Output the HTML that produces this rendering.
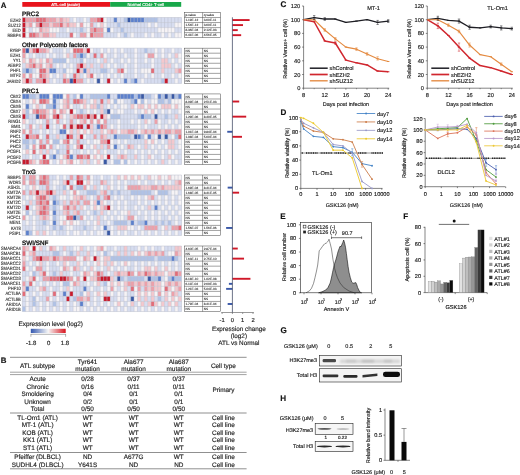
<!DOCTYPE html>
<html><head><meta charset="utf-8"><style>
html,body{margin:0;padding:0;background:#fff;width:520px;height:475px;overflow:hidden}
svg{display:block;font-family:"Liberation Sans", sans-serif;text-rendering:geometricPrecision;filter:blur(0.35px)}
</style></head><body>
<svg width="520" height="475" viewBox="0 0 520 475">
<rect width="520" height="475" fill="#fff"/>
<text x="0.80" y="7.60" font-size="7.9" text-anchor="start" fill="#111" stroke="#111" stroke-width="0.15" font-weight="bold" >A</text>
<rect x="22.30" y="2.00" width="87.90" height="4.80" fill="#e8141c" />
<rect x="110.20" y="2.00" width="71.00" height="4.80" fill="#18a84a" />
<text x="65.60" y="6.00" font-size="4.2" text-anchor="middle" fill="#fff" stroke="#fff" stroke-width="0.15" >ATL cell (acute)</text>
<text x="145.80" y="6.00" font-size="4.2" text-anchor="middle" fill="#fff" stroke="#fff" stroke-width="0.15" >Normal CD4+ T-cell</text>
<text x="22.10" y="16.20" font-size="6.3" text-anchor="start" fill="#111" stroke="#111" stroke-width="0.32" >PRC2</text>
<text x="20.80" y="21.60" font-size="4.8" text-anchor="end" fill="#3a3a3a" stroke="#3a3a3a" stroke-width="0.15" textLength="10.43" lengthAdjust="spacingAndGlyphs">EZH2</text>
<rect x="22.30" y="17.50" width="3.39" height="5.04" fill="#c81a2c"/>
<rect x="25.69" y="17.50" width="10.16" height="5.04" fill="#eda0a9"/>
<rect x="35.85" y="17.50" width="10.16" height="5.04" fill="#e36c77"/>
<rect x="46.01" y="17.50" width="10.16" height="5.04" fill="#eda0a9"/>
<rect x="56.17" y="17.50" width="3.39" height="5.04" fill="#f4c8cd"/>
<rect x="59.56" y="17.50" width="3.39" height="5.04" fill="#eda0a9"/>
<rect x="62.95" y="17.50" width="6.77" height="5.04" fill="#f4c8cd"/>
<rect x="69.72" y="17.50" width="3.39" height="5.04" fill="#d7ddf0"/>
<rect x="73.11" y="17.50" width="3.39" height="5.04" fill="#f6f3f5"/>
<rect x="76.50" y="17.50" width="6.77" height="5.04" fill="#d7ddf0"/>
<rect x="83.27" y="17.50" width="3.39" height="5.04" fill="#f6f3f5"/>
<rect x="86.66" y="17.50" width="3.39" height="5.04" fill="#d7ddf0"/>
<rect x="90.04" y="17.50" width="6.77" height="5.04" fill="#eda0a9"/>
<rect x="96.82" y="17.50" width="3.39" height="5.04" fill="#e36c77"/>
<rect x="100.21" y="17.50" width="3.39" height="5.04" fill="#c81a2c"/>
<rect x="103.59" y="17.50" width="3.39" height="5.04" fill="#f6f3f5"/>
<rect x="106.98" y="17.50" width="6.77" height="5.04" fill="#d7ddf0"/>
<rect x="113.76" y="17.50" width="3.39" height="5.04" fill="#5c80cc"/>
<rect x="117.14" y="17.50" width="6.77" height="5.04" fill="#d7ddf0"/>
<rect x="123.92" y="17.50" width="3.39" height="5.04" fill="#b0c2e6"/>
<rect x="127.30" y="17.50" width="3.39" height="5.04" fill="#3858a4"/>
<rect x="130.69" y="17.50" width="13.55" height="5.04" fill="#5c80cc"/>
<rect x="144.24" y="17.50" width="13.55" height="5.04" fill="#b0c2e6"/>
<rect x="157.79" y="17.50" width="23.71" height="5.04" fill="#d7ddf0"/>
<text x="20.80" y="26.64" font-size="4.8" text-anchor="end" fill="#3a3a3a" stroke="#3a3a3a" stroke-width="0.15" textLength="12.70" lengthAdjust="spacingAndGlyphs">SUZ12</text>
<rect x="22.30" y="22.54" width="3.39" height="5.04" fill="#c81a2c"/>
<rect x="25.69" y="22.54" width="3.39" height="5.04" fill="#f4c8cd"/>
<rect x="29.07" y="22.54" width="3.39" height="5.04" fill="#eda0a9"/>
<rect x="32.46" y="22.54" width="3.39" height="5.04" fill="#f6f3f5"/>
<rect x="35.85" y="22.54" width="3.39" height="5.04" fill="#eda0a9"/>
<rect x="39.24" y="22.54" width="3.39" height="5.04" fill="#c81a2c"/>
<rect x="42.62" y="22.54" width="6.77" height="5.04" fill="#eda0a9"/>
<rect x="49.40" y="22.54" width="3.39" height="5.04" fill="#f4c8cd"/>
<rect x="52.79" y="22.54" width="6.77" height="5.04" fill="#eda0a9"/>
<rect x="59.56" y="22.54" width="3.39" height="5.04" fill="#e36c77"/>
<rect x="62.95" y="22.54" width="3.39" height="5.04" fill="#f4c8cd"/>
<rect x="66.33" y="22.54" width="3.39" height="5.04" fill="#eda0a9"/>
<rect x="69.72" y="22.54" width="6.77" height="5.04" fill="#f4c8cd"/>
<rect x="76.50" y="22.54" width="3.39" height="5.04" fill="#f6f3f5"/>
<rect x="79.88" y="22.54" width="3.39" height="5.04" fill="#eda0a9"/>
<rect x="83.27" y="22.54" width="6.77" height="5.04" fill="#f6f3f5"/>
<rect x="90.04" y="22.54" width="3.39" height="5.04" fill="#eda0a9"/>
<rect x="93.43" y="22.54" width="3.39" height="5.04" fill="#d7ddf0"/>
<rect x="96.82" y="22.54" width="3.39" height="5.04" fill="#f6f3f5"/>
<rect x="100.21" y="22.54" width="3.39" height="5.04" fill="#f4c8cd"/>
<rect x="103.59" y="22.54" width="3.39" height="5.04" fill="#f6f3f5"/>
<rect x="106.98" y="22.54" width="10.16" height="5.04" fill="#d7ddf0"/>
<rect x="117.14" y="22.54" width="3.39" height="5.04" fill="#b0c2e6"/>
<rect x="120.53" y="22.54" width="27.10" height="5.04" fill="#d7ddf0"/>
<rect x="147.63" y="22.54" width="3.39" height="5.04" fill="#f6f3f5"/>
<rect x="151.01" y="22.54" width="3.39" height="5.04" fill="#d7ddf0"/>
<rect x="154.40" y="22.54" width="3.39" height="5.04" fill="#f6f3f5"/>
<rect x="157.79" y="22.54" width="16.94" height="5.04" fill="#d7ddf0"/>
<rect x="174.73" y="22.54" width="6.77" height="5.04" fill="#f6f3f5"/>
<text x="20.80" y="31.68" font-size="4.8" text-anchor="end" fill="#3a3a3a" stroke="#3a3a3a" stroke-width="0.15" textLength="8.39" lengthAdjust="spacingAndGlyphs">EED</text>
<rect x="22.30" y="27.58" width="3.39" height="5.04" fill="#c81a2c"/>
<rect x="25.69" y="27.58" width="3.39" height="5.04" fill="#f6f3f5"/>
<rect x="29.07" y="27.58" width="3.39" height="5.04" fill="#d7ddf0"/>
<rect x="32.46" y="27.58" width="6.77" height="5.04" fill="#f6f3f5"/>
<rect x="39.24" y="27.58" width="3.39" height="5.04" fill="#eda0a9"/>
<rect x="42.62" y="27.58" width="6.77" height="5.04" fill="#f4c8cd"/>
<rect x="49.40" y="27.58" width="10.16" height="5.04" fill="#f6f3f5"/>
<rect x="59.56" y="27.58" width="6.77" height="5.04" fill="#d7ddf0"/>
<rect x="66.33" y="27.58" width="3.39" height="5.04" fill="#f6f3f5"/>
<rect x="69.72" y="27.58" width="10.16" height="5.04" fill="#d7ddf0"/>
<rect x="79.88" y="27.58" width="3.39" height="5.04" fill="#b0c2e6"/>
<rect x="83.27" y="27.58" width="3.39" height="5.04" fill="#d7ddf0"/>
<rect x="86.66" y="27.58" width="3.39" height="5.04" fill="#f6f3f5"/>
<rect x="90.04" y="27.58" width="3.39" height="5.04" fill="#eda0a9"/>
<rect x="93.43" y="27.58" width="3.39" height="5.04" fill="#e36c77"/>
<rect x="96.82" y="27.58" width="6.77" height="5.04" fill="#eda0a9"/>
<rect x="103.59" y="27.58" width="3.39" height="5.04" fill="#f6f3f5"/>
<rect x="106.98" y="27.58" width="3.39" height="5.04" fill="#5c80cc"/>
<rect x="110.37" y="27.58" width="3.39" height="5.04" fill="#f6f3f5"/>
<rect x="113.76" y="27.58" width="6.77" height="5.04" fill="#d7ddf0"/>
<rect x="120.53" y="27.58" width="3.39" height="5.04" fill="#b0c2e6"/>
<rect x="123.92" y="27.58" width="33.87" height="5.04" fill="#d7ddf0"/>
<rect x="157.79" y="27.58" width="16.94" height="5.04" fill="#f6f3f5"/>
<rect x="174.73" y="27.58" width="6.77" height="5.04" fill="#d7ddf0"/>
<text x="20.80" y="36.72" font-size="4.8" text-anchor="end" fill="#3a3a3a" stroke="#3a3a3a" stroke-width="0.15" textLength="13.38" lengthAdjust="spacingAndGlyphs">RBBP4</text>
<rect x="22.30" y="32.62" width="3.39" height="5.04" fill="#c81a2c"/>
<rect x="25.69" y="32.62" width="3.39" height="5.04" fill="#f6f3f5"/>
<rect x="29.07" y="32.62" width="6.77" height="5.04" fill="#e36c77"/>
<rect x="35.85" y="32.62" width="3.39" height="5.04" fill="#eda0a9"/>
<rect x="39.24" y="32.62" width="3.39" height="5.04" fill="#f4c8cd"/>
<rect x="42.62" y="32.62" width="6.77" height="5.04" fill="#eda0a9"/>
<rect x="49.40" y="32.62" width="6.77" height="5.04" fill="#f4c8cd"/>
<rect x="56.17" y="32.62" width="13.55" height="5.04" fill="#d7ddf0"/>
<rect x="69.72" y="32.62" width="3.39" height="5.04" fill="#e36c77"/>
<rect x="73.11" y="32.62" width="3.39" height="5.04" fill="#f6f3f5"/>
<rect x="76.50" y="32.62" width="3.39" height="5.04" fill="#d7ddf0"/>
<rect x="79.88" y="32.62" width="6.77" height="5.04" fill="#eda0a9"/>
<rect x="86.66" y="32.62" width="3.39" height="5.04" fill="#f6f3f5"/>
<rect x="90.04" y="32.62" width="3.39" height="5.04" fill="#e36c77"/>
<rect x="93.43" y="32.62" width="10.16" height="5.04" fill="#eda0a9"/>
<rect x="103.59" y="32.62" width="13.55" height="5.04" fill="#d7ddf0"/>
<rect x="117.14" y="32.62" width="3.39" height="5.04" fill="#f6f3f5"/>
<rect x="120.53" y="32.62" width="3.39" height="5.04" fill="#d7ddf0"/>
<rect x="123.92" y="32.62" width="3.39" height="5.04" fill="#b0c2e6"/>
<rect x="127.30" y="32.62" width="3.39" height="5.04" fill="#d7ddf0"/>
<rect x="130.69" y="32.62" width="3.39" height="5.04" fill="#f6f3f5"/>
<rect x="134.08" y="32.62" width="10.16" height="5.04" fill="#d7ddf0"/>
<rect x="144.24" y="32.62" width="3.39" height="5.04" fill="#f6f3f5"/>
<rect x="147.63" y="32.62" width="3.39" height="5.04" fill="#d7ddf0"/>
<rect x="151.01" y="32.62" width="3.39" height="5.04" fill="#f6f3f5"/>
<rect x="154.40" y="32.62" width="6.77" height="5.04" fill="#d7ddf0"/>
<rect x="161.18" y="32.62" width="3.39" height="5.04" fill="#f6f3f5"/>
<rect x="164.56" y="32.62" width="3.39" height="5.04" fill="#d7ddf0"/>
<rect x="167.95" y="32.62" width="3.39" height="5.04" fill="#f6f3f5"/>
<rect x="171.34" y="32.62" width="3.39" height="5.04" fill="#d7ddf0"/>
<rect x="174.73" y="32.62" width="6.77" height="5.04" fill="#f6f3f5"/>
<path d="M22.30 17.50v20.16M25.69 17.50v20.16M29.07 17.50v20.16M32.46 17.50v20.16M35.85 17.50v20.16M39.24 17.50v20.16M42.62 17.50v20.16M46.01 17.50v20.16M49.40 17.50v20.16M52.79 17.50v20.16M56.17 17.50v20.16M59.56 17.50v20.16M62.95 17.50v20.16M66.33 17.50v20.16M69.72 17.50v20.16M73.11 17.50v20.16M76.50 17.50v20.16M79.88 17.50v20.16M83.27 17.50v20.16M86.66 17.50v20.16M90.04 17.50v20.16M93.43 17.50v20.16M96.82 17.50v20.16M100.21 17.50v20.16M103.59 17.50v20.16M106.98 17.50v20.16M110.37 17.50v20.16M113.76 17.50v20.16M117.14 17.50v20.16M120.53 17.50v20.16M123.92 17.50v20.16M127.30 17.50v20.16M130.69 17.50v20.16M134.08 17.50v20.16M137.47 17.50v20.16M140.85 17.50v20.16M144.24 17.50v20.16M147.63 17.50v20.16M151.01 17.50v20.16M154.40 17.50v20.16M157.79 17.50v20.16M161.18 17.50v20.16M164.56 17.50v20.16M167.95 17.50v20.16M171.34 17.50v20.16M174.73 17.50v20.16M178.11 17.50v20.16M181.50 17.50v20.16M22.30 17.50h159.20M22.30 22.54h159.20M22.30 27.58h159.20M22.30 32.62h159.20M22.30 37.66h159.20" stroke="#babecc" stroke-width="0.5" fill="none"/>
<rect x="184.30" y="12.46" width="36.10" height="25.20" fill="#fff" stroke="#444" stroke-width="0.5"/>
<line x1="202.60" y1="12.46" x2="202.60" y2="37.66" stroke="#444" stroke-width="0.5" />
<text x="185.40" y="16.06" font-size="3.2" text-anchor="start" fill="#333" stroke="#333" stroke-width="0.1" >p-value</text>
<text x="203.70" y="16.06" font-size="3.2" text-anchor="start" fill="#333" stroke="#333" stroke-width="0.1" >q-value</text>
<line x1="184.30" y1="17.50" x2="220.40" y2="17.50" stroke="#444" stroke-width="0.5" />
<text x="185.40" y="21.20" font-size="3.2" text-anchor="start" fill="#333" stroke="#333" stroke-width="0.1" >1.19E-12</text>
<text x="203.70" y="21.20" font-size="3.2" text-anchor="start" fill="#333" stroke="#333" stroke-width="0.1" >3.60E-11</text>
<rect x="232.40" y="19.10" width="17.20" height="1.90" fill="#d01828" />
<line x1="184.30" y1="22.54" x2="220.40" y2="22.54" stroke="#444" stroke-width="0.5" />
<text x="185.40" y="26.24" font-size="3.2" text-anchor="start" fill="#333" stroke="#333" stroke-width="0.1" >1.54E-12</text>
<text x="203.70" y="26.24" font-size="3.2" text-anchor="start" fill="#333" stroke="#333" stroke-width="0.1" >3.60E-11</text>
<rect x="232.40" y="24.14" width="10.61" height="1.90" fill="#d01828" />
<line x1="184.30" y1="27.58" x2="220.40" y2="27.58" stroke="#444" stroke-width="0.5" />
<text x="185.40" y="31.28" font-size="3.2" text-anchor="start" fill="#333" stroke="#333" stroke-width="0.1" >8.36E-04</text>
<text x="203.70" y="31.28" font-size="3.2" text-anchor="start" fill="#333" stroke="#333" stroke-width="0.1" >2.12E-03</text>
<rect x="232.40" y="29.18" width="5.36" height="1.90" fill="#d01828" />
<line x1="184.30" y1="32.62" x2="220.40" y2="32.62" stroke="#444" stroke-width="0.5" />
<text x="185.40" y="36.32" font-size="3.2" text-anchor="start" fill="#333" stroke="#333" stroke-width="0.1" >6.41E-06</text>
<text x="203.70" y="36.32" font-size="3.2" text-anchor="start" fill="#333" stroke="#333" stroke-width="0.1" >4.56E-05</text>
<rect x="232.40" y="34.22" width="8.76" height="1.90" fill="#d01828" />
<text x="22.10" y="46.86" font-size="6.3" text-anchor="start" fill="#111" stroke="#111" stroke-width="0.32" >Other Polycomb factors</text>
<text x="20.80" y="52.26" font-size="4.8" text-anchor="end" fill="#3a3a3a" stroke="#3a3a3a" stroke-width="0.15" textLength="11.04" lengthAdjust="spacingAndGlyphs">RYBP</text>
<rect x="22.30" y="48.16" width="3.39" height="5.04" fill="#e36c77"/>
<rect x="25.69" y="48.16" width="3.39" height="5.04" fill="#3858a4"/>
<rect x="29.07" y="48.16" width="3.39" height="5.04" fill="#f4c8cd"/>
<rect x="32.46" y="48.16" width="3.39" height="5.04" fill="#e36c77"/>
<rect x="35.85" y="48.16" width="3.39" height="5.04" fill="#c81a2c"/>
<rect x="39.24" y="48.16" width="6.77" height="5.04" fill="#eda0a9"/>
<rect x="46.01" y="48.16" width="3.39" height="5.04" fill="#f4c8cd"/>
<rect x="49.40" y="48.16" width="3.39" height="5.04" fill="#f6f3f5"/>
<rect x="52.79" y="48.16" width="10.16" height="5.04" fill="#d7ddf0"/>
<rect x="62.95" y="48.16" width="3.39" height="5.04" fill="#f6f3f5"/>
<rect x="66.33" y="48.16" width="3.39" height="5.04" fill="#d7ddf0"/>
<rect x="69.72" y="48.16" width="3.39" height="5.04" fill="#f6f3f5"/>
<rect x="73.11" y="48.16" width="10.16" height="5.04" fill="#e36c77"/>
<rect x="83.27" y="48.16" width="3.39" height="5.04" fill="#f4c8cd"/>
<rect x="86.66" y="48.16" width="3.39" height="5.04" fill="#c81a2c"/>
<rect x="90.04" y="48.16" width="3.39" height="5.04" fill="#f6f3f5"/>
<rect x="93.43" y="48.16" width="6.77" height="5.04" fill="#d7ddf0"/>
<rect x="100.21" y="48.16" width="3.39" height="5.04" fill="#f6f3f5"/>
<rect x="103.59" y="48.16" width="3.39" height="5.04" fill="#d7ddf0"/>
<rect x="106.98" y="48.16" width="3.39" height="5.04" fill="#f6f3f5"/>
<rect x="110.37" y="48.16" width="3.39" height="5.04" fill="#d7ddf0"/>
<rect x="113.76" y="48.16" width="3.39" height="5.04" fill="#f6f3f5"/>
<rect x="117.14" y="48.16" width="3.39" height="5.04" fill="#d7ddf0"/>
<rect x="120.53" y="48.16" width="3.39" height="5.04" fill="#f6f3f5"/>
<rect x="123.92" y="48.16" width="10.16" height="5.04" fill="#d7ddf0"/>
<rect x="134.08" y="48.16" width="3.39" height="5.04" fill="#f6f3f5"/>
<rect x="137.47" y="48.16" width="6.77" height="5.04" fill="#d7ddf0"/>
<rect x="144.24" y="48.16" width="3.39" height="5.04" fill="#b0c2e6"/>
<rect x="147.63" y="48.16" width="6.77" height="5.04" fill="#d7ddf0"/>
<rect x="154.40" y="48.16" width="3.39" height="5.04" fill="#f6f3f5"/>
<rect x="157.79" y="48.16" width="3.39" height="5.04" fill="#d7ddf0"/>
<rect x="161.18" y="48.16" width="3.39" height="5.04" fill="#f6f3f5"/>
<rect x="164.56" y="48.16" width="6.77" height="5.04" fill="#d7ddf0"/>
<rect x="171.34" y="48.16" width="3.39" height="5.04" fill="#f6f3f5"/>
<rect x="174.73" y="48.16" width="6.77" height="5.04" fill="#d7ddf0"/>
<text x="20.80" y="57.30" font-size="4.8" text-anchor="end" fill="#3a3a3a" stroke="#3a3a3a" stroke-width="0.15" textLength="10.43" lengthAdjust="spacingAndGlyphs">EZH1</text>
<rect x="22.30" y="53.20" width="3.39" height="5.04" fill="#eda0a9"/>
<rect x="25.69" y="53.20" width="3.39" height="5.04" fill="#f6f3f5"/>
<rect x="29.07" y="53.20" width="3.39" height="5.04" fill="#d7ddf0"/>
<rect x="32.46" y="53.20" width="3.39" height="5.04" fill="#f6f3f5"/>
<rect x="35.85" y="53.20" width="10.16" height="5.04" fill="#d7ddf0"/>
<rect x="46.01" y="53.20" width="3.39" height="5.04" fill="#f6f3f5"/>
<rect x="49.40" y="53.20" width="3.39" height="5.04" fill="#d7ddf0"/>
<rect x="52.79" y="53.20" width="3.39" height="5.04" fill="#f6f3f5"/>
<rect x="56.17" y="53.20" width="6.77" height="5.04" fill="#d7ddf0"/>
<rect x="62.95" y="53.20" width="3.39" height="5.04" fill="#f6f3f5"/>
<rect x="66.33" y="53.20" width="3.39" height="5.04" fill="#f4c8cd"/>
<rect x="69.72" y="53.20" width="3.39" height="5.04" fill="#d7ddf0"/>
<rect x="73.11" y="53.20" width="3.39" height="5.04" fill="#eda0a9"/>
<rect x="76.50" y="53.20" width="3.39" height="5.04" fill="#b0c2e6"/>
<rect x="79.88" y="53.20" width="3.39" height="5.04" fill="#5c80cc"/>
<rect x="83.27" y="53.20" width="3.39" height="5.04" fill="#b0c2e6"/>
<rect x="86.66" y="53.20" width="3.39" height="5.04" fill="#f6f3f5"/>
<rect x="90.04" y="53.20" width="3.39" height="5.04" fill="#d7ddf0"/>
<rect x="93.43" y="53.20" width="3.39" height="5.04" fill="#e36c77"/>
<rect x="96.82" y="53.20" width="3.39" height="5.04" fill="#d7ddf0"/>
<rect x="100.21" y="53.20" width="3.39" height="5.04" fill="#eda0a9"/>
<rect x="103.59" y="53.20" width="3.39" height="5.04" fill="#f6f3f5"/>
<rect x="106.98" y="53.20" width="6.77" height="5.04" fill="#d7ddf0"/>
<rect x="113.76" y="53.20" width="3.39" height="5.04" fill="#f6f3f5"/>
<rect x="117.14" y="53.20" width="6.77" height="5.04" fill="#d7ddf0"/>
<rect x="123.92" y="53.20" width="3.39" height="5.04" fill="#f6f3f5"/>
<rect x="127.30" y="53.20" width="6.77" height="5.04" fill="#d7ddf0"/>
<rect x="134.08" y="53.20" width="3.39" height="5.04" fill="#f6f3f5"/>
<rect x="137.47" y="53.20" width="6.77" height="5.04" fill="#d7ddf0"/>
<rect x="144.24" y="53.20" width="3.39" height="5.04" fill="#f6f3f5"/>
<rect x="147.63" y="53.20" width="6.77" height="5.04" fill="#eda0a9"/>
<rect x="154.40" y="53.20" width="3.39" height="5.04" fill="#f6f3f5"/>
<rect x="157.79" y="53.20" width="3.39" height="5.04" fill="#d7ddf0"/>
<rect x="161.18" y="53.20" width="3.39" height="5.04" fill="#f6f3f5"/>
<rect x="164.56" y="53.20" width="3.39" height="5.04" fill="#d7ddf0"/>
<rect x="167.95" y="53.20" width="3.39" height="5.04" fill="#f6f3f5"/>
<rect x="171.34" y="53.20" width="3.39" height="5.04" fill="#d7ddf0"/>
<rect x="174.73" y="53.20" width="3.39" height="5.04" fill="#f4c8cd"/>
<rect x="178.11" y="53.20" width="3.39" height="5.04" fill="#f6f3f5"/>
<text x="20.80" y="62.34" font-size="4.8" text-anchor="end" fill="#3a3a3a" stroke="#3a3a3a" stroke-width="0.15" textLength="7.71" lengthAdjust="spacingAndGlyphs">YY1</text>
<rect x="22.30" y="58.24" width="3.39" height="5.04" fill="#f4c8cd"/>
<rect x="25.69" y="58.24" width="3.39" height="5.04" fill="#f6f3f5"/>
<rect x="29.07" y="58.24" width="3.39" height="5.04" fill="#eda0a9"/>
<rect x="32.46" y="58.24" width="3.39" height="5.04" fill="#f4c8cd"/>
<rect x="35.85" y="58.24" width="3.39" height="5.04" fill="#f6f3f5"/>
<rect x="39.24" y="58.24" width="3.39" height="5.04" fill="#f4c8cd"/>
<rect x="42.62" y="58.24" width="3.39" height="5.04" fill="#f6f3f5"/>
<rect x="46.01" y="58.24" width="3.39" height="5.04" fill="#eda0a9"/>
<rect x="49.40" y="58.24" width="3.39" height="5.04" fill="#f4c8cd"/>
<rect x="52.79" y="58.24" width="13.55" height="5.04" fill="#b0c2e6"/>
<rect x="66.33" y="58.24" width="3.39" height="5.04" fill="#f6f3f5"/>
<rect x="69.72" y="58.24" width="10.16" height="5.04" fill="#d7ddf0"/>
<rect x="79.88" y="58.24" width="3.39" height="5.04" fill="#b0c2e6"/>
<rect x="83.27" y="58.24" width="3.39" height="5.04" fill="#f6f3f5"/>
<rect x="86.66" y="58.24" width="10.16" height="5.04" fill="#d7ddf0"/>
<rect x="96.82" y="58.24" width="3.39" height="5.04" fill="#f6f3f5"/>
<rect x="100.21" y="58.24" width="3.39" height="5.04" fill="#d7ddf0"/>
<rect x="103.59" y="58.24" width="3.39" height="5.04" fill="#f4c8cd"/>
<rect x="106.98" y="58.24" width="3.39" height="5.04" fill="#d7ddf0"/>
<rect x="110.37" y="58.24" width="3.39" height="5.04" fill="#f6f3f5"/>
<rect x="113.76" y="58.24" width="6.77" height="5.04" fill="#d7ddf0"/>
<rect x="120.53" y="58.24" width="3.39" height="5.04" fill="#f6f3f5"/>
<rect x="123.92" y="58.24" width="3.39" height="5.04" fill="#d7ddf0"/>
<rect x="127.30" y="58.24" width="3.39" height="5.04" fill="#f6f3f5"/>
<rect x="130.69" y="58.24" width="3.39" height="5.04" fill="#d7ddf0"/>
<rect x="134.08" y="58.24" width="3.39" height="5.04" fill="#f6f3f5"/>
<rect x="137.47" y="58.24" width="6.77" height="5.04" fill="#d7ddf0"/>
<rect x="144.24" y="58.24" width="3.39" height="5.04" fill="#f6f3f5"/>
<rect x="147.63" y="58.24" width="3.39" height="5.04" fill="#d7ddf0"/>
<rect x="151.01" y="58.24" width="3.39" height="5.04" fill="#f6f3f5"/>
<rect x="154.40" y="58.24" width="6.77" height="5.04" fill="#d7ddf0"/>
<rect x="161.18" y="58.24" width="6.77" height="5.04" fill="#f4c8cd"/>
<rect x="167.95" y="58.24" width="3.39" height="5.04" fill="#d7ddf0"/>
<rect x="171.34" y="58.24" width="3.39" height="5.04" fill="#f6f3f5"/>
<rect x="174.73" y="58.24" width="3.39" height="5.04" fill="#d7ddf0"/>
<rect x="178.11" y="58.24" width="3.39" height="5.04" fill="#f6f3f5"/>
<text x="20.80" y="67.38" font-size="4.8" text-anchor="end" fill="#3a3a3a" stroke="#3a3a3a" stroke-width="0.15" textLength="13.15" lengthAdjust="spacingAndGlyphs">AEBP2</text>
<rect x="22.30" y="63.28" width="3.39" height="5.04" fill="#d7ddf0"/>
<rect x="25.69" y="63.28" width="3.39" height="5.04" fill="#f4c8cd"/>
<rect x="29.07" y="63.28" width="3.39" height="5.04" fill="#eda0a9"/>
<rect x="32.46" y="63.28" width="3.39" height="5.04" fill="#e36c77"/>
<rect x="35.85" y="63.28" width="3.39" height="5.04" fill="#f4c8cd"/>
<rect x="39.24" y="63.28" width="3.39" height="5.04" fill="#eda0a9"/>
<rect x="42.62" y="63.28" width="3.39" height="5.04" fill="#f6f3f5"/>
<rect x="46.01" y="63.28" width="3.39" height="5.04" fill="#f4c8cd"/>
<rect x="49.40" y="63.28" width="3.39" height="5.04" fill="#eda0a9"/>
<rect x="52.79" y="63.28" width="3.39" height="5.04" fill="#d7ddf0"/>
<rect x="56.17" y="63.28" width="3.39" height="5.04" fill="#f6f3f5"/>
<rect x="59.56" y="63.28" width="3.39" height="5.04" fill="#d7ddf0"/>
<rect x="62.95" y="63.28" width="3.39" height="5.04" fill="#f6f3f5"/>
<rect x="66.33" y="63.28" width="3.39" height="5.04" fill="#d7ddf0"/>
<rect x="69.72" y="63.28" width="3.39" height="5.04" fill="#f6f3f5"/>
<rect x="73.11" y="63.28" width="3.39" height="5.04" fill="#d7ddf0"/>
<rect x="76.50" y="63.28" width="3.39" height="5.04" fill="#eda0a9"/>
<rect x="79.88" y="63.28" width="3.39" height="5.04" fill="#c81a2c"/>
<rect x="83.27" y="63.28" width="3.39" height="5.04" fill="#f4c8cd"/>
<rect x="86.66" y="63.28" width="3.39" height="5.04" fill="#d7ddf0"/>
<rect x="90.04" y="63.28" width="3.39" height="5.04" fill="#f4c8cd"/>
<rect x="93.43" y="63.28" width="6.77" height="5.04" fill="#d7ddf0"/>
<rect x="100.21" y="63.28" width="3.39" height="5.04" fill="#f4c8cd"/>
<rect x="103.59" y="63.28" width="3.39" height="5.04" fill="#d7ddf0"/>
<rect x="106.98" y="63.28" width="3.39" height="5.04" fill="#f6f3f5"/>
<rect x="110.37" y="63.28" width="3.39" height="5.04" fill="#d7ddf0"/>
<rect x="113.76" y="63.28" width="3.39" height="5.04" fill="#f6f3f5"/>
<rect x="117.14" y="63.28" width="6.77" height="5.04" fill="#d7ddf0"/>
<rect x="123.92" y="63.28" width="3.39" height="5.04" fill="#f6f3f5"/>
<rect x="127.30" y="63.28" width="6.77" height="5.04" fill="#d7ddf0"/>
<rect x="134.08" y="63.28" width="3.39" height="5.04" fill="#f6f3f5"/>
<rect x="137.47" y="63.28" width="13.55" height="5.04" fill="#d7ddf0"/>
<rect x="151.01" y="63.28" width="3.39" height="5.04" fill="#f6f3f5"/>
<rect x="154.40" y="63.28" width="6.77" height="5.04" fill="#d7ddf0"/>
<rect x="161.18" y="63.28" width="10.16" height="5.04" fill="#f4c8cd"/>
<rect x="171.34" y="63.28" width="3.39" height="5.04" fill="#d7ddf0"/>
<rect x="174.73" y="63.28" width="3.39" height="5.04" fill="#f6f3f5"/>
<rect x="178.11" y="63.28" width="3.39" height="5.04" fill="#d7ddf0"/>
<text x="20.80" y="72.42" font-size="4.8" text-anchor="end" fill="#3a3a3a" stroke="#3a3a3a" stroke-width="0.15" textLength="10.43" lengthAdjust="spacingAndGlyphs">PHF1</text>
<rect x="22.30" y="68.32" width="3.39" height="5.04" fill="#b0c2e6"/>
<rect x="25.69" y="68.32" width="3.39" height="5.04" fill="#5c80cc"/>
<rect x="29.07" y="68.32" width="3.39" height="5.04" fill="#b0c2e6"/>
<rect x="32.46" y="68.32" width="3.39" height="5.04" fill="#d7ddf0"/>
<rect x="35.85" y="68.32" width="3.39" height="5.04" fill="#f6f3f5"/>
<rect x="39.24" y="68.32" width="6.77" height="5.04" fill="#e36c77"/>
<rect x="46.01" y="68.32" width="3.39" height="5.04" fill="#f4c8cd"/>
<rect x="49.40" y="68.32" width="6.77" height="5.04" fill="#5c80cc"/>
<rect x="56.17" y="68.32" width="6.77" height="5.04" fill="#d7ddf0"/>
<rect x="62.95" y="68.32" width="3.39" height="5.04" fill="#b0c2e6"/>
<rect x="66.33" y="68.32" width="6.77" height="5.04" fill="#f6f3f5"/>
<rect x="73.11" y="68.32" width="3.39" height="5.04" fill="#d7ddf0"/>
<rect x="76.50" y="68.32" width="3.39" height="5.04" fill="#c81a2c"/>
<rect x="79.88" y="68.32" width="3.39" height="5.04" fill="#f4c8cd"/>
<rect x="83.27" y="68.32" width="3.39" height="5.04" fill="#5c80cc"/>
<rect x="86.66" y="68.32" width="3.39" height="5.04" fill="#f4c8cd"/>
<rect x="90.04" y="68.32" width="10.16" height="5.04" fill="#d7ddf0"/>
<rect x="100.21" y="68.32" width="6.77" height="5.04" fill="#b0c2e6"/>
<rect x="106.98" y="68.32" width="3.39" height="5.04" fill="#d7ddf0"/>
<rect x="110.37" y="68.32" width="3.39" height="5.04" fill="#f6f3f5"/>
<rect x="113.76" y="68.32" width="3.39" height="5.04" fill="#d7ddf0"/>
<rect x="117.14" y="68.32" width="3.39" height="5.04" fill="#eda0a9"/>
<rect x="120.53" y="68.32" width="3.39" height="5.04" fill="#e36c77"/>
<rect x="123.92" y="68.32" width="3.39" height="5.04" fill="#f6f3f5"/>
<rect x="127.30" y="68.32" width="6.77" height="5.04" fill="#d7ddf0"/>
<rect x="134.08" y="68.32" width="3.39" height="5.04" fill="#f6f3f5"/>
<rect x="137.47" y="68.32" width="3.39" height="5.04" fill="#d7ddf0"/>
<rect x="140.85" y="68.32" width="10.16" height="5.04" fill="#f6f3f5"/>
<rect x="151.01" y="68.32" width="3.39" height="5.04" fill="#e36c77"/>
<rect x="154.40" y="68.32" width="6.77" height="5.04" fill="#d7ddf0"/>
<rect x="161.18" y="68.32" width="3.39" height="5.04" fill="#f4c8cd"/>
<rect x="164.56" y="68.32" width="10.16" height="5.04" fill="#d7ddf0"/>
<rect x="174.73" y="68.32" width="3.39" height="5.04" fill="#f4c8cd"/>
<rect x="178.11" y="68.32" width="3.39" height="5.04" fill="#eda0a9"/>
<text x="20.80" y="77.46" font-size="4.8" text-anchor="end" fill="#3a3a3a" stroke="#3a3a3a" stroke-width="0.15" textLength="10.65" lengthAdjust="spacingAndGlyphs">MTF2</text>
<rect x="22.30" y="73.36" width="3.39" height="5.04" fill="#eda0a9"/>
<rect x="25.69" y="73.36" width="3.39" height="5.04" fill="#f6f3f5"/>
<rect x="29.07" y="73.36" width="3.39" height="5.04" fill="#eda0a9"/>
<rect x="32.46" y="73.36" width="6.77" height="5.04" fill="#f6f3f5"/>
<rect x="39.24" y="73.36" width="3.39" height="5.04" fill="#e36c77"/>
<rect x="42.62" y="73.36" width="3.39" height="5.04" fill="#eda0a9"/>
<rect x="46.01" y="73.36" width="3.39" height="5.04" fill="#f4c8cd"/>
<rect x="49.40" y="73.36" width="3.39" height="5.04" fill="#f6f3f5"/>
<rect x="52.79" y="73.36" width="3.39" height="5.04" fill="#d7ddf0"/>
<rect x="56.17" y="73.36" width="3.39" height="5.04" fill="#f6f3f5"/>
<rect x="59.56" y="73.36" width="3.39" height="5.04" fill="#d7ddf0"/>
<rect x="62.95" y="73.36" width="3.39" height="5.04" fill="#f4c8cd"/>
<rect x="66.33" y="73.36" width="3.39" height="5.04" fill="#f6f3f5"/>
<rect x="69.72" y="73.36" width="3.39" height="5.04" fill="#d7ddf0"/>
<rect x="73.11" y="73.36" width="3.39" height="5.04" fill="#e36c77"/>
<rect x="76.50" y="73.36" width="3.39" height="5.04" fill="#f4c8cd"/>
<rect x="79.88" y="73.36" width="3.39" height="5.04" fill="#d7ddf0"/>
<rect x="83.27" y="73.36" width="3.39" height="5.04" fill="#f6f3f5"/>
<rect x="86.66" y="73.36" width="3.39" height="5.04" fill="#f4c8cd"/>
<rect x="90.04" y="73.36" width="3.39" height="5.04" fill="#e36c77"/>
<rect x="93.43" y="73.36" width="3.39" height="5.04" fill="#f6f3f5"/>
<rect x="96.82" y="73.36" width="3.39" height="5.04" fill="#d7ddf0"/>
<rect x="100.21" y="73.36" width="3.39" height="5.04" fill="#f6f3f5"/>
<rect x="103.59" y="73.36" width="3.39" height="5.04" fill="#d7ddf0"/>
<rect x="106.98" y="73.36" width="3.39" height="5.04" fill="#f6f3f5"/>
<rect x="110.37" y="73.36" width="3.39" height="5.04" fill="#d7ddf0"/>
<rect x="113.76" y="73.36" width="3.39" height="5.04" fill="#f6f3f5"/>
<rect x="117.14" y="73.36" width="3.39" height="5.04" fill="#d7ddf0"/>
<rect x="120.53" y="73.36" width="3.39" height="5.04" fill="#f6f3f5"/>
<rect x="123.92" y="73.36" width="10.16" height="5.04" fill="#d7ddf0"/>
<rect x="134.08" y="73.36" width="3.39" height="5.04" fill="#f6f3f5"/>
<rect x="137.47" y="73.36" width="6.77" height="5.04" fill="#d7ddf0"/>
<rect x="144.24" y="73.36" width="3.39" height="5.04" fill="#f6f3f5"/>
<rect x="147.63" y="73.36" width="3.39" height="5.04" fill="#d7ddf0"/>
<rect x="151.01" y="73.36" width="3.39" height="5.04" fill="#f6f3f5"/>
<rect x="154.40" y="73.36" width="6.77" height="5.04" fill="#d7ddf0"/>
<rect x="161.18" y="73.36" width="3.39" height="5.04" fill="#f6f3f5"/>
<rect x="164.56" y="73.36" width="6.77" height="5.04" fill="#d7ddf0"/>
<rect x="171.34" y="73.36" width="3.39" height="5.04" fill="#f6f3f5"/>
<rect x="174.73" y="73.36" width="3.39" height="5.04" fill="#d7ddf0"/>
<rect x="178.11" y="73.36" width="3.39" height="5.04" fill="#f6f3f5"/>
<text x="20.80" y="82.50" font-size="4.8" text-anchor="end" fill="#3a3a3a" stroke="#3a3a3a" stroke-width="0.15" textLength="14.06" lengthAdjust="spacingAndGlyphs">JARID2</text>
<rect x="22.30" y="78.40" width="3.39" height="5.04" fill="#f4c8cd"/>
<rect x="25.69" y="78.40" width="3.39" height="5.04" fill="#c81a2c"/>
<rect x="29.07" y="78.40" width="3.39" height="5.04" fill="#eda0a9"/>
<rect x="32.46" y="78.40" width="3.39" height="5.04" fill="#d7ddf0"/>
<rect x="35.85" y="78.40" width="6.77" height="5.04" fill="#eda0a9"/>
<rect x="42.62" y="78.40" width="3.39" height="5.04" fill="#c81a2c"/>
<rect x="46.01" y="78.40" width="3.39" height="5.04" fill="#f4c8cd"/>
<rect x="49.40" y="78.40" width="3.39" height="5.04" fill="#d7ddf0"/>
<rect x="52.79" y="78.40" width="3.39" height="5.04" fill="#f6f3f5"/>
<rect x="56.17" y="78.40" width="6.77" height="5.04" fill="#d7ddf0"/>
<rect x="62.95" y="78.40" width="3.39" height="5.04" fill="#e36c77"/>
<rect x="66.33" y="78.40" width="3.39" height="5.04" fill="#eda0a9"/>
<rect x="69.72" y="78.40" width="3.39" height="5.04" fill="#3858a4"/>
<rect x="73.11" y="78.40" width="3.39" height="5.04" fill="#c81a2c"/>
<rect x="76.50" y="78.40" width="6.77" height="5.04" fill="#eda0a9"/>
<rect x="83.27" y="78.40" width="3.39" height="5.04" fill="#d7ddf0"/>
<rect x="86.66" y="78.40" width="3.39" height="5.04" fill="#f6f3f5"/>
<rect x="90.04" y="78.40" width="3.39" height="5.04" fill="#d7ddf0"/>
<rect x="93.43" y="78.40" width="3.39" height="5.04" fill="#f6f3f5"/>
<rect x="96.82" y="78.40" width="3.39" height="5.04" fill="#3858a4"/>
<rect x="100.21" y="78.40" width="3.39" height="5.04" fill="#f6f3f5"/>
<rect x="103.59" y="78.40" width="3.39" height="5.04" fill="#d7ddf0"/>
<rect x="106.98" y="78.40" width="3.39" height="5.04" fill="#c81a2c"/>
<rect x="110.37" y="78.40" width="3.39" height="5.04" fill="#f6f3f5"/>
<rect x="113.76" y="78.40" width="3.39" height="5.04" fill="#d7ddf0"/>
<rect x="117.14" y="78.40" width="3.39" height="5.04" fill="#f6f3f5"/>
<rect x="120.53" y="78.40" width="3.39" height="5.04" fill="#d7ddf0"/>
<rect x="123.92" y="78.40" width="3.39" height="5.04" fill="#5c80cc"/>
<rect x="127.30" y="78.40" width="3.39" height="5.04" fill="#d7ddf0"/>
<rect x="130.69" y="78.40" width="3.39" height="5.04" fill="#b0c2e6"/>
<rect x="134.08" y="78.40" width="3.39" height="5.04" fill="#5c80cc"/>
<rect x="137.47" y="78.40" width="3.39" height="5.04" fill="#d7ddf0"/>
<rect x="140.85" y="78.40" width="3.39" height="5.04" fill="#f6f3f5"/>
<rect x="144.24" y="78.40" width="16.94" height="5.04" fill="#d7ddf0"/>
<rect x="161.18" y="78.40" width="3.39" height="5.04" fill="#b0c2e6"/>
<rect x="164.56" y="78.40" width="3.39" height="5.04" fill="#c81a2c"/>
<rect x="167.95" y="78.40" width="6.77" height="5.04" fill="#d7ddf0"/>
<rect x="174.73" y="78.40" width="3.39" height="5.04" fill="#f6f3f5"/>
<rect x="178.11" y="78.40" width="3.39" height="5.04" fill="#d7ddf0"/>
<path d="M22.30 48.16v35.28M25.69 48.16v35.28M29.07 48.16v35.28M32.46 48.16v35.28M35.85 48.16v35.28M39.24 48.16v35.28M42.62 48.16v35.28M46.01 48.16v35.28M49.40 48.16v35.28M52.79 48.16v35.28M56.17 48.16v35.28M59.56 48.16v35.28M62.95 48.16v35.28M66.33 48.16v35.28M69.72 48.16v35.28M73.11 48.16v35.28M76.50 48.16v35.28M79.88 48.16v35.28M83.27 48.16v35.28M86.66 48.16v35.28M90.04 48.16v35.28M93.43 48.16v35.28M96.82 48.16v35.28M100.21 48.16v35.28M103.59 48.16v35.28M106.98 48.16v35.28M110.37 48.16v35.28M113.76 48.16v35.28M117.14 48.16v35.28M120.53 48.16v35.28M123.92 48.16v35.28M127.30 48.16v35.28M130.69 48.16v35.28M134.08 48.16v35.28M137.47 48.16v35.28M140.85 48.16v35.28M144.24 48.16v35.28M147.63 48.16v35.28M151.01 48.16v35.28M154.40 48.16v35.28M157.79 48.16v35.28M161.18 48.16v35.28M164.56 48.16v35.28M167.95 48.16v35.28M171.34 48.16v35.28M174.73 48.16v35.28M178.11 48.16v35.28M181.50 48.16v35.28M22.30 48.16h159.20M22.30 53.20h159.20M22.30 58.24h159.20M22.30 63.28h159.20M22.30 68.32h159.20M22.30 73.36h159.20M22.30 78.40h159.20M22.30 83.44h159.20" stroke="#babecc" stroke-width="0.5" fill="none"/>
<rect x="184.30" y="48.16" width="36.10" height="35.28" fill="#fff" stroke="#444" stroke-width="0.5"/>
<line x1="202.60" y1="48.16" x2="202.60" y2="83.44" stroke="#444" stroke-width="0.5" />
<text x="185.40" y="51.86" font-size="3.2" text-anchor="start" fill="#333" stroke="#333" stroke-width="0.1" >NS</text>
<text x="203.70" y="51.86" font-size="3.2" text-anchor="start" fill="#333" stroke="#333" stroke-width="0.1" >NS</text>
<line x1="184.30" y1="53.20" x2="220.40" y2="53.20" stroke="#444" stroke-width="0.5" />
<text x="185.40" y="56.90" font-size="3.2" text-anchor="start" fill="#333" stroke="#333" stroke-width="0.1" >NS</text>
<text x="203.70" y="56.90" font-size="3.2" text-anchor="start" fill="#333" stroke="#333" stroke-width="0.1" >NS</text>
<line x1="184.30" y1="58.24" x2="220.40" y2="58.24" stroke="#444" stroke-width="0.5" />
<text x="185.40" y="61.94" font-size="3.2" text-anchor="start" fill="#333" stroke="#333" stroke-width="0.1" >NS</text>
<text x="203.70" y="61.94" font-size="3.2" text-anchor="start" fill="#333" stroke="#333" stroke-width="0.1" >NS</text>
<line x1="184.30" y1="63.28" x2="220.40" y2="63.28" stroke="#444" stroke-width="0.5" />
<text x="185.40" y="66.98" font-size="3.2" text-anchor="start" fill="#333" stroke="#333" stroke-width="0.1" >NS</text>
<text x="203.70" y="66.98" font-size="3.2" text-anchor="start" fill="#333" stroke="#333" stroke-width="0.1" >NS</text>
<line x1="184.30" y1="68.32" x2="220.40" y2="68.32" stroke="#444" stroke-width="0.5" />
<text x="185.40" y="72.02" font-size="3.2" text-anchor="start" fill="#333" stroke="#333" stroke-width="0.1" >NS</text>
<text x="203.70" y="72.02" font-size="3.2" text-anchor="start" fill="#333" stroke="#333" stroke-width="0.1" >NS</text>
<line x1="184.30" y1="73.36" x2="220.40" y2="73.36" stroke="#444" stroke-width="0.5" />
<text x="185.40" y="77.06" font-size="3.2" text-anchor="start" fill="#333" stroke="#333" stroke-width="0.1" >NS</text>
<text x="203.70" y="77.06" font-size="3.2" text-anchor="start" fill="#333" stroke="#333" stroke-width="0.1" >NS</text>
<line x1="184.30" y1="78.40" x2="220.40" y2="78.40" stroke="#444" stroke-width="0.5" />
<text x="185.40" y="82.10" font-size="3.2" text-anchor="start" fill="#333" stroke="#333" stroke-width="0.1" >NS</text>
<text x="203.70" y="82.10" font-size="3.2" text-anchor="start" fill="#333" stroke="#333" stroke-width="0.1" >NS</text>
<text x="22.10" y="92.64" font-size="6.3" text-anchor="start" fill="#111" stroke="#111" stroke-width="0.32" >PRC1</text>
<text x="20.80" y="98.04" font-size="4.8" text-anchor="end" fill="#3a3a3a" stroke="#3a3a3a" stroke-width="0.15" textLength="10.66" lengthAdjust="spacingAndGlyphs">CBX2</text>
<rect x="22.30" y="93.94" width="6.77" height="5.04" fill="#5c80cc"/>
<rect x="29.07" y="93.94" width="6.77" height="5.04" fill="#b0c2e6"/>
<rect x="35.85" y="93.94" width="3.39" height="5.04" fill="#d7ddf0"/>
<rect x="39.24" y="93.94" width="10.16" height="5.04" fill="#5c80cc"/>
<rect x="49.40" y="93.94" width="3.39" height="5.04" fill="#f6f3f5"/>
<rect x="52.79" y="93.94" width="10.16" height="5.04" fill="#5c80cc"/>
<rect x="62.95" y="93.94" width="3.39" height="5.04" fill="#f6f3f5"/>
<rect x="66.33" y="93.94" width="3.39" height="5.04" fill="#eda0a9"/>
<rect x="69.72" y="93.94" width="3.39" height="5.04" fill="#d7ddf0"/>
<rect x="73.11" y="93.94" width="3.39" height="5.04" fill="#b0c2e6"/>
<rect x="76.50" y="93.94" width="3.39" height="5.04" fill="#f6f3f5"/>
<rect x="79.88" y="93.94" width="3.39" height="5.04" fill="#5c80cc"/>
<rect x="83.27" y="93.94" width="6.77" height="5.04" fill="#d7ddf0"/>
<rect x="90.04" y="93.94" width="16.94" height="5.04" fill="#b0c2e6"/>
<rect x="106.98" y="93.94" width="3.39" height="5.04" fill="#5c80cc"/>
<rect x="110.37" y="93.94" width="6.77" height="5.04" fill="#d7ddf0"/>
<rect x="117.14" y="93.94" width="16.94" height="5.04" fill="#5c80cc"/>
<rect x="134.08" y="93.94" width="3.39" height="5.04" fill="#b0c2e6"/>
<rect x="137.47" y="93.94" width="3.39" height="5.04" fill="#5c80cc"/>
<rect x="140.85" y="93.94" width="3.39" height="5.04" fill="#3858a4"/>
<rect x="144.24" y="93.94" width="6.77" height="5.04" fill="#b0c2e6"/>
<rect x="151.01" y="93.94" width="3.39" height="5.04" fill="#d7ddf0"/>
<rect x="154.40" y="93.94" width="3.39" height="5.04" fill="#f6f3f5"/>
<rect x="157.79" y="93.94" width="3.39" height="5.04" fill="#5c80cc"/>
<rect x="161.18" y="93.94" width="3.39" height="5.04" fill="#b0c2e6"/>
<rect x="164.56" y="93.94" width="3.39" height="5.04" fill="#3858a4"/>
<rect x="167.95" y="93.94" width="3.39" height="5.04" fill="#b0c2e6"/>
<rect x="171.34" y="93.94" width="3.39" height="5.04" fill="#3858a4"/>
<rect x="174.73" y="93.94" width="3.39" height="5.04" fill="#b0c2e6"/>
<rect x="178.11" y="93.94" width="3.39" height="5.04" fill="#5c80cc"/>
<text x="20.80" y="103.08" font-size="4.8" text-anchor="end" fill="#3a3a3a" stroke="#3a3a3a" stroke-width="0.15" textLength="10.66" lengthAdjust="spacingAndGlyphs">CBX4</text>
<rect x="22.30" y="98.98" width="3.39" height="5.04" fill="#f6f3f5"/>
<rect x="25.69" y="98.98" width="3.39" height="5.04" fill="#d7ddf0"/>
<rect x="29.07" y="98.98" width="3.39" height="5.04" fill="#f6f3f5"/>
<rect x="32.46" y="98.98" width="3.39" height="5.04" fill="#f4c8cd"/>
<rect x="35.85" y="98.98" width="3.39" height="5.04" fill="#f6f3f5"/>
<rect x="39.24" y="98.98" width="6.77" height="5.04" fill="#e36c77"/>
<rect x="46.01" y="98.98" width="3.39" height="5.04" fill="#eda0a9"/>
<rect x="49.40" y="98.98" width="3.39" height="5.04" fill="#f6f3f5"/>
<rect x="52.79" y="98.98" width="3.39" height="5.04" fill="#5c80cc"/>
<rect x="56.17" y="98.98" width="3.39" height="5.04" fill="#d7ddf0"/>
<rect x="59.56" y="98.98" width="3.39" height="5.04" fill="#f6f3f5"/>
<rect x="62.95" y="98.98" width="3.39" height="5.04" fill="#f4c8cd"/>
<rect x="66.33" y="98.98" width="3.39" height="5.04" fill="#eda0a9"/>
<rect x="69.72" y="98.98" width="3.39" height="5.04" fill="#d7ddf0"/>
<rect x="73.11" y="98.98" width="6.77" height="5.04" fill="#e36c77"/>
<rect x="79.88" y="98.98" width="3.39" height="5.04" fill="#eda0a9"/>
<rect x="83.27" y="98.98" width="3.39" height="5.04" fill="#f4c8cd"/>
<rect x="86.66" y="98.98" width="3.39" height="5.04" fill="#d7ddf0"/>
<rect x="90.04" y="98.98" width="3.39" height="5.04" fill="#f6f3f5"/>
<rect x="93.43" y="98.98" width="3.39" height="5.04" fill="#f4c8cd"/>
<rect x="96.82" y="98.98" width="3.39" height="5.04" fill="#d7ddf0"/>
<rect x="100.21" y="98.98" width="3.39" height="5.04" fill="#e36c77"/>
<rect x="103.59" y="98.98" width="3.39" height="5.04" fill="#d7ddf0"/>
<rect x="106.98" y="98.98" width="3.39" height="5.04" fill="#f4c8cd"/>
<rect x="110.37" y="98.98" width="3.39" height="5.04" fill="#f6f3f5"/>
<rect x="113.76" y="98.98" width="3.39" height="5.04" fill="#b0c2e6"/>
<rect x="117.14" y="98.98" width="6.77" height="5.04" fill="#f6f3f5"/>
<rect x="123.92" y="98.98" width="6.77" height="5.04" fill="#d7ddf0"/>
<rect x="130.69" y="98.98" width="3.39" height="5.04" fill="#b0c2e6"/>
<rect x="134.08" y="98.98" width="3.39" height="5.04" fill="#5c80cc"/>
<rect x="137.47" y="98.98" width="3.39" height="5.04" fill="#f6f3f5"/>
<rect x="140.85" y="98.98" width="3.39" height="5.04" fill="#b0c2e6"/>
<rect x="144.24" y="98.98" width="3.39" height="5.04" fill="#f6f3f5"/>
<rect x="147.63" y="98.98" width="3.39" height="5.04" fill="#d7ddf0"/>
<rect x="151.01" y="98.98" width="6.77" height="5.04" fill="#f6f3f5"/>
<rect x="157.79" y="98.98" width="6.77" height="5.04" fill="#b0c2e6"/>
<rect x="164.56" y="98.98" width="3.39" height="5.04" fill="#d7ddf0"/>
<rect x="167.95" y="98.98" width="3.39" height="5.04" fill="#b0c2e6"/>
<rect x="171.34" y="98.98" width="10.16" height="5.04" fill="#f6f3f5"/>
<text x="20.80" y="108.12" font-size="4.8" text-anchor="end" fill="#3a3a3a" stroke="#3a3a3a" stroke-width="0.15" textLength="10.66" lengthAdjust="spacingAndGlyphs">CBX6</text>
<rect x="22.30" y="104.02" width="3.39" height="5.04" fill="#f6f3f5"/>
<rect x="25.69" y="104.02" width="3.39" height="5.04" fill="#5c80cc"/>
<rect x="29.07" y="104.02" width="3.39" height="5.04" fill="#d7ddf0"/>
<rect x="32.46" y="104.02" width="3.39" height="5.04" fill="#f6f3f5"/>
<rect x="35.85" y="104.02" width="3.39" height="5.04" fill="#f4c8cd"/>
<rect x="39.24" y="104.02" width="3.39" height="5.04" fill="#d7ddf0"/>
<rect x="42.62" y="104.02" width="3.39" height="5.04" fill="#f6f3f5"/>
<rect x="46.01" y="104.02" width="6.77" height="5.04" fill="#b0c2e6"/>
<rect x="52.79" y="104.02" width="3.39" height="5.04" fill="#5c80cc"/>
<rect x="56.17" y="104.02" width="3.39" height="5.04" fill="#d7ddf0"/>
<rect x="59.56" y="104.02" width="3.39" height="5.04" fill="#f6f3f5"/>
<rect x="62.95" y="104.02" width="3.39" height="5.04" fill="#f4c8cd"/>
<rect x="66.33" y="104.02" width="3.39" height="5.04" fill="#eda0a9"/>
<rect x="69.72" y="104.02" width="3.39" height="5.04" fill="#f6f3f5"/>
<rect x="73.11" y="104.02" width="6.77" height="5.04" fill="#d7ddf0"/>
<rect x="79.88" y="104.02" width="3.39" height="5.04" fill="#f6f3f5"/>
<rect x="83.27" y="104.02" width="3.39" height="5.04" fill="#f4c8cd"/>
<rect x="86.66" y="104.02" width="3.39" height="5.04" fill="#f6f3f5"/>
<rect x="90.04" y="104.02" width="6.77" height="5.04" fill="#f4c8cd"/>
<rect x="96.82" y="104.02" width="3.39" height="5.04" fill="#b0c2e6"/>
<rect x="100.21" y="104.02" width="3.39" height="5.04" fill="#f4c8cd"/>
<rect x="103.59" y="104.02" width="3.39" height="5.04" fill="#d7ddf0"/>
<rect x="106.98" y="104.02" width="3.39" height="5.04" fill="#f6f3f5"/>
<rect x="110.37" y="104.02" width="3.39" height="5.04" fill="#d7ddf0"/>
<rect x="113.76" y="104.02" width="3.39" height="5.04" fill="#f6f3f5"/>
<rect x="117.14" y="104.02" width="3.39" height="5.04" fill="#d7ddf0"/>
<rect x="120.53" y="104.02" width="6.77" height="5.04" fill="#f6f3f5"/>
<rect x="127.30" y="104.02" width="3.39" height="5.04" fill="#d7ddf0"/>
<rect x="130.69" y="104.02" width="3.39" height="5.04" fill="#f4c8cd"/>
<rect x="134.08" y="104.02" width="3.39" height="5.04" fill="#f6f3f5"/>
<rect x="137.47" y="104.02" width="6.77" height="5.04" fill="#f4c8cd"/>
<rect x="144.24" y="104.02" width="3.39" height="5.04" fill="#f6f3f5"/>
<rect x="147.63" y="104.02" width="3.39" height="5.04" fill="#f4c8cd"/>
<rect x="151.01" y="104.02" width="3.39" height="5.04" fill="#f6f3f5"/>
<rect x="154.40" y="104.02" width="3.39" height="5.04" fill="#f4c8cd"/>
<rect x="157.79" y="104.02" width="3.39" height="5.04" fill="#f6f3f5"/>
<rect x="161.18" y="104.02" width="10.16" height="5.04" fill="#f4c8cd"/>
<rect x="171.34" y="104.02" width="3.39" height="5.04" fill="#f6f3f5"/>
<rect x="174.73" y="104.02" width="3.39" height="5.04" fill="#f4c8cd"/>
<rect x="178.11" y="104.02" width="3.39" height="5.04" fill="#f6f3f5"/>
<text x="20.80" y="113.16" font-size="4.8" text-anchor="end" fill="#3a3a3a" stroke="#3a3a3a" stroke-width="0.15" textLength="10.66" lengthAdjust="spacingAndGlyphs">CBX7</text>
<rect x="22.30" y="109.06" width="3.39" height="5.04" fill="#f4c8cd"/>
<rect x="25.69" y="109.06" width="3.39" height="5.04" fill="#b0c2e6"/>
<rect x="29.07" y="109.06" width="3.39" height="5.04" fill="#f6f3f5"/>
<rect x="32.46" y="109.06" width="3.39" height="5.04" fill="#eda0a9"/>
<rect x="35.85" y="109.06" width="3.39" height="5.04" fill="#e36c77"/>
<rect x="39.24" y="109.06" width="6.77" height="5.04" fill="#eda0a9"/>
<rect x="46.01" y="109.06" width="3.39" height="5.04" fill="#f4c8cd"/>
<rect x="49.40" y="109.06" width="3.39" height="5.04" fill="#f6f3f5"/>
<rect x="52.79" y="109.06" width="3.39" height="5.04" fill="#eda0a9"/>
<rect x="56.17" y="109.06" width="3.39" height="5.04" fill="#f6f3f5"/>
<rect x="59.56" y="109.06" width="3.39" height="5.04" fill="#eda0a9"/>
<rect x="62.95" y="109.06" width="3.39" height="5.04" fill="#f4c8cd"/>
<rect x="66.33" y="109.06" width="3.39" height="5.04" fill="#f6f3f5"/>
<rect x="69.72" y="109.06" width="3.39" height="5.04" fill="#c81a2c"/>
<rect x="73.11" y="109.06" width="3.39" height="5.04" fill="#f6f3f5"/>
<rect x="76.50" y="109.06" width="3.39" height="5.04" fill="#d7ddf0"/>
<rect x="79.88" y="109.06" width="3.39" height="5.04" fill="#b0c2e6"/>
<rect x="83.27" y="109.06" width="3.39" height="5.04" fill="#d7ddf0"/>
<rect x="86.66" y="109.06" width="3.39" height="5.04" fill="#f6f3f5"/>
<rect x="90.04" y="109.06" width="3.39" height="5.04" fill="#d7ddf0"/>
<rect x="93.43" y="109.06" width="3.39" height="5.04" fill="#f6f3f5"/>
<rect x="96.82" y="109.06" width="3.39" height="5.04" fill="#d7ddf0"/>
<rect x="100.21" y="109.06" width="3.39" height="5.04" fill="#f4c8cd"/>
<rect x="103.59" y="109.06" width="3.39" height="5.04" fill="#b0c2e6"/>
<rect x="106.98" y="109.06" width="3.39" height="5.04" fill="#3858a4"/>
<rect x="110.37" y="109.06" width="3.39" height="5.04" fill="#f6f3f5"/>
<rect x="113.76" y="109.06" width="3.39" height="5.04" fill="#d7ddf0"/>
<rect x="117.14" y="109.06" width="6.77" height="5.04" fill="#f6f3f5"/>
<rect x="123.92" y="109.06" width="10.16" height="5.04" fill="#d7ddf0"/>
<rect x="134.08" y="109.06" width="3.39" height="5.04" fill="#f6f3f5"/>
<rect x="137.47" y="109.06" width="3.39" height="5.04" fill="#d7ddf0"/>
<rect x="140.85" y="109.06" width="3.39" height="5.04" fill="#f6f3f5"/>
<rect x="144.24" y="109.06" width="3.39" height="5.04" fill="#f4c8cd"/>
<rect x="147.63" y="109.06" width="3.39" height="5.04" fill="#f6f3f5"/>
<rect x="151.01" y="109.06" width="3.39" height="5.04" fill="#f4c8cd"/>
<rect x="154.40" y="109.06" width="3.39" height="5.04" fill="#f6f3f5"/>
<rect x="157.79" y="109.06" width="3.39" height="5.04" fill="#d7ddf0"/>
<rect x="161.18" y="109.06" width="3.39" height="5.04" fill="#f6f3f5"/>
<rect x="164.56" y="109.06" width="3.39" height="5.04" fill="#d7ddf0"/>
<rect x="167.95" y="109.06" width="3.39" height="5.04" fill="#f6f3f5"/>
<rect x="171.34" y="109.06" width="6.77" height="5.04" fill="#d7ddf0"/>
<rect x="178.11" y="109.06" width="3.39" height="5.04" fill="#f6f3f5"/>
<text x="20.80" y="118.20" font-size="4.8" text-anchor="end" fill="#3a3a3a" stroke="#3a3a3a" stroke-width="0.15" textLength="10.66" lengthAdjust="spacingAndGlyphs">CBX8</text>
<rect x="22.30" y="114.10" width="3.39" height="5.04" fill="#c81a2c"/>
<rect x="25.69" y="114.10" width="3.39" height="5.04" fill="#b0c2e6"/>
<rect x="29.07" y="114.10" width="6.77" height="5.04" fill="#d7ddf0"/>
<rect x="35.85" y="114.10" width="3.39" height="5.04" fill="#3858a4"/>
<rect x="39.24" y="114.10" width="6.77" height="5.04" fill="#e36c77"/>
<rect x="46.01" y="114.10" width="3.39" height="5.04" fill="#f4c8cd"/>
<rect x="49.40" y="114.10" width="3.39" height="5.04" fill="#f6f3f5"/>
<rect x="52.79" y="114.10" width="3.39" height="5.04" fill="#e36c77"/>
<rect x="56.17" y="114.10" width="3.39" height="5.04" fill="#c81a2c"/>
<rect x="59.56" y="114.10" width="3.39" height="5.04" fill="#f4c8cd"/>
<rect x="62.95" y="114.10" width="3.39" height="5.04" fill="#f6f3f5"/>
<rect x="66.33" y="114.10" width="3.39" height="5.04" fill="#d7ddf0"/>
<rect x="69.72" y="114.10" width="3.39" height="5.04" fill="#f4c8cd"/>
<rect x="73.11" y="114.10" width="3.39" height="5.04" fill="#eda0a9"/>
<rect x="76.50" y="114.10" width="6.77" height="5.04" fill="#e36c77"/>
<rect x="83.27" y="114.10" width="3.39" height="5.04" fill="#eda0a9"/>
<rect x="86.66" y="114.10" width="3.39" height="5.04" fill="#c81a2c"/>
<rect x="90.04" y="114.10" width="3.39" height="5.04" fill="#eda0a9"/>
<rect x="93.43" y="114.10" width="3.39" height="5.04" fill="#c81a2c"/>
<rect x="96.82" y="114.10" width="3.39" height="5.04" fill="#f6f3f5"/>
<rect x="100.21" y="114.10" width="3.39" height="5.04" fill="#c81a2c"/>
<rect x="103.59" y="114.10" width="3.39" height="5.04" fill="#f4c8cd"/>
<rect x="106.98" y="114.10" width="3.39" height="5.04" fill="#f6f3f5"/>
<rect x="110.37" y="114.10" width="10.16" height="5.04" fill="#b0c2e6"/>
<rect x="120.53" y="114.10" width="16.94" height="5.04" fill="#d7ddf0"/>
<rect x="137.47" y="114.10" width="3.39" height="5.04" fill="#b0c2e6"/>
<rect x="140.85" y="114.10" width="3.39" height="5.04" fill="#5c80cc"/>
<rect x="144.24" y="114.10" width="6.77" height="5.04" fill="#b0c2e6"/>
<rect x="151.01" y="114.10" width="3.39" height="5.04" fill="#d7ddf0"/>
<rect x="154.40" y="114.10" width="3.39" height="5.04" fill="#3858a4"/>
<rect x="157.79" y="114.10" width="6.77" height="5.04" fill="#d7ddf0"/>
<rect x="164.56" y="114.10" width="3.39" height="5.04" fill="#b0c2e6"/>
<rect x="167.95" y="114.10" width="6.77" height="5.04" fill="#d7ddf0"/>
<rect x="174.73" y="114.10" width="3.39" height="5.04" fill="#f4c8cd"/>
<rect x="178.11" y="114.10" width="3.39" height="5.04" fill="#d7ddf0"/>
<text x="20.80" y="123.24" font-size="4.8" text-anchor="end" fill="#3a3a3a" stroke="#3a3a3a" stroke-width="0.15" textLength="12.47" lengthAdjust="spacingAndGlyphs">RING1</text>
<rect x="22.30" y="119.14" width="3.39" height="5.04" fill="#f4c8cd"/>
<rect x="25.69" y="119.14" width="3.39" height="5.04" fill="#f6f3f5"/>
<rect x="29.07" y="119.14" width="6.77" height="5.04" fill="#d7ddf0"/>
<rect x="35.85" y="119.14" width="6.77" height="5.04" fill="#f6f3f5"/>
<rect x="42.62" y="119.14" width="3.39" height="5.04" fill="#d7ddf0"/>
<rect x="46.01" y="119.14" width="3.39" height="5.04" fill="#eda0a9"/>
<rect x="49.40" y="119.14" width="3.39" height="5.04" fill="#d7ddf0"/>
<rect x="52.79" y="119.14" width="3.39" height="5.04" fill="#f6f3f5"/>
<rect x="56.17" y="119.14" width="3.39" height="5.04" fill="#eda0a9"/>
<rect x="59.56" y="119.14" width="3.39" height="5.04" fill="#d7ddf0"/>
<rect x="62.95" y="119.14" width="3.39" height="5.04" fill="#f6f3f5"/>
<rect x="66.33" y="119.14" width="3.39" height="5.04" fill="#d7ddf0"/>
<rect x="69.72" y="119.14" width="3.39" height="5.04" fill="#eda0a9"/>
<rect x="73.11" y="119.14" width="3.39" height="5.04" fill="#d7ddf0"/>
<rect x="76.50" y="119.14" width="3.39" height="5.04" fill="#f6f3f5"/>
<rect x="79.88" y="119.14" width="3.39" height="5.04" fill="#f4c8cd"/>
<rect x="83.27" y="119.14" width="3.39" height="5.04" fill="#eda0a9"/>
<rect x="86.66" y="119.14" width="3.39" height="5.04" fill="#f6f3f5"/>
<rect x="90.04" y="119.14" width="3.39" height="5.04" fill="#eda0a9"/>
<rect x="93.43" y="119.14" width="3.39" height="5.04" fill="#f6f3f5"/>
<rect x="96.82" y="119.14" width="3.39" height="5.04" fill="#eda0a9"/>
<rect x="100.21" y="119.14" width="3.39" height="5.04" fill="#f6f3f5"/>
<rect x="103.59" y="119.14" width="3.39" height="5.04" fill="#eda0a9"/>
<rect x="106.98" y="119.14" width="10.16" height="5.04" fill="#d7ddf0"/>
<rect x="117.14" y="119.14" width="3.39" height="5.04" fill="#f6f3f5"/>
<rect x="120.53" y="119.14" width="10.16" height="5.04" fill="#d7ddf0"/>
<rect x="130.69" y="119.14" width="3.39" height="5.04" fill="#f6f3f5"/>
<rect x="134.08" y="119.14" width="3.39" height="5.04" fill="#d7ddf0"/>
<rect x="137.47" y="119.14" width="3.39" height="5.04" fill="#f6f3f5"/>
<rect x="140.85" y="119.14" width="3.39" height="5.04" fill="#d7ddf0"/>
<rect x="144.24" y="119.14" width="3.39" height="5.04" fill="#f4c8cd"/>
<rect x="147.63" y="119.14" width="3.39" height="5.04" fill="#f6f3f5"/>
<rect x="151.01" y="119.14" width="3.39" height="5.04" fill="#d7ddf0"/>
<rect x="154.40" y="119.14" width="3.39" height="5.04" fill="#eda0a9"/>
<rect x="157.79" y="119.14" width="3.39" height="5.04" fill="#f6f3f5"/>
<rect x="161.18" y="119.14" width="6.77" height="5.04" fill="#d7ddf0"/>
<rect x="167.95" y="119.14" width="3.39" height="5.04" fill="#f6f3f5"/>
<rect x="171.34" y="119.14" width="3.39" height="5.04" fill="#d7ddf0"/>
<rect x="174.73" y="119.14" width="3.39" height="5.04" fill="#f6f3f5"/>
<rect x="178.11" y="119.14" width="3.39" height="5.04" fill="#d7ddf0"/>
<text x="20.80" y="128.28" font-size="4.8" text-anchor="end" fill="#3a3a3a" stroke="#3a3a3a" stroke-width="0.15" textLength="9.52" lengthAdjust="spacingAndGlyphs">BMI1</text>
<rect x="22.30" y="124.18" width="3.39" height="5.04" fill="#f6f3f5"/>
<rect x="25.69" y="124.18" width="3.39" height="5.04" fill="#d7ddf0"/>
<rect x="29.07" y="124.18" width="3.39" height="5.04" fill="#eda0a9"/>
<rect x="32.46" y="124.18" width="3.39" height="5.04" fill="#f6f3f5"/>
<rect x="35.85" y="124.18" width="3.39" height="5.04" fill="#d7ddf0"/>
<rect x="39.24" y="124.18" width="3.39" height="5.04" fill="#f4c8cd"/>
<rect x="42.62" y="124.18" width="3.39" height="5.04" fill="#d7ddf0"/>
<rect x="46.01" y="124.18" width="3.39" height="5.04" fill="#c81a2c"/>
<rect x="49.40" y="124.18" width="3.39" height="5.04" fill="#d7ddf0"/>
<rect x="52.79" y="124.18" width="3.39" height="5.04" fill="#f6f3f5"/>
<rect x="56.17" y="124.18" width="3.39" height="5.04" fill="#d7ddf0"/>
<rect x="59.56" y="124.18" width="3.39" height="5.04" fill="#f6f3f5"/>
<rect x="62.95" y="124.18" width="3.39" height="5.04" fill="#e36c77"/>
<rect x="66.33" y="124.18" width="3.39" height="5.04" fill="#d7ddf0"/>
<rect x="69.72" y="124.18" width="3.39" height="5.04" fill="#c81a2c"/>
<rect x="73.11" y="124.18" width="3.39" height="5.04" fill="#f4c8cd"/>
<rect x="76.50" y="124.18" width="6.77" height="5.04" fill="#c81a2c"/>
<rect x="83.27" y="124.18" width="3.39" height="5.04" fill="#d7ddf0"/>
<rect x="86.66" y="124.18" width="3.39" height="5.04" fill="#c81a2c"/>
<rect x="90.04" y="124.18" width="3.39" height="5.04" fill="#f4c8cd"/>
<rect x="93.43" y="124.18" width="3.39" height="5.04" fill="#d7ddf0"/>
<rect x="96.82" y="124.18" width="3.39" height="5.04" fill="#5c80cc"/>
<rect x="100.21" y="124.18" width="3.39" height="5.04" fill="#e36c77"/>
<rect x="103.59" y="124.18" width="3.39" height="5.04" fill="#eda0a9"/>
<rect x="106.98" y="124.18" width="3.39" height="5.04" fill="#d7ddf0"/>
<rect x="110.37" y="124.18" width="3.39" height="5.04" fill="#f6f3f5"/>
<rect x="113.76" y="124.18" width="3.39" height="5.04" fill="#d7ddf0"/>
<rect x="117.14" y="124.18" width="3.39" height="5.04" fill="#f6f3f5"/>
<rect x="120.53" y="124.18" width="16.94" height="5.04" fill="#d7ddf0"/>
<rect x="137.47" y="124.18" width="3.39" height="5.04" fill="#f6f3f5"/>
<rect x="140.85" y="124.18" width="3.39" height="5.04" fill="#d7ddf0"/>
<rect x="144.24" y="124.18" width="3.39" height="5.04" fill="#f6f3f5"/>
<rect x="147.63" y="124.18" width="10.16" height="5.04" fill="#d7ddf0"/>
<rect x="157.79" y="124.18" width="3.39" height="5.04" fill="#f6f3f5"/>
<rect x="161.18" y="124.18" width="3.39" height="5.04" fill="#d7ddf0"/>
<rect x="164.56" y="124.18" width="3.39" height="5.04" fill="#f6f3f5"/>
<rect x="167.95" y="124.18" width="3.39" height="5.04" fill="#d7ddf0"/>
<rect x="171.34" y="124.18" width="3.39" height="5.04" fill="#f6f3f5"/>
<rect x="174.73" y="124.18" width="3.39" height="5.04" fill="#d7ddf0"/>
<rect x="178.11" y="124.18" width="3.39" height="5.04" fill="#f6f3f5"/>
<text x="20.80" y="133.32" font-size="4.8" text-anchor="end" fill="#3a3a3a" stroke="#3a3a3a" stroke-width="0.15" textLength="10.65" lengthAdjust="spacingAndGlyphs">RNF2</text>
<rect x="22.30" y="129.22" width="3.39" height="5.04" fill="#eda0a9"/>
<rect x="25.69" y="129.22" width="3.39" height="5.04" fill="#f6f3f5"/>
<rect x="29.07" y="129.22" width="3.39" height="5.04" fill="#eda0a9"/>
<rect x="32.46" y="129.22" width="6.77" height="5.04" fill="#d7ddf0"/>
<rect x="39.24" y="129.22" width="3.39" height="5.04" fill="#f6f3f5"/>
<rect x="42.62" y="129.22" width="3.39" height="5.04" fill="#d7ddf0"/>
<rect x="46.01" y="129.22" width="3.39" height="5.04" fill="#f6f3f5"/>
<rect x="49.40" y="129.22" width="3.39" height="5.04" fill="#d7ddf0"/>
<rect x="52.79" y="129.22" width="3.39" height="5.04" fill="#f6f3f5"/>
<rect x="56.17" y="129.22" width="3.39" height="5.04" fill="#d7ddf0"/>
<rect x="59.56" y="129.22" width="6.77" height="5.04" fill="#5c80cc"/>
<rect x="66.33" y="129.22" width="3.39" height="5.04" fill="#f6f3f5"/>
<rect x="69.72" y="129.22" width="3.39" height="5.04" fill="#f4c8cd"/>
<rect x="73.11" y="129.22" width="3.39" height="5.04" fill="#d7ddf0"/>
<rect x="76.50" y="129.22" width="3.39" height="5.04" fill="#f4c8cd"/>
<rect x="79.88" y="129.22" width="3.39" height="5.04" fill="#f6f3f5"/>
<rect x="83.27" y="129.22" width="3.39" height="5.04" fill="#f4c8cd"/>
<rect x="86.66" y="129.22" width="3.39" height="5.04" fill="#f6f3f5"/>
<rect x="90.04" y="129.22" width="3.39" height="5.04" fill="#f4c8cd"/>
<rect x="93.43" y="129.22" width="6.77" height="5.04" fill="#d7ddf0"/>
<rect x="100.21" y="129.22" width="3.39" height="5.04" fill="#f4c8cd"/>
<rect x="103.59" y="129.22" width="3.39" height="5.04" fill="#f6f3f5"/>
<rect x="106.98" y="129.22" width="3.39" height="5.04" fill="#f4c8cd"/>
<rect x="110.37" y="129.22" width="3.39" height="5.04" fill="#eda0a9"/>
<rect x="113.76" y="129.22" width="3.39" height="5.04" fill="#f4c8cd"/>
<rect x="117.14" y="129.22" width="3.39" height="5.04" fill="#f6f3f5"/>
<rect x="120.53" y="129.22" width="6.77" height="5.04" fill="#f4c8cd"/>
<rect x="127.30" y="129.22" width="6.77" height="5.04" fill="#eda0a9"/>
<rect x="134.08" y="129.22" width="3.39" height="5.04" fill="#f4c8cd"/>
<rect x="137.47" y="129.22" width="3.39" height="5.04" fill="#f6f3f5"/>
<rect x="140.85" y="129.22" width="3.39" height="5.04" fill="#f4c8cd"/>
<rect x="144.24" y="129.22" width="3.39" height="5.04" fill="#eda0a9"/>
<rect x="147.63" y="129.22" width="3.39" height="5.04" fill="#f4c8cd"/>
<rect x="151.01" y="129.22" width="3.39" height="5.04" fill="#eda0a9"/>
<rect x="154.40" y="129.22" width="3.39" height="5.04" fill="#f4c8cd"/>
<rect x="157.79" y="129.22" width="3.39" height="5.04" fill="#eda0a9"/>
<rect x="161.18" y="129.22" width="3.39" height="5.04" fill="#f4c8cd"/>
<rect x="164.56" y="129.22" width="6.77" height="5.04" fill="#eda0a9"/>
<rect x="171.34" y="129.22" width="3.39" height="5.04" fill="#f4c8cd"/>
<rect x="174.73" y="129.22" width="6.77" height="5.04" fill="#eda0a9"/>
<text x="20.80" y="138.36" font-size="4.8" text-anchor="end" fill="#3a3a3a" stroke="#3a3a3a" stroke-width="0.15" textLength="10.88" lengthAdjust="spacingAndGlyphs">PHC1</text>
<rect x="22.30" y="134.26" width="3.39" height="5.04" fill="#d7ddf0"/>
<rect x="25.69" y="134.26" width="3.39" height="5.04" fill="#c81a2c"/>
<rect x="29.07" y="134.26" width="6.77" height="5.04" fill="#eda0a9"/>
<rect x="35.85" y="134.26" width="3.39" height="5.04" fill="#e36c77"/>
<rect x="39.24" y="134.26" width="3.39" height="5.04" fill="#f6f3f5"/>
<rect x="42.62" y="134.26" width="3.39" height="5.04" fill="#d7ddf0"/>
<rect x="46.01" y="134.26" width="3.39" height="5.04" fill="#e36c77"/>
<rect x="49.40" y="134.26" width="6.77" height="5.04" fill="#d7ddf0"/>
<rect x="56.17" y="134.26" width="3.39" height="5.04" fill="#f4c8cd"/>
<rect x="59.56" y="134.26" width="6.77" height="5.04" fill="#d7ddf0"/>
<rect x="66.33" y="134.26" width="3.39" height="5.04" fill="#c81a2c"/>
<rect x="69.72" y="134.26" width="3.39" height="5.04" fill="#e36c77"/>
<rect x="73.11" y="134.26" width="3.39" height="5.04" fill="#d7ddf0"/>
<rect x="76.50" y="134.26" width="3.39" height="5.04" fill="#f4c8cd"/>
<rect x="79.88" y="134.26" width="3.39" height="5.04" fill="#c81a2c"/>
<rect x="83.27" y="134.26" width="3.39" height="5.04" fill="#f6f3f5"/>
<rect x="86.66" y="134.26" width="6.77" height="5.04" fill="#d7ddf0"/>
<rect x="93.43" y="134.26" width="3.39" height="5.04" fill="#eda0a9"/>
<rect x="96.82" y="134.26" width="3.39" height="5.04" fill="#d7ddf0"/>
<rect x="100.21" y="134.26" width="3.39" height="5.04" fill="#eda0a9"/>
<rect x="103.59" y="134.26" width="3.39" height="5.04" fill="#f4c8cd"/>
<rect x="106.98" y="134.26" width="6.77" height="5.04" fill="#d7ddf0"/>
<rect x="113.76" y="134.26" width="3.39" height="5.04" fill="#5c80cc"/>
<rect x="117.14" y="134.26" width="13.55" height="5.04" fill="#b0c2e6"/>
<rect x="130.69" y="134.26" width="3.39" height="5.04" fill="#d7ddf0"/>
<rect x="134.08" y="134.26" width="3.39" height="5.04" fill="#3858a4"/>
<rect x="137.47" y="134.26" width="3.39" height="5.04" fill="#5c80cc"/>
<rect x="140.85" y="134.26" width="3.39" height="5.04" fill="#b0c2e6"/>
<rect x="144.24" y="134.26" width="3.39" height="5.04" fill="#f6f3f5"/>
<rect x="147.63" y="134.26" width="3.39" height="5.04" fill="#5c80cc"/>
<rect x="151.01" y="134.26" width="3.39" height="5.04" fill="#d7ddf0"/>
<rect x="154.40" y="134.26" width="3.39" height="5.04" fill="#f6f3f5"/>
<rect x="157.79" y="134.26" width="3.39" height="5.04" fill="#3858a4"/>
<rect x="161.18" y="134.26" width="3.39" height="5.04" fill="#d7ddf0"/>
<rect x="164.56" y="134.26" width="3.39" height="5.04" fill="#3858a4"/>
<rect x="167.95" y="134.26" width="3.39" height="5.04" fill="#d7ddf0"/>
<rect x="171.34" y="134.26" width="3.39" height="5.04" fill="#f6f3f5"/>
<rect x="174.73" y="134.26" width="3.39" height="5.04" fill="#b0c2e6"/>
<rect x="178.11" y="134.26" width="3.39" height="5.04" fill="#e36c77"/>
<text x="20.80" y="143.40" font-size="4.8" text-anchor="end" fill="#3a3a3a" stroke="#3a3a3a" stroke-width="0.15" textLength="10.88" lengthAdjust="spacingAndGlyphs">PHC2</text>
<rect x="22.30" y="139.30" width="6.77" height="5.04" fill="#b0c2e6"/>
<rect x="29.07" y="139.30" width="3.39" height="5.04" fill="#d7ddf0"/>
<rect x="32.46" y="139.30" width="3.39" height="5.04" fill="#b0c2e6"/>
<rect x="35.85" y="139.30" width="3.39" height="5.04" fill="#f6f3f5"/>
<rect x="39.24" y="139.30" width="3.39" height="5.04" fill="#eda0a9"/>
<rect x="42.62" y="139.30" width="3.39" height="5.04" fill="#d7ddf0"/>
<rect x="46.01" y="139.30" width="3.39" height="5.04" fill="#eda0a9"/>
<rect x="49.40" y="139.30" width="3.39" height="5.04" fill="#f6f3f5"/>
<rect x="52.79" y="139.30" width="6.77" height="5.04" fill="#b0c2e6"/>
<rect x="59.56" y="139.30" width="3.39" height="5.04" fill="#f6f3f5"/>
<rect x="62.95" y="139.30" width="3.39" height="5.04" fill="#eda0a9"/>
<rect x="66.33" y="139.30" width="3.39" height="5.04" fill="#e36c77"/>
<rect x="69.72" y="139.30" width="3.39" height="5.04" fill="#f6f3f5"/>
<rect x="73.11" y="139.30" width="3.39" height="5.04" fill="#d7ddf0"/>
<rect x="76.50" y="139.30" width="3.39" height="5.04" fill="#eda0a9"/>
<rect x="79.88" y="139.30" width="6.77" height="5.04" fill="#d7ddf0"/>
<rect x="86.66" y="139.30" width="3.39" height="5.04" fill="#f6f3f5"/>
<rect x="90.04" y="139.30" width="3.39" height="5.04" fill="#d7ddf0"/>
<rect x="93.43" y="139.30" width="6.77" height="5.04" fill="#f6f3f5"/>
<rect x="100.21" y="139.30" width="6.77" height="5.04" fill="#eda0a9"/>
<rect x="106.98" y="139.30" width="3.39" height="5.04" fill="#c81a2c"/>
<rect x="110.37" y="139.30" width="3.39" height="5.04" fill="#f6f3f5"/>
<rect x="113.76" y="139.30" width="3.39" height="5.04" fill="#d7ddf0"/>
<rect x="117.14" y="139.30" width="3.39" height="5.04" fill="#f6f3f5"/>
<rect x="120.53" y="139.30" width="3.39" height="5.04" fill="#d7ddf0"/>
<rect x="123.92" y="139.30" width="3.39" height="5.04" fill="#f6f3f5"/>
<rect x="127.30" y="139.30" width="16.94" height="5.04" fill="#d7ddf0"/>
<rect x="144.24" y="139.30" width="3.39" height="5.04" fill="#f4c8cd"/>
<rect x="147.63" y="139.30" width="3.39" height="5.04" fill="#f6f3f5"/>
<rect x="151.01" y="139.30" width="3.39" height="5.04" fill="#f4c8cd"/>
<rect x="154.40" y="139.30" width="3.39" height="5.04" fill="#f6f3f5"/>
<rect x="157.79" y="139.30" width="3.39" height="5.04" fill="#d7ddf0"/>
<rect x="161.18" y="139.30" width="3.39" height="5.04" fill="#f6f3f5"/>
<rect x="164.56" y="139.30" width="3.39" height="5.04" fill="#d7ddf0"/>
<rect x="167.95" y="139.30" width="6.77" height="5.04" fill="#f4c8cd"/>
<rect x="174.73" y="139.30" width="3.39" height="5.04" fill="#d7ddf0"/>
<rect x="178.11" y="139.30" width="3.39" height="5.04" fill="#f6f3f5"/>
<text x="20.80" y="148.44" font-size="4.8" text-anchor="end" fill="#3a3a3a" stroke="#3a3a3a" stroke-width="0.15" textLength="10.88" lengthAdjust="spacingAndGlyphs">PHC3</text>
<rect x="22.30" y="144.34" width="3.39" height="5.04" fill="#d7ddf0"/>
<rect x="25.69" y="144.34" width="3.39" height="5.04" fill="#b0c2e6"/>
<rect x="29.07" y="144.34" width="3.39" height="5.04" fill="#f6f3f5"/>
<rect x="32.46" y="144.34" width="3.39" height="5.04" fill="#eda0a9"/>
<rect x="35.85" y="144.34" width="3.39" height="5.04" fill="#f6f3f5"/>
<rect x="39.24" y="144.34" width="6.77" height="5.04" fill="#e36c77"/>
<rect x="46.01" y="144.34" width="3.39" height="5.04" fill="#f6f3f5"/>
<rect x="49.40" y="144.34" width="3.39" height="5.04" fill="#eda0a9"/>
<rect x="52.79" y="144.34" width="3.39" height="5.04" fill="#d7ddf0"/>
<rect x="56.17" y="144.34" width="3.39" height="5.04" fill="#f6f3f5"/>
<rect x="59.56" y="144.34" width="6.77" height="5.04" fill="#d7ddf0"/>
<rect x="66.33" y="144.34" width="3.39" height="5.04" fill="#eda0a9"/>
<rect x="69.72" y="144.34" width="3.39" height="5.04" fill="#d7ddf0"/>
<rect x="73.11" y="144.34" width="3.39" height="5.04" fill="#f6f3f5"/>
<rect x="76.50" y="144.34" width="3.39" height="5.04" fill="#eda0a9"/>
<rect x="79.88" y="144.34" width="3.39" height="5.04" fill="#c81a2c"/>
<rect x="83.27" y="144.34" width="3.39" height="5.04" fill="#f6f3f5"/>
<rect x="86.66" y="144.34" width="3.39" height="5.04" fill="#d7ddf0"/>
<rect x="90.04" y="144.34" width="3.39" height="5.04" fill="#f6f3f5"/>
<rect x="93.43" y="144.34" width="3.39" height="5.04" fill="#f4c8cd"/>
<rect x="96.82" y="144.34" width="3.39" height="5.04" fill="#d7ddf0"/>
<rect x="100.21" y="144.34" width="3.39" height="5.04" fill="#f4c8cd"/>
<rect x="103.59" y="144.34" width="3.39" height="5.04" fill="#d7ddf0"/>
<rect x="106.98" y="144.34" width="3.39" height="5.04" fill="#eda0a9"/>
<rect x="110.37" y="144.34" width="3.39" height="5.04" fill="#f6f3f5"/>
<rect x="113.76" y="144.34" width="3.39" height="5.04" fill="#5c80cc"/>
<rect x="117.14" y="144.34" width="3.39" height="5.04" fill="#d7ddf0"/>
<rect x="120.53" y="144.34" width="3.39" height="5.04" fill="#f6f3f5"/>
<rect x="123.92" y="144.34" width="3.39" height="5.04" fill="#d7ddf0"/>
<rect x="127.30" y="144.34" width="3.39" height="5.04" fill="#eda0a9"/>
<rect x="130.69" y="144.34" width="3.39" height="5.04" fill="#f4c8cd"/>
<rect x="134.08" y="144.34" width="3.39" height="5.04" fill="#d7ddf0"/>
<rect x="137.47" y="144.34" width="3.39" height="5.04" fill="#f6f3f5"/>
<rect x="140.85" y="144.34" width="3.39" height="5.04" fill="#d7ddf0"/>
<rect x="144.24" y="144.34" width="3.39" height="5.04" fill="#f4c8cd"/>
<rect x="147.63" y="144.34" width="3.39" height="5.04" fill="#d7ddf0"/>
<rect x="151.01" y="144.34" width="3.39" height="5.04" fill="#f6f3f5"/>
<rect x="154.40" y="144.34" width="3.39" height="5.04" fill="#d7ddf0"/>
<rect x="157.79" y="144.34" width="3.39" height="5.04" fill="#f6f3f5"/>
<rect x="161.18" y="144.34" width="3.39" height="5.04" fill="#d7ddf0"/>
<rect x="164.56" y="144.34" width="3.39" height="5.04" fill="#f6f3f5"/>
<rect x="167.95" y="144.34" width="6.77" height="5.04" fill="#f4c8cd"/>
<rect x="174.73" y="144.34" width="3.39" height="5.04" fill="#d7ddf0"/>
<rect x="178.11" y="144.34" width="3.39" height="5.04" fill="#f6f3f5"/>
<text x="20.80" y="153.48" font-size="4.8" text-anchor="end" fill="#3a3a3a" stroke="#3a3a3a" stroke-width="0.15" textLength="13.60" lengthAdjust="spacingAndGlyphs">PCGF1</text>
<rect x="22.30" y="149.38" width="3.39" height="5.04" fill="#f6f3f5"/>
<rect x="25.69" y="149.38" width="3.39" height="5.04" fill="#f4c8cd"/>
<rect x="29.07" y="149.38" width="3.39" height="5.04" fill="#f6f3f5"/>
<rect x="32.46" y="149.38" width="3.39" height="5.04" fill="#e36c77"/>
<rect x="35.85" y="149.38" width="3.39" height="5.04" fill="#f6f3f5"/>
<rect x="39.24" y="149.38" width="3.39" height="5.04" fill="#f4c8cd"/>
<rect x="42.62" y="149.38" width="3.39" height="5.04" fill="#d7ddf0"/>
<rect x="46.01" y="149.38" width="3.39" height="5.04" fill="#f4c8cd"/>
<rect x="49.40" y="149.38" width="3.39" height="5.04" fill="#d7ddf0"/>
<rect x="52.79" y="149.38" width="3.39" height="5.04" fill="#f6f3f5"/>
<rect x="56.17" y="149.38" width="3.39" height="5.04" fill="#b0c2e6"/>
<rect x="59.56" y="149.38" width="6.77" height="5.04" fill="#d7ddf0"/>
<rect x="66.33" y="149.38" width="3.39" height="5.04" fill="#e36c77"/>
<rect x="69.72" y="149.38" width="3.39" height="5.04" fill="#f6f3f5"/>
<rect x="73.11" y="149.38" width="6.77" height="5.04" fill="#d7ddf0"/>
<rect x="79.88" y="149.38" width="3.39" height="5.04" fill="#f6f3f5"/>
<rect x="83.27" y="149.38" width="3.39" height="5.04" fill="#d7ddf0"/>
<rect x="86.66" y="149.38" width="3.39" height="5.04" fill="#f6f3f5"/>
<rect x="90.04" y="149.38" width="3.39" height="5.04" fill="#d7ddf0"/>
<rect x="93.43" y="149.38" width="3.39" height="5.04" fill="#f6f3f5"/>
<rect x="96.82" y="149.38" width="3.39" height="5.04" fill="#f4c8cd"/>
<rect x="100.21" y="149.38" width="3.39" height="5.04" fill="#d7ddf0"/>
<rect x="103.59" y="149.38" width="3.39" height="5.04" fill="#f6f3f5"/>
<rect x="106.98" y="149.38" width="10.16" height="5.04" fill="#d7ddf0"/>
<rect x="117.14" y="149.38" width="3.39" height="5.04" fill="#f6f3f5"/>
<rect x="120.53" y="149.38" width="3.39" height="5.04" fill="#d7ddf0"/>
<rect x="123.92" y="149.38" width="3.39" height="5.04" fill="#f6f3f5"/>
<rect x="127.30" y="149.38" width="6.77" height="5.04" fill="#d7ddf0"/>
<rect x="134.08" y="149.38" width="3.39" height="5.04" fill="#f6f3f5"/>
<rect x="137.47" y="149.38" width="3.39" height="5.04" fill="#d7ddf0"/>
<rect x="140.85" y="149.38" width="3.39" height="5.04" fill="#f6f3f5"/>
<rect x="144.24" y="149.38" width="3.39" height="5.04" fill="#d7ddf0"/>
<rect x="147.63" y="149.38" width="3.39" height="5.04" fill="#f6f3f5"/>
<rect x="151.01" y="149.38" width="3.39" height="5.04" fill="#d7ddf0"/>
<rect x="154.40" y="149.38" width="3.39" height="5.04" fill="#f6f3f5"/>
<rect x="157.79" y="149.38" width="3.39" height="5.04" fill="#d7ddf0"/>
<rect x="161.18" y="149.38" width="3.39" height="5.04" fill="#f6f3f5"/>
<rect x="164.56" y="149.38" width="3.39" height="5.04" fill="#d7ddf0"/>
<rect x="167.95" y="149.38" width="3.39" height="5.04" fill="#f6f3f5"/>
<rect x="171.34" y="149.38" width="3.39" height="5.04" fill="#d7ddf0"/>
<rect x="174.73" y="149.38" width="3.39" height="5.04" fill="#f6f3f5"/>
<rect x="178.11" y="149.38" width="3.39" height="5.04" fill="#d7ddf0"/>
<text x="20.80" y="158.52" font-size="4.8" text-anchor="end" fill="#3a3a3a" stroke="#3a3a3a" stroke-width="0.15" textLength="13.60" lengthAdjust="spacingAndGlyphs">PCGF2</text>
<rect x="22.30" y="154.42" width="6.77" height="5.04" fill="#d7ddf0"/>
<rect x="29.07" y="154.42" width="3.39" height="5.04" fill="#f6f3f5"/>
<rect x="32.46" y="154.42" width="6.77" height="5.04" fill="#d7ddf0"/>
<rect x="39.24" y="154.42" width="3.39" height="5.04" fill="#f6f3f5"/>
<rect x="42.62" y="154.42" width="3.39" height="5.04" fill="#c81a2c"/>
<rect x="46.01" y="154.42" width="3.39" height="5.04" fill="#f6f3f5"/>
<rect x="49.40" y="154.42" width="3.39" height="5.04" fill="#b0c2e6"/>
<rect x="52.79" y="154.42" width="3.39" height="5.04" fill="#5c80cc"/>
<rect x="56.17" y="154.42" width="3.39" height="5.04" fill="#d7ddf0"/>
<rect x="59.56" y="154.42" width="3.39" height="5.04" fill="#f6f3f5"/>
<rect x="62.95" y="154.42" width="3.39" height="5.04" fill="#f4c8cd"/>
<rect x="66.33" y="154.42" width="3.39" height="5.04" fill="#e36c77"/>
<rect x="69.72" y="154.42" width="3.39" height="5.04" fill="#5c80cc"/>
<rect x="73.11" y="154.42" width="3.39" height="5.04" fill="#d7ddf0"/>
<rect x="76.50" y="154.42" width="6.77" height="5.04" fill="#e36c77"/>
<rect x="83.27" y="154.42" width="3.39" height="5.04" fill="#eda0a9"/>
<rect x="86.66" y="154.42" width="3.39" height="5.04" fill="#e36c77"/>
<rect x="90.04" y="154.42" width="3.39" height="5.04" fill="#f6f3f5"/>
<rect x="93.43" y="154.42" width="3.39" height="5.04" fill="#f4c8cd"/>
<rect x="96.82" y="154.42" width="3.39" height="5.04" fill="#f6f3f5"/>
<rect x="100.21" y="154.42" width="3.39" height="5.04" fill="#f4c8cd"/>
<rect x="103.59" y="154.42" width="3.39" height="5.04" fill="#f6f3f5"/>
<rect x="106.98" y="154.42" width="3.39" height="5.04" fill="#c81a2c"/>
<rect x="110.37" y="154.42" width="3.39" height="5.04" fill="#f6f3f5"/>
<rect x="113.76" y="154.42" width="3.39" height="5.04" fill="#d7ddf0"/>
<rect x="117.14" y="154.42" width="3.39" height="5.04" fill="#f4c8cd"/>
<rect x="120.53" y="154.42" width="3.39" height="5.04" fill="#eda0a9"/>
<rect x="123.92" y="154.42" width="3.39" height="5.04" fill="#f4c8cd"/>
<rect x="127.30" y="154.42" width="6.77" height="5.04" fill="#d7ddf0"/>
<rect x="134.08" y="154.42" width="3.39" height="5.04" fill="#f4c8cd"/>
<rect x="137.47" y="154.42" width="3.39" height="5.04" fill="#d7ddf0"/>
<rect x="140.85" y="154.42" width="3.39" height="5.04" fill="#f6f3f5"/>
<rect x="144.24" y="154.42" width="3.39" height="5.04" fill="#d7ddf0"/>
<rect x="147.63" y="154.42" width="3.39" height="5.04" fill="#f4c8cd"/>
<rect x="151.01" y="154.42" width="3.39" height="5.04" fill="#f6f3f5"/>
<rect x="154.40" y="154.42" width="6.77" height="5.04" fill="#d7ddf0"/>
<rect x="161.18" y="154.42" width="3.39" height="5.04" fill="#f6f3f5"/>
<rect x="164.56" y="154.42" width="3.39" height="5.04" fill="#d7ddf0"/>
<rect x="167.95" y="154.42" width="3.39" height="5.04" fill="#f4c8cd"/>
<rect x="171.34" y="154.42" width="3.39" height="5.04" fill="#f6f3f5"/>
<rect x="174.73" y="154.42" width="6.77" height="5.04" fill="#d7ddf0"/>
<text x="20.80" y="163.56" font-size="4.8" text-anchor="end" fill="#3a3a3a" stroke="#3a3a3a" stroke-width="0.15" textLength="13.60" lengthAdjust="spacingAndGlyphs">PCGF6</text>
<rect x="22.30" y="159.46" width="6.77" height="5.04" fill="#c81a2c"/>
<rect x="29.07" y="159.46" width="3.39" height="5.04" fill="#eda0a9"/>
<rect x="32.46" y="159.46" width="3.39" height="5.04" fill="#f4c8cd"/>
<rect x="35.85" y="159.46" width="3.39" height="5.04" fill="#f6f3f5"/>
<rect x="39.24" y="159.46" width="3.39" height="5.04" fill="#eda0a9"/>
<rect x="42.62" y="159.46" width="6.77" height="5.04" fill="#e36c77"/>
<rect x="49.40" y="159.46" width="3.39" height="5.04" fill="#f6f3f5"/>
<rect x="52.79" y="159.46" width="3.39" height="5.04" fill="#d7ddf0"/>
<rect x="56.17" y="159.46" width="3.39" height="5.04" fill="#f6f3f5"/>
<rect x="59.56" y="159.46" width="3.39" height="5.04" fill="#f4c8cd"/>
<rect x="62.95" y="159.46" width="3.39" height="5.04" fill="#f6f3f5"/>
<rect x="66.33" y="159.46" width="3.39" height="5.04" fill="#f4c8cd"/>
<rect x="69.72" y="159.46" width="3.39" height="5.04" fill="#eda0a9"/>
<rect x="73.11" y="159.46" width="6.77" height="5.04" fill="#f6f3f5"/>
<rect x="79.88" y="159.46" width="3.39" height="5.04" fill="#f4c8cd"/>
<rect x="83.27" y="159.46" width="3.39" height="5.04" fill="#d7ddf0"/>
<rect x="86.66" y="159.46" width="3.39" height="5.04" fill="#f4c8cd"/>
<rect x="90.04" y="159.46" width="3.39" height="5.04" fill="#d7ddf0"/>
<rect x="93.43" y="159.46" width="3.39" height="5.04" fill="#f6f3f5"/>
<rect x="96.82" y="159.46" width="3.39" height="5.04" fill="#f4c8cd"/>
<rect x="100.21" y="159.46" width="3.39" height="5.04" fill="#f6f3f5"/>
<rect x="103.59" y="159.46" width="3.39" height="5.04" fill="#3858a4"/>
<rect x="106.98" y="159.46" width="3.39" height="5.04" fill="#d7ddf0"/>
<rect x="110.37" y="159.46" width="3.39" height="5.04" fill="#f6f3f5"/>
<rect x="113.76" y="159.46" width="6.77" height="5.04" fill="#b0c2e6"/>
<rect x="120.53" y="159.46" width="3.39" height="5.04" fill="#f6f3f5"/>
<rect x="123.92" y="159.46" width="3.39" height="5.04" fill="#b0c2e6"/>
<rect x="127.30" y="159.46" width="3.39" height="5.04" fill="#f6f3f5"/>
<rect x="130.69" y="159.46" width="3.39" height="5.04" fill="#d7ddf0"/>
<rect x="134.08" y="159.46" width="3.39" height="5.04" fill="#f6f3f5"/>
<rect x="137.47" y="159.46" width="3.39" height="5.04" fill="#d7ddf0"/>
<rect x="140.85" y="159.46" width="3.39" height="5.04" fill="#f6f3f5"/>
<rect x="144.24" y="159.46" width="3.39" height="5.04" fill="#d7ddf0"/>
<rect x="147.63" y="159.46" width="3.39" height="5.04" fill="#f6f3f5"/>
<rect x="151.01" y="159.46" width="3.39" height="5.04" fill="#d7ddf0"/>
<rect x="154.40" y="159.46" width="3.39" height="5.04" fill="#f6f3f5"/>
<rect x="157.79" y="159.46" width="3.39" height="5.04" fill="#d7ddf0"/>
<rect x="161.18" y="159.46" width="3.39" height="5.04" fill="#f4c8cd"/>
<rect x="164.56" y="159.46" width="3.39" height="5.04" fill="#d7ddf0"/>
<rect x="167.95" y="159.46" width="3.39" height="5.04" fill="#f6f3f5"/>
<rect x="171.34" y="159.46" width="3.39" height="5.04" fill="#d7ddf0"/>
<rect x="174.73" y="159.46" width="3.39" height="5.04" fill="#f6f3f5"/>
<rect x="178.11" y="159.46" width="3.39" height="5.04" fill="#d7ddf0"/>
<path d="M22.30 93.94v70.56M25.69 93.94v70.56M29.07 93.94v70.56M32.46 93.94v70.56M35.85 93.94v70.56M39.24 93.94v70.56M42.62 93.94v70.56M46.01 93.94v70.56M49.40 93.94v70.56M52.79 93.94v70.56M56.17 93.94v70.56M59.56 93.94v70.56M62.95 93.94v70.56M66.33 93.94v70.56M69.72 93.94v70.56M73.11 93.94v70.56M76.50 93.94v70.56M79.88 93.94v70.56M83.27 93.94v70.56M86.66 93.94v70.56M90.04 93.94v70.56M93.43 93.94v70.56M96.82 93.94v70.56M100.21 93.94v70.56M103.59 93.94v70.56M106.98 93.94v70.56M110.37 93.94v70.56M113.76 93.94v70.56M117.14 93.94v70.56M120.53 93.94v70.56M123.92 93.94v70.56M127.30 93.94v70.56M130.69 93.94v70.56M134.08 93.94v70.56M137.47 93.94v70.56M140.85 93.94v70.56M144.24 93.94v70.56M147.63 93.94v70.56M151.01 93.94v70.56M154.40 93.94v70.56M157.79 93.94v70.56M161.18 93.94v70.56M164.56 93.94v70.56M167.95 93.94v70.56M171.34 93.94v70.56M174.73 93.94v70.56M178.11 93.94v70.56M181.50 93.94v70.56M22.30 93.94h159.20M22.30 98.98h159.20M22.30 104.02h159.20M22.30 109.06h159.20M22.30 114.10h159.20M22.30 119.14h159.20M22.30 124.18h159.20M22.30 129.22h159.20M22.30 134.26h159.20M22.30 139.30h159.20M22.30 144.34h159.20M22.30 149.38h159.20M22.30 154.42h159.20M22.30 159.46h159.20M22.30 164.50h159.20" stroke="#babecc" stroke-width="0.5" fill="none"/>
<rect x="184.30" y="93.94" width="36.10" height="70.56" fill="#fff" stroke="#444" stroke-width="0.5"/>
<line x1="202.60" y1="93.94" x2="202.60" y2="164.50" stroke="#444" stroke-width="0.5" />
<text x="185.40" y="97.64" font-size="3.2" text-anchor="start" fill="#333" stroke="#333" stroke-width="0.1" >NS</text>
<text x="203.70" y="97.64" font-size="3.2" text-anchor="start" fill="#333" stroke="#333" stroke-width="0.1" >NS</text>
<line x1="184.30" y1="98.98" x2="220.40" y2="98.98" stroke="#444" stroke-width="0.5" />
<text x="185.40" y="102.68" font-size="3.2" text-anchor="start" fill="#333" stroke="#333" stroke-width="0.1" >8.09E-04</text>
<text x="203.70" y="102.68" font-size="3.2" text-anchor="start" fill="#333" stroke="#333" stroke-width="0.1" >2.51E-03</text>
<rect x="232.40" y="100.58" width="6.80" height="1.90" fill="#d01828" />
<line x1="184.30" y1="104.02" x2="220.40" y2="104.02" stroke="#444" stroke-width="0.5" />
<text x="185.40" y="107.72" font-size="3.2" text-anchor="start" fill="#333" stroke="#333" stroke-width="0.1" >NS</text>
<text x="203.70" y="107.72" font-size="3.2" text-anchor="start" fill="#333" stroke="#333" stroke-width="0.1" >NS</text>
<line x1="184.30" y1="109.06" x2="220.40" y2="109.06" stroke="#444" stroke-width="0.5" />
<text x="185.40" y="112.76" font-size="3.2" text-anchor="start" fill="#333" stroke="#333" stroke-width="0.1" >NS</text>
<text x="203.70" y="112.76" font-size="3.2" text-anchor="start" fill="#333" stroke="#333" stroke-width="0.1" >NS</text>
<line x1="184.30" y1="114.10" x2="220.40" y2="114.10" stroke="#444" stroke-width="0.5" />
<text x="185.40" y="117.80" font-size="3.2" text-anchor="start" fill="#333" stroke="#333" stroke-width="0.1" >1.29E-06</text>
<text x="203.70" y="117.80" font-size="3.2" text-anchor="start" fill="#333" stroke="#333" stroke-width="0.1" >8.40E-05</text>
<rect x="232.40" y="115.70" width="13.80" height="1.90" fill="#d01828" />
<line x1="184.30" y1="119.14" x2="220.40" y2="119.14" stroke="#444" stroke-width="0.5" />
<text x="185.40" y="122.84" font-size="3.2" text-anchor="start" fill="#333" stroke="#333" stroke-width="0.1" >NS</text>
<text x="203.70" y="122.84" font-size="3.2" text-anchor="start" fill="#333" stroke="#333" stroke-width="0.1" >NS</text>
<line x1="184.30" y1="124.18" x2="220.40" y2="124.18" stroke="#444" stroke-width="0.5" />
<text x="185.40" y="127.88" font-size="3.2" text-anchor="start" fill="#333" stroke="#333" stroke-width="0.1" >NS</text>
<text x="203.70" y="127.88" font-size="3.2" text-anchor="start" fill="#333" stroke="#333" stroke-width="0.1" >NS</text>
<line x1="184.30" y1="129.22" x2="220.40" y2="129.22" stroke="#444" stroke-width="0.5" />
<text x="185.40" y="132.92" font-size="3.2" text-anchor="start" fill="#333" stroke="#333" stroke-width="0.1" >1.01E-04</text>
<text x="203.70" y="132.92" font-size="3.2" text-anchor="start" fill="#333" stroke="#333" stroke-width="0.1" >9.84E-04</text>
<rect x="227.25" y="130.82" width="5.15" height="1.90" fill="#3a58a8" />
<line x1="184.30" y1="134.26" x2="220.40" y2="134.26" stroke="#444" stroke-width="0.5" />
<text x="185.40" y="137.96" font-size="3.2" text-anchor="start" fill="#333" stroke="#333" stroke-width="0.1" >1.08E-04</text>
<text x="203.70" y="137.96" font-size="3.2" text-anchor="start" fill="#333" stroke="#333" stroke-width="0.1" >5.60E-04</text>
<rect x="232.40" y="135.86" width="9.58" height="1.90" fill="#d01828" />
<line x1="184.30" y1="139.30" x2="220.40" y2="139.30" stroke="#444" stroke-width="0.5" />
<text x="185.40" y="143.00" font-size="3.2" text-anchor="start" fill="#333" stroke="#333" stroke-width="0.1" >NS</text>
<text x="203.70" y="143.00" font-size="3.2" text-anchor="start" fill="#333" stroke="#333" stroke-width="0.1" >NS</text>
<line x1="184.30" y1="144.34" x2="220.40" y2="144.34" stroke="#444" stroke-width="0.5" />
<text x="185.40" y="148.04" font-size="3.2" text-anchor="start" fill="#333" stroke="#333" stroke-width="0.1" >NS</text>
<text x="203.70" y="148.04" font-size="3.2" text-anchor="start" fill="#333" stroke="#333" stroke-width="0.1" >NS</text>
<line x1="184.30" y1="149.38" x2="220.40" y2="149.38" stroke="#444" stroke-width="0.5" />
<text x="185.40" y="153.08" font-size="3.2" text-anchor="start" fill="#333" stroke="#333" stroke-width="0.1" >NS</text>
<text x="203.70" y="153.08" font-size="3.2" text-anchor="start" fill="#333" stroke="#333" stroke-width="0.1" >NS</text>
<line x1="184.30" y1="154.42" x2="220.40" y2="154.42" stroke="#444" stroke-width="0.5" />
<text x="185.40" y="158.12" font-size="3.2" text-anchor="start" fill="#333" stroke="#333" stroke-width="0.1" >NS</text>
<text x="203.70" y="158.12" font-size="3.2" text-anchor="start" fill="#333" stroke="#333" stroke-width="0.1" >NS</text>
<line x1="184.30" y1="159.46" x2="220.40" y2="159.46" stroke="#444" stroke-width="0.5" />
<text x="185.40" y="163.16" font-size="3.2" text-anchor="start" fill="#333" stroke="#333" stroke-width="0.1" >NS</text>
<text x="203.70" y="163.16" font-size="3.2" text-anchor="start" fill="#333" stroke="#333" stroke-width="0.1" >NS</text>
<text x="22.10" y="173.70" font-size="6.3" text-anchor="start" fill="#111" stroke="#111" stroke-width="0.32" >TrxG</text>
<text x="20.80" y="179.10" font-size="4.8" text-anchor="end" fill="#3a3a3a" stroke="#3a3a3a" stroke-width="0.15" textLength="13.38" lengthAdjust="spacingAndGlyphs">RBBP5</text>
<rect x="22.30" y="175.00" width="3.39" height="5.04" fill="#eda0a9"/>
<rect x="25.69" y="175.00" width="3.39" height="5.04" fill="#d7ddf0"/>
<rect x="29.07" y="175.00" width="6.77" height="5.04" fill="#eda0a9"/>
<rect x="35.85" y="175.00" width="3.39" height="5.04" fill="#f6f3f5"/>
<rect x="39.24" y="175.00" width="3.39" height="5.04" fill="#eda0a9"/>
<rect x="42.62" y="175.00" width="3.39" height="5.04" fill="#e36c77"/>
<rect x="46.01" y="175.00" width="3.39" height="5.04" fill="#eda0a9"/>
<rect x="49.40" y="175.00" width="6.77" height="5.04" fill="#d7ddf0"/>
<rect x="56.17" y="175.00" width="3.39" height="5.04" fill="#f6f3f5"/>
<rect x="59.56" y="175.00" width="3.39" height="5.04" fill="#d7ddf0"/>
<rect x="62.95" y="175.00" width="3.39" height="5.04" fill="#f6f3f5"/>
<rect x="66.33" y="175.00" width="3.39" height="5.04" fill="#d7ddf0"/>
<rect x="69.72" y="175.00" width="3.39" height="5.04" fill="#eda0a9"/>
<rect x="73.11" y="175.00" width="3.39" height="5.04" fill="#d7ddf0"/>
<rect x="76.50" y="175.00" width="3.39" height="5.04" fill="#e36c77"/>
<rect x="79.88" y="175.00" width="3.39" height="5.04" fill="#eda0a9"/>
<rect x="83.27" y="175.00" width="3.39" height="5.04" fill="#d7ddf0"/>
<rect x="86.66" y="175.00" width="3.39" height="5.04" fill="#eda0a9"/>
<rect x="90.04" y="175.00" width="3.39" height="5.04" fill="#f6f3f5"/>
<rect x="93.43" y="175.00" width="6.77" height="5.04" fill="#d7ddf0"/>
<rect x="100.21" y="175.00" width="3.39" height="5.04" fill="#f6f3f5"/>
<rect x="103.59" y="175.00" width="6.77" height="5.04" fill="#d7ddf0"/>
<rect x="110.37" y="175.00" width="3.39" height="5.04" fill="#f6f3f5"/>
<rect x="113.76" y="175.00" width="3.39" height="5.04" fill="#d7ddf0"/>
<rect x="117.14" y="175.00" width="3.39" height="5.04" fill="#f4c8cd"/>
<rect x="120.53" y="175.00" width="3.39" height="5.04" fill="#f6f3f5"/>
<rect x="123.92" y="175.00" width="3.39" height="5.04" fill="#f4c8cd"/>
<rect x="127.30" y="175.00" width="3.39" height="5.04" fill="#f6f3f5"/>
<rect x="130.69" y="175.00" width="3.39" height="5.04" fill="#f4c8cd"/>
<rect x="134.08" y="175.00" width="3.39" height="5.04" fill="#f6f3f5"/>
<rect x="137.47" y="175.00" width="3.39" height="5.04" fill="#f4c8cd"/>
<rect x="140.85" y="175.00" width="3.39" height="5.04" fill="#f6f3f5"/>
<rect x="144.24" y="175.00" width="3.39" height="5.04" fill="#d7ddf0"/>
<rect x="147.63" y="175.00" width="3.39" height="5.04" fill="#f4c8cd"/>
<rect x="151.01" y="175.00" width="6.77" height="5.04" fill="#f6f3f5"/>
<rect x="157.79" y="175.00" width="3.39" height="5.04" fill="#f4c8cd"/>
<rect x="161.18" y="175.00" width="6.77" height="5.04" fill="#f6f3f5"/>
<rect x="167.95" y="175.00" width="3.39" height="5.04" fill="#f4c8cd"/>
<rect x="171.34" y="175.00" width="10.16" height="5.04" fill="#f6f3f5"/>
<text x="20.80" y="184.14" font-size="4.8" text-anchor="end" fill="#3a3a3a" stroke="#3a3a3a" stroke-width="0.15" textLength="12.01" lengthAdjust="spacingAndGlyphs">WDR5</text>
<rect x="22.30" y="180.04" width="3.39" height="5.04" fill="#eda0a9"/>
<rect x="25.69" y="180.04" width="3.39" height="5.04" fill="#f6f3f5"/>
<rect x="29.07" y="180.04" width="6.77" height="5.04" fill="#eda0a9"/>
<rect x="35.85" y="180.04" width="3.39" height="5.04" fill="#d7ddf0"/>
<rect x="39.24" y="180.04" width="6.77" height="5.04" fill="#e36c77"/>
<rect x="46.01" y="180.04" width="3.39" height="5.04" fill="#eda0a9"/>
<rect x="49.40" y="180.04" width="3.39" height="5.04" fill="#d7ddf0"/>
<rect x="52.79" y="180.04" width="6.77" height="5.04" fill="#f6f3f5"/>
<rect x="59.56" y="180.04" width="3.39" height="5.04" fill="#d7ddf0"/>
<rect x="62.95" y="180.04" width="3.39" height="5.04" fill="#f4c8cd"/>
<rect x="66.33" y="180.04" width="3.39" height="5.04" fill="#c81a2c"/>
<rect x="69.72" y="180.04" width="3.39" height="5.04" fill="#d7ddf0"/>
<rect x="73.11" y="180.04" width="3.39" height="5.04" fill="#f6f3f5"/>
<rect x="76.50" y="180.04" width="6.77" height="5.04" fill="#c81a2c"/>
<rect x="83.27" y="180.04" width="3.39" height="5.04" fill="#f6f3f5"/>
<rect x="86.66" y="180.04" width="3.39" height="5.04" fill="#f4c8cd"/>
<rect x="90.04" y="180.04" width="3.39" height="5.04" fill="#f6f3f5"/>
<rect x="93.43" y="180.04" width="6.77" height="5.04" fill="#d7ddf0"/>
<rect x="100.21" y="180.04" width="3.39" height="5.04" fill="#eda0a9"/>
<rect x="103.59" y="180.04" width="3.39" height="5.04" fill="#f4c8cd"/>
<rect x="106.98" y="180.04" width="3.39" height="5.04" fill="#d7ddf0"/>
<rect x="110.37" y="180.04" width="3.39" height="5.04" fill="#f6f3f5"/>
<rect x="113.76" y="180.04" width="3.39" height="5.04" fill="#d7ddf0"/>
<rect x="117.14" y="180.04" width="3.39" height="5.04" fill="#f6f3f5"/>
<rect x="120.53" y="180.04" width="3.39" height="5.04" fill="#d7ddf0"/>
<rect x="123.92" y="180.04" width="3.39" height="5.04" fill="#f6f3f5"/>
<rect x="127.30" y="180.04" width="10.16" height="5.04" fill="#d7ddf0"/>
<rect x="137.47" y="180.04" width="3.39" height="5.04" fill="#f6f3f5"/>
<rect x="140.85" y="180.04" width="3.39" height="5.04" fill="#d7ddf0"/>
<rect x="144.24" y="180.04" width="3.39" height="5.04" fill="#f6f3f5"/>
<rect x="147.63" y="180.04" width="6.77" height="5.04" fill="#d7ddf0"/>
<rect x="154.40" y="180.04" width="3.39" height="5.04" fill="#f6f3f5"/>
<rect x="157.79" y="180.04" width="3.39" height="5.04" fill="#d7ddf0"/>
<rect x="161.18" y="180.04" width="3.39" height="5.04" fill="#f6f3f5"/>
<rect x="164.56" y="180.04" width="3.39" height="5.04" fill="#d7ddf0"/>
<rect x="167.95" y="180.04" width="3.39" height="5.04" fill="#f6f3f5"/>
<rect x="171.34" y="180.04" width="3.39" height="5.04" fill="#d7ddf0"/>
<rect x="174.73" y="180.04" width="3.39" height="5.04" fill="#f4c8cd"/>
<rect x="178.11" y="180.04" width="3.39" height="5.04" fill="#eda0a9"/>
<text x="20.80" y="189.18" font-size="4.8" text-anchor="end" fill="#3a3a3a" stroke="#3a3a3a" stroke-width="0.15" textLength="12.93" lengthAdjust="spacingAndGlyphs">ASH2L</text>
<rect x="22.30" y="185.08" width="3.39" height="5.04" fill="#f6f3f5"/>
<rect x="25.69" y="185.08" width="3.39" height="5.04" fill="#d7ddf0"/>
<rect x="29.07" y="185.08" width="3.39" height="5.04" fill="#f6f3f5"/>
<rect x="32.46" y="185.08" width="3.39" height="5.04" fill="#f4c8cd"/>
<rect x="35.85" y="185.08" width="3.39" height="5.04" fill="#f6f3f5"/>
<rect x="39.24" y="185.08" width="6.77" height="5.04" fill="#d7ddf0"/>
<rect x="46.01" y="185.08" width="3.39" height="5.04" fill="#eda0a9"/>
<rect x="49.40" y="185.08" width="3.39" height="5.04" fill="#d7ddf0"/>
<rect x="52.79" y="185.08" width="3.39" height="5.04" fill="#f6f3f5"/>
<rect x="56.17" y="185.08" width="6.77" height="5.04" fill="#d7ddf0"/>
<rect x="62.95" y="185.08" width="3.39" height="5.04" fill="#b0c2e6"/>
<rect x="66.33" y="185.08" width="3.39" height="5.04" fill="#f6f3f5"/>
<rect x="69.72" y="185.08" width="3.39" height="5.04" fill="#e36c77"/>
<rect x="73.11" y="185.08" width="3.39" height="5.04" fill="#d7ddf0"/>
<rect x="76.50" y="185.08" width="6.77" height="5.04" fill="#b0c2e6"/>
<rect x="83.27" y="185.08" width="3.39" height="5.04" fill="#eda0a9"/>
<rect x="86.66" y="185.08" width="3.39" height="5.04" fill="#f6f3f5"/>
<rect x="90.04" y="185.08" width="3.39" height="5.04" fill="#d7ddf0"/>
<rect x="93.43" y="185.08" width="3.39" height="5.04" fill="#f4c8cd"/>
<rect x="96.82" y="185.08" width="3.39" height="5.04" fill="#d7ddf0"/>
<rect x="100.21" y="185.08" width="3.39" height="5.04" fill="#f6f3f5"/>
<rect x="103.59" y="185.08" width="3.39" height="5.04" fill="#d7ddf0"/>
<rect x="106.98" y="185.08" width="3.39" height="5.04" fill="#f4c8cd"/>
<rect x="110.37" y="185.08" width="3.39" height="5.04" fill="#f6f3f5"/>
<rect x="113.76" y="185.08" width="3.39" height="5.04" fill="#d7ddf0"/>
<rect x="117.14" y="185.08" width="3.39" height="5.04" fill="#f6f3f5"/>
<rect x="120.53" y="185.08" width="3.39" height="5.04" fill="#d7ddf0"/>
<rect x="123.92" y="185.08" width="3.39" height="5.04" fill="#f6f3f5"/>
<rect x="127.30" y="185.08" width="13.55" height="5.04" fill="#eda0a9"/>
<rect x="140.85" y="185.08" width="10.16" height="5.04" fill="#f4c8cd"/>
<rect x="151.01" y="185.08" width="6.77" height="5.04" fill="#eda0a9"/>
<rect x="157.79" y="185.08" width="3.39" height="5.04" fill="#f4c8cd"/>
<rect x="161.18" y="185.08" width="3.39" height="5.04" fill="#eda0a9"/>
<rect x="164.56" y="185.08" width="16.94" height="5.04" fill="#f4c8cd"/>
<text x="20.80" y="194.22" font-size="4.8" text-anchor="end" fill="#3a3a3a" stroke="#3a3a3a" stroke-width="0.15" textLength="13.60" lengthAdjust="spacingAndGlyphs">KMT2A</text>
<rect x="22.30" y="190.12" width="3.39" height="5.04" fill="#eda0a9"/>
<rect x="25.69" y="190.12" width="3.39" height="5.04" fill="#d7ddf0"/>
<rect x="29.07" y="190.12" width="3.39" height="5.04" fill="#eda0a9"/>
<rect x="32.46" y="190.12" width="3.39" height="5.04" fill="#f4c8cd"/>
<rect x="35.85" y="190.12" width="3.39" height="5.04" fill="#c81a2c"/>
<rect x="39.24" y="190.12" width="6.77" height="5.04" fill="#f4c8cd"/>
<rect x="46.01" y="190.12" width="3.39" height="5.04" fill="#e36c77"/>
<rect x="49.40" y="190.12" width="3.39" height="5.04" fill="#c81a2c"/>
<rect x="52.79" y="190.12" width="3.39" height="5.04" fill="#f4c8cd"/>
<rect x="56.17" y="190.12" width="6.77" height="5.04" fill="#d7ddf0"/>
<rect x="62.95" y="190.12" width="3.39" height="5.04" fill="#f4c8cd"/>
<rect x="66.33" y="190.12" width="3.39" height="5.04" fill="#d7ddf0"/>
<rect x="69.72" y="190.12" width="3.39" height="5.04" fill="#f6f3f5"/>
<rect x="73.11" y="190.12" width="3.39" height="5.04" fill="#eda0a9"/>
<rect x="76.50" y="190.12" width="3.39" height="5.04" fill="#f6f3f5"/>
<rect x="79.88" y="190.12" width="6.77" height="5.04" fill="#d7ddf0"/>
<rect x="86.66" y="190.12" width="10.16" height="5.04" fill="#b0c2e6"/>
<rect x="96.82" y="190.12" width="3.39" height="5.04" fill="#d7ddf0"/>
<rect x="100.21" y="190.12" width="3.39" height="5.04" fill="#f4c8cd"/>
<rect x="103.59" y="190.12" width="3.39" height="5.04" fill="#eda0a9"/>
<rect x="106.98" y="190.12" width="3.39" height="5.04" fill="#d7ddf0"/>
<rect x="110.37" y="190.12" width="3.39" height="5.04" fill="#b0c2e6"/>
<rect x="113.76" y="190.12" width="3.39" height="5.04" fill="#d7ddf0"/>
<rect x="117.14" y="190.12" width="3.39" height="5.04" fill="#b0c2e6"/>
<rect x="120.53" y="190.12" width="10.16" height="5.04" fill="#d7ddf0"/>
<rect x="130.69" y="190.12" width="20.32" height="5.04" fill="#b0c2e6"/>
<rect x="151.01" y="190.12" width="3.39" height="5.04" fill="#d7ddf0"/>
<rect x="154.40" y="190.12" width="3.39" height="5.04" fill="#f6f3f5"/>
<rect x="157.79" y="190.12" width="10.16" height="5.04" fill="#b0c2e6"/>
<rect x="167.95" y="190.12" width="3.39" height="5.04" fill="#d7ddf0"/>
<rect x="171.34" y="190.12" width="6.77" height="5.04" fill="#f6f3f5"/>
<rect x="178.11" y="190.12" width="3.39" height="5.04" fill="#d7ddf0"/>
<text x="20.80" y="199.26" font-size="4.8" text-anchor="end" fill="#3a3a3a" stroke="#3a3a3a" stroke-width="0.15" textLength="13.60" lengthAdjust="spacingAndGlyphs">KMT2B</text>
<rect x="22.30" y="195.16" width="3.39" height="5.04" fill="#d7ddf0"/>
<rect x="25.69" y="195.16" width="3.39" height="5.04" fill="#f6f3f5"/>
<rect x="29.07" y="195.16" width="3.39" height="5.04" fill="#d7ddf0"/>
<rect x="32.46" y="195.16" width="3.39" height="5.04" fill="#f6f3f5"/>
<rect x="35.85" y="195.16" width="3.39" height="5.04" fill="#eda0a9"/>
<rect x="39.24" y="195.16" width="6.77" height="5.04" fill="#e36c77"/>
<rect x="46.01" y="195.16" width="3.39" height="5.04" fill="#f4c8cd"/>
<rect x="49.40" y="195.16" width="3.39" height="5.04" fill="#d7ddf0"/>
<rect x="52.79" y="195.16" width="3.39" height="5.04" fill="#b0c2e6"/>
<rect x="56.17" y="195.16" width="3.39" height="5.04" fill="#d7ddf0"/>
<rect x="59.56" y="195.16" width="6.77" height="5.04" fill="#f6f3f5"/>
<rect x="66.33" y="195.16" width="3.39" height="5.04" fill="#d7ddf0"/>
<rect x="69.72" y="195.16" width="3.39" height="5.04" fill="#f6f3f5"/>
<rect x="73.11" y="195.16" width="6.77" height="5.04" fill="#f4c8cd"/>
<rect x="79.88" y="195.16" width="3.39" height="5.04" fill="#eda0a9"/>
<rect x="83.27" y="195.16" width="3.39" height="5.04" fill="#f4c8cd"/>
<rect x="86.66" y="195.16" width="3.39" height="5.04" fill="#d7ddf0"/>
<rect x="90.04" y="195.16" width="3.39" height="5.04" fill="#f6f3f5"/>
<rect x="93.43" y="195.16" width="3.39" height="5.04" fill="#d7ddf0"/>
<rect x="96.82" y="195.16" width="3.39" height="5.04" fill="#eda0a9"/>
<rect x="100.21" y="195.16" width="3.39" height="5.04" fill="#d7ddf0"/>
<rect x="103.59" y="195.16" width="3.39" height="5.04" fill="#eda0a9"/>
<rect x="106.98" y="195.16" width="3.39" height="5.04" fill="#e36c77"/>
<rect x="110.37" y="195.16" width="3.39" height="5.04" fill="#d7ddf0"/>
<rect x="113.76" y="195.16" width="3.39" height="5.04" fill="#f6f3f5"/>
<rect x="117.14" y="195.16" width="3.39" height="5.04" fill="#d7ddf0"/>
<rect x="120.53" y="195.16" width="3.39" height="5.04" fill="#f6f3f5"/>
<rect x="123.92" y="195.16" width="6.77" height="5.04" fill="#d7ddf0"/>
<rect x="130.69" y="195.16" width="3.39" height="5.04" fill="#f6f3f5"/>
<rect x="134.08" y="195.16" width="3.39" height="5.04" fill="#d7ddf0"/>
<rect x="137.47" y="195.16" width="3.39" height="5.04" fill="#f6f3f5"/>
<rect x="140.85" y="195.16" width="3.39" height="5.04" fill="#d7ddf0"/>
<rect x="144.24" y="195.16" width="3.39" height="5.04" fill="#f6f3f5"/>
<rect x="147.63" y="195.16" width="3.39" height="5.04" fill="#f4c8cd"/>
<rect x="151.01" y="195.16" width="3.39" height="5.04" fill="#eda0a9"/>
<rect x="154.40" y="195.16" width="3.39" height="5.04" fill="#d7ddf0"/>
<rect x="157.79" y="195.16" width="3.39" height="5.04" fill="#f6f3f5"/>
<rect x="161.18" y="195.16" width="3.39" height="5.04" fill="#d7ddf0"/>
<rect x="164.56" y="195.16" width="3.39" height="5.04" fill="#f6f3f5"/>
<rect x="167.95" y="195.16" width="3.39" height="5.04" fill="#d7ddf0"/>
<rect x="171.34" y="195.16" width="3.39" height="5.04" fill="#f6f3f5"/>
<rect x="174.73" y="195.16" width="3.39" height="5.04" fill="#d7ddf0"/>
<rect x="178.11" y="195.16" width="3.39" height="5.04" fill="#f6f3f5"/>
<text x="20.80" y="204.30" font-size="4.8" text-anchor="end" fill="#3a3a3a" stroke="#3a3a3a" stroke-width="0.15" textLength="13.83" lengthAdjust="spacingAndGlyphs">KMT2C</text>
<rect x="22.30" y="200.20" width="3.39" height="5.04" fill="#f6f3f5"/>
<rect x="25.69" y="200.20" width="3.39" height="5.04" fill="#d7ddf0"/>
<rect x="29.07" y="200.20" width="3.39" height="5.04" fill="#f4c8cd"/>
<rect x="32.46" y="200.20" width="3.39" height="5.04" fill="#d7ddf0"/>
<rect x="35.85" y="200.20" width="3.39" height="5.04" fill="#eda0a9"/>
<rect x="39.24" y="200.20" width="3.39" height="5.04" fill="#e36c77"/>
<rect x="42.62" y="200.20" width="3.39" height="5.04" fill="#eda0a9"/>
<rect x="46.01" y="200.20" width="3.39" height="5.04" fill="#e36c77"/>
<rect x="49.40" y="200.20" width="3.39" height="5.04" fill="#f6f3f5"/>
<rect x="52.79" y="200.20" width="3.39" height="5.04" fill="#5c80cc"/>
<rect x="56.17" y="200.20" width="3.39" height="5.04" fill="#b0c2e6"/>
<rect x="59.56" y="200.20" width="3.39" height="5.04" fill="#d7ddf0"/>
<rect x="62.95" y="200.20" width="3.39" height="5.04" fill="#f4c8cd"/>
<rect x="66.33" y="200.20" width="3.39" height="5.04" fill="#d7ddf0"/>
<rect x="69.72" y="200.20" width="3.39" height="5.04" fill="#eda0a9"/>
<rect x="73.11" y="200.20" width="3.39" height="5.04" fill="#f4c8cd"/>
<rect x="76.50" y="200.20" width="3.39" height="5.04" fill="#eda0a9"/>
<rect x="79.88" y="200.20" width="3.39" height="5.04" fill="#d7ddf0"/>
<rect x="83.27" y="200.20" width="6.77" height="5.04" fill="#eda0a9"/>
<rect x="90.04" y="200.20" width="3.39" height="5.04" fill="#f6f3f5"/>
<rect x="93.43" y="200.20" width="3.39" height="5.04" fill="#f4c8cd"/>
<rect x="96.82" y="200.20" width="3.39" height="5.04" fill="#5c80cc"/>
<rect x="100.21" y="200.20" width="3.39" height="5.04" fill="#f4c8cd"/>
<rect x="103.59" y="200.20" width="3.39" height="5.04" fill="#f6f3f5"/>
<rect x="106.98" y="200.20" width="3.39" height="5.04" fill="#d7ddf0"/>
<rect x="110.37" y="200.20" width="3.39" height="5.04" fill="#f6f3f5"/>
<rect x="113.76" y="200.20" width="3.39" height="5.04" fill="#d7ddf0"/>
<rect x="117.14" y="200.20" width="3.39" height="5.04" fill="#f6f3f5"/>
<rect x="120.53" y="200.20" width="3.39" height="5.04" fill="#d7ddf0"/>
<rect x="123.92" y="200.20" width="3.39" height="5.04" fill="#f6f3f5"/>
<rect x="127.30" y="200.20" width="10.16" height="5.04" fill="#d7ddf0"/>
<rect x="137.47" y="200.20" width="3.39" height="5.04" fill="#f6f3f5"/>
<rect x="140.85" y="200.20" width="3.39" height="5.04" fill="#d7ddf0"/>
<rect x="144.24" y="200.20" width="3.39" height="5.04" fill="#f6f3f5"/>
<rect x="147.63" y="200.20" width="3.39" height="5.04" fill="#d7ddf0"/>
<rect x="151.01" y="200.20" width="3.39" height="5.04" fill="#f6f3f5"/>
<rect x="154.40" y="200.20" width="3.39" height="5.04" fill="#d7ddf0"/>
<rect x="157.79" y="200.20" width="3.39" height="5.04" fill="#f6f3f5"/>
<rect x="161.18" y="200.20" width="3.39" height="5.04" fill="#d7ddf0"/>
<rect x="164.56" y="200.20" width="3.39" height="5.04" fill="#f6f3f5"/>
<rect x="167.95" y="200.20" width="3.39" height="5.04" fill="#d7ddf0"/>
<rect x="171.34" y="200.20" width="3.39" height="5.04" fill="#f6f3f5"/>
<rect x="174.73" y="200.20" width="3.39" height="5.04" fill="#d7ddf0"/>
<rect x="178.11" y="200.20" width="3.39" height="5.04" fill="#f6f3f5"/>
<text x="20.80" y="209.34" font-size="4.8" text-anchor="end" fill="#3a3a3a" stroke="#3a3a3a" stroke-width="0.15" textLength="13.83" lengthAdjust="spacingAndGlyphs">KMT2D</text>
<rect x="22.30" y="205.24" width="3.39" height="5.04" fill="#d7ddf0"/>
<rect x="25.69" y="205.24" width="3.39" height="5.04" fill="#c81a2c"/>
<rect x="29.07" y="205.24" width="3.39" height="5.04" fill="#d7ddf0"/>
<rect x="32.46" y="205.24" width="3.39" height="5.04" fill="#f6f3f5"/>
<rect x="35.85" y="205.24" width="3.39" height="5.04" fill="#f4c8cd"/>
<rect x="39.24" y="205.24" width="3.39" height="5.04" fill="#eda0a9"/>
<rect x="42.62" y="205.24" width="3.39" height="5.04" fill="#e36c77"/>
<rect x="46.01" y="205.24" width="3.39" height="5.04" fill="#eda0a9"/>
<rect x="49.40" y="205.24" width="3.39" height="5.04" fill="#d7ddf0"/>
<rect x="52.79" y="205.24" width="3.39" height="5.04" fill="#b0c2e6"/>
<rect x="56.17" y="205.24" width="3.39" height="5.04" fill="#d7ddf0"/>
<rect x="59.56" y="205.24" width="3.39" height="5.04" fill="#f6f3f5"/>
<rect x="62.95" y="205.24" width="3.39" height="5.04" fill="#eda0a9"/>
<rect x="66.33" y="205.24" width="3.39" height="5.04" fill="#e36c77"/>
<rect x="69.72" y="205.24" width="3.39" height="5.04" fill="#f4c8cd"/>
<rect x="73.11" y="205.24" width="3.39" height="5.04" fill="#eda0a9"/>
<rect x="76.50" y="205.24" width="3.39" height="5.04" fill="#d7ddf0"/>
<rect x="79.88" y="205.24" width="3.39" height="5.04" fill="#f4c8cd"/>
<rect x="83.27" y="205.24" width="3.39" height="5.04" fill="#f6f3f5"/>
<rect x="86.66" y="205.24" width="3.39" height="5.04" fill="#d7ddf0"/>
<rect x="90.04" y="205.24" width="3.39" height="5.04" fill="#f6f3f5"/>
<rect x="93.43" y="205.24" width="3.39" height="5.04" fill="#f4c8cd"/>
<rect x="96.82" y="205.24" width="3.39" height="5.04" fill="#f6f3f5"/>
<rect x="100.21" y="205.24" width="3.39" height="5.04" fill="#f4c8cd"/>
<rect x="103.59" y="205.24" width="3.39" height="5.04" fill="#eda0a9"/>
<rect x="106.98" y="205.24" width="3.39" height="5.04" fill="#c81a2c"/>
<rect x="110.37" y="205.24" width="3.39" height="5.04" fill="#f6f3f5"/>
<rect x="113.76" y="205.24" width="3.39" height="5.04" fill="#d7ddf0"/>
<rect x="117.14" y="205.24" width="3.39" height="5.04" fill="#f6f3f5"/>
<rect x="120.53" y="205.24" width="3.39" height="5.04" fill="#d7ddf0"/>
<rect x="123.92" y="205.24" width="3.39" height="5.04" fill="#f6f3f5"/>
<rect x="127.30" y="205.24" width="6.77" height="5.04" fill="#d7ddf0"/>
<rect x="134.08" y="205.24" width="3.39" height="5.04" fill="#f6f3f5"/>
<rect x="137.47" y="205.24" width="3.39" height="5.04" fill="#d7ddf0"/>
<rect x="140.85" y="205.24" width="3.39" height="5.04" fill="#f6f3f5"/>
<rect x="144.24" y="205.24" width="3.39" height="5.04" fill="#d7ddf0"/>
<rect x="147.63" y="205.24" width="3.39" height="5.04" fill="#f4c8cd"/>
<rect x="151.01" y="205.24" width="3.39" height="5.04" fill="#d7ddf0"/>
<rect x="154.40" y="205.24" width="3.39" height="5.04" fill="#5c80cc"/>
<rect x="157.79" y="205.24" width="3.39" height="5.04" fill="#d7ddf0"/>
<rect x="161.18" y="205.24" width="3.39" height="5.04" fill="#f6f3f5"/>
<rect x="164.56" y="205.24" width="3.39" height="5.04" fill="#d7ddf0"/>
<rect x="167.95" y="205.24" width="3.39" height="5.04" fill="#f6f3f5"/>
<rect x="171.34" y="205.24" width="3.39" height="5.04" fill="#d7ddf0"/>
<rect x="174.73" y="205.24" width="3.39" height="5.04" fill="#f6f3f5"/>
<rect x="178.11" y="205.24" width="3.39" height="5.04" fill="#d7ddf0"/>
<text x="20.80" y="214.38" font-size="4.8" text-anchor="end" fill="#3a3a3a" stroke="#3a3a3a" stroke-width="0.15" textLength="13.60" lengthAdjust="spacingAndGlyphs">KMT2E</text>
<rect x="22.30" y="210.28" width="3.39" height="5.04" fill="#f6f3f5"/>
<rect x="25.69" y="210.28" width="3.39" height="5.04" fill="#b0c2e6"/>
<rect x="29.07" y="210.28" width="3.39" height="5.04" fill="#f6f3f5"/>
<rect x="32.46" y="210.28" width="3.39" height="5.04" fill="#d7ddf0"/>
<rect x="35.85" y="210.28" width="3.39" height="5.04" fill="#f4c8cd"/>
<rect x="39.24" y="210.28" width="6.77" height="5.04" fill="#e36c77"/>
<rect x="46.01" y="210.28" width="3.39" height="5.04" fill="#eda0a9"/>
<rect x="49.40" y="210.28" width="3.39" height="5.04" fill="#f6f3f5"/>
<rect x="52.79" y="210.28" width="3.39" height="5.04" fill="#5c80cc"/>
<rect x="56.17" y="210.28" width="6.77" height="5.04" fill="#d7ddf0"/>
<rect x="62.95" y="210.28" width="3.39" height="5.04" fill="#f4c8cd"/>
<rect x="66.33" y="210.28" width="3.39" height="5.04" fill="#eda0a9"/>
<rect x="69.72" y="210.28" width="3.39" height="5.04" fill="#d7ddf0"/>
<rect x="73.11" y="210.28" width="3.39" height="5.04" fill="#f4c8cd"/>
<rect x="76.50" y="210.28" width="3.39" height="5.04" fill="#eda0a9"/>
<rect x="79.88" y="210.28" width="6.77" height="5.04" fill="#d7ddf0"/>
<rect x="86.66" y="210.28" width="3.39" height="5.04" fill="#f6f3f5"/>
<rect x="90.04" y="210.28" width="3.39" height="5.04" fill="#d7ddf0"/>
<rect x="93.43" y="210.28" width="3.39" height="5.04" fill="#b0c2e6"/>
<rect x="96.82" y="210.28" width="3.39" height="5.04" fill="#d7ddf0"/>
<rect x="100.21" y="210.28" width="3.39" height="5.04" fill="#f4c8cd"/>
<rect x="103.59" y="210.28" width="3.39" height="5.04" fill="#d7ddf0"/>
<rect x="106.98" y="210.28" width="3.39" height="5.04" fill="#f6f3f5"/>
<rect x="110.37" y="210.28" width="3.39" height="5.04" fill="#d7ddf0"/>
<rect x="113.76" y="210.28" width="3.39" height="5.04" fill="#f6f3f5"/>
<rect x="117.14" y="210.28" width="3.39" height="5.04" fill="#d7ddf0"/>
<rect x="120.53" y="210.28" width="6.77" height="5.04" fill="#f6f3f5"/>
<rect x="127.30" y="210.28" width="3.39" height="5.04" fill="#f4c8cd"/>
<rect x="130.69" y="210.28" width="6.77" height="5.04" fill="#d7ddf0"/>
<rect x="137.47" y="210.28" width="3.39" height="5.04" fill="#f6f3f5"/>
<rect x="140.85" y="210.28" width="3.39" height="5.04" fill="#d7ddf0"/>
<rect x="144.24" y="210.28" width="3.39" height="5.04" fill="#f6f3f5"/>
<rect x="147.63" y="210.28" width="3.39" height="5.04" fill="#d7ddf0"/>
<rect x="151.01" y="210.28" width="3.39" height="5.04" fill="#f6f3f5"/>
<rect x="154.40" y="210.28" width="3.39" height="5.04" fill="#d7ddf0"/>
<rect x="157.79" y="210.28" width="3.39" height="5.04" fill="#f6f3f5"/>
<rect x="161.18" y="210.28" width="3.39" height="5.04" fill="#d7ddf0"/>
<rect x="164.56" y="210.28" width="3.39" height="5.04" fill="#f6f3f5"/>
<rect x="167.95" y="210.28" width="3.39" height="5.04" fill="#d7ddf0"/>
<rect x="171.34" y="210.28" width="3.39" height="5.04" fill="#f6f3f5"/>
<rect x="174.73" y="210.28" width="3.39" height="5.04" fill="#d7ddf0"/>
<rect x="178.11" y="210.28" width="3.39" height="5.04" fill="#f6f3f5"/>
<text x="20.80" y="219.42" font-size="4.8" text-anchor="end" fill="#3a3a3a" stroke="#3a3a3a" stroke-width="0.15" textLength="13.60" lengthAdjust="spacingAndGlyphs">HCFC1</text>
<rect x="22.30" y="215.32" width="3.39" height="5.04" fill="#eda0a9"/>
<rect x="25.69" y="215.32" width="3.39" height="5.04" fill="#f6f3f5"/>
<rect x="29.07" y="215.32" width="3.39" height="5.04" fill="#d7ddf0"/>
<rect x="32.46" y="215.32" width="3.39" height="5.04" fill="#f6f3f5"/>
<rect x="35.85" y="215.32" width="3.39" height="5.04" fill="#d7ddf0"/>
<rect x="39.24" y="215.32" width="3.39" height="5.04" fill="#f4c8cd"/>
<rect x="42.62" y="215.32" width="3.39" height="5.04" fill="#eda0a9"/>
<rect x="46.01" y="215.32" width="3.39" height="5.04" fill="#f4c8cd"/>
<rect x="49.40" y="215.32" width="3.39" height="5.04" fill="#f6f3f5"/>
<rect x="52.79" y="215.32" width="3.39" height="5.04" fill="#b0c2e6"/>
<rect x="56.17" y="215.32" width="3.39" height="5.04" fill="#d7ddf0"/>
<rect x="59.56" y="215.32" width="6.77" height="5.04" fill="#f6f3f5"/>
<rect x="66.33" y="215.32" width="6.77" height="5.04" fill="#e36c77"/>
<rect x="73.11" y="215.32" width="3.39" height="5.04" fill="#3858a4"/>
<rect x="76.50" y="215.32" width="3.39" height="5.04" fill="#b0c2e6"/>
<rect x="79.88" y="215.32" width="3.39" height="5.04" fill="#eda0a9"/>
<rect x="83.27" y="215.32" width="3.39" height="5.04" fill="#f6f3f5"/>
<rect x="86.66" y="215.32" width="3.39" height="5.04" fill="#d7ddf0"/>
<rect x="90.04" y="215.32" width="3.39" height="5.04" fill="#f6f3f5"/>
<rect x="93.43" y="215.32" width="3.39" height="5.04" fill="#d7ddf0"/>
<rect x="96.82" y="215.32" width="3.39" height="5.04" fill="#f4c8cd"/>
<rect x="100.21" y="215.32" width="3.39" height="5.04" fill="#d7ddf0"/>
<rect x="103.59" y="215.32" width="3.39" height="5.04" fill="#f6f3f5"/>
<rect x="106.98" y="215.32" width="3.39" height="5.04" fill="#d7ddf0"/>
<rect x="110.37" y="215.32" width="3.39" height="5.04" fill="#f6f3f5"/>
<rect x="113.76" y="215.32" width="3.39" height="5.04" fill="#d7ddf0"/>
<rect x="117.14" y="215.32" width="6.77" height="5.04" fill="#f6f3f5"/>
<rect x="123.92" y="215.32" width="3.39" height="5.04" fill="#d7ddf0"/>
<rect x="127.30" y="215.32" width="6.77" height="5.04" fill="#eda0a9"/>
<rect x="134.08" y="215.32" width="3.39" height="5.04" fill="#f6f3f5"/>
<rect x="137.47" y="215.32" width="6.77" height="5.04" fill="#d7ddf0"/>
<rect x="144.24" y="215.32" width="3.39" height="5.04" fill="#f6f3f5"/>
<rect x="147.63" y="215.32" width="3.39" height="5.04" fill="#d7ddf0"/>
<rect x="151.01" y="215.32" width="3.39" height="5.04" fill="#f6f3f5"/>
<rect x="154.40" y="215.32" width="3.39" height="5.04" fill="#d7ddf0"/>
<rect x="157.79" y="215.32" width="3.39" height="5.04" fill="#f6f3f5"/>
<rect x="161.18" y="215.32" width="6.77" height="5.04" fill="#d7ddf0"/>
<rect x="167.95" y="215.32" width="3.39" height="5.04" fill="#f6f3f5"/>
<rect x="171.34" y="215.32" width="3.39" height="5.04" fill="#d7ddf0"/>
<rect x="174.73" y="215.32" width="3.39" height="5.04" fill="#f6f3f5"/>
<rect x="178.11" y="215.32" width="3.39" height="5.04" fill="#d7ddf0"/>
<text x="20.80" y="224.46" font-size="4.8" text-anchor="end" fill="#3a3a3a" stroke="#3a3a3a" stroke-width="0.15" textLength="11.34" lengthAdjust="spacingAndGlyphs">MEN1</text>
<rect x="22.30" y="220.36" width="3.39" height="5.04" fill="#d7ddf0"/>
<rect x="25.69" y="220.36" width="3.39" height="5.04" fill="#f6f3f5"/>
<rect x="29.07" y="220.36" width="3.39" height="5.04" fill="#d7ddf0"/>
<rect x="32.46" y="220.36" width="3.39" height="5.04" fill="#f6f3f5"/>
<rect x="35.85" y="220.36" width="6.77" height="5.04" fill="#d7ddf0"/>
<rect x="42.62" y="220.36" width="3.39" height="5.04" fill="#b0c2e6"/>
<rect x="46.01" y="220.36" width="3.39" height="5.04" fill="#d7ddf0"/>
<rect x="49.40" y="220.36" width="3.39" height="5.04" fill="#f6f3f5"/>
<rect x="52.79" y="220.36" width="3.39" height="5.04" fill="#5c80cc"/>
<rect x="56.17" y="220.36" width="3.39" height="5.04" fill="#d7ddf0"/>
<rect x="59.56" y="220.36" width="3.39" height="5.04" fill="#f6f3f5"/>
<rect x="62.95" y="220.36" width="3.39" height="5.04" fill="#f4c8cd"/>
<rect x="66.33" y="220.36" width="3.39" height="5.04" fill="#f6f3f5"/>
<rect x="69.72" y="220.36" width="3.39" height="5.04" fill="#f4c8cd"/>
<rect x="73.11" y="220.36" width="6.77" height="5.04" fill="#f6f3f5"/>
<rect x="79.88" y="220.36" width="6.77" height="5.04" fill="#d7ddf0"/>
<rect x="86.66" y="220.36" width="3.39" height="5.04" fill="#f6f3f5"/>
<rect x="90.04" y="220.36" width="3.39" height="5.04" fill="#d7ddf0"/>
<rect x="93.43" y="220.36" width="3.39" height="5.04" fill="#f6f3f5"/>
<rect x="96.82" y="220.36" width="3.39" height="5.04" fill="#f4c8cd"/>
<rect x="100.21" y="220.36" width="6.77" height="5.04" fill="#d7ddf0"/>
<rect x="106.98" y="220.36" width="3.39" height="5.04" fill="#f6f3f5"/>
<rect x="110.37" y="220.36" width="3.39" height="5.04" fill="#d7ddf0"/>
<rect x="113.76" y="220.36" width="13.55" height="5.04" fill="#b0c2e6"/>
<rect x="127.30" y="220.36" width="3.39" height="5.04" fill="#d7ddf0"/>
<rect x="130.69" y="220.36" width="3.39" height="5.04" fill="#5c80cc"/>
<rect x="134.08" y="220.36" width="3.39" height="5.04" fill="#d7ddf0"/>
<rect x="137.47" y="220.36" width="6.77" height="5.04" fill="#b0c2e6"/>
<rect x="144.24" y="220.36" width="3.39" height="5.04" fill="#5c80cc"/>
<rect x="147.63" y="220.36" width="6.77" height="5.04" fill="#d7ddf0"/>
<rect x="154.40" y="220.36" width="3.39" height="5.04" fill="#b0c2e6"/>
<rect x="157.79" y="220.36" width="3.39" height="5.04" fill="#d7ddf0"/>
<rect x="161.18" y="220.36" width="3.39" height="5.04" fill="#b0c2e6"/>
<rect x="164.56" y="220.36" width="3.39" height="5.04" fill="#d7ddf0"/>
<rect x="167.95" y="220.36" width="3.39" height="5.04" fill="#b0c2e6"/>
<rect x="171.34" y="220.36" width="3.39" height="5.04" fill="#d7ddf0"/>
<rect x="174.73" y="220.36" width="3.39" height="5.04" fill="#f6f3f5"/>
<rect x="178.11" y="220.36" width="3.39" height="5.04" fill="#d7ddf0"/>
<text x="20.80" y="229.50" font-size="4.8" text-anchor="end" fill="#3a3a3a" stroke="#3a3a3a" stroke-width="0.15" textLength="9.90" lengthAdjust="spacingAndGlyphs">KAT8</text>
<rect x="22.30" y="225.40" width="10.16" height="5.04" fill="#d7ddf0"/>
<rect x="32.46" y="225.40" width="3.39" height="5.04" fill="#f6f3f5"/>
<rect x="35.85" y="225.40" width="10.16" height="5.04" fill="#d7ddf0"/>
<rect x="46.01" y="225.40" width="3.39" height="5.04" fill="#f6f3f5"/>
<rect x="49.40" y="225.40" width="3.39" height="5.04" fill="#d7ddf0"/>
<rect x="52.79" y="225.40" width="3.39" height="5.04" fill="#b0c2e6"/>
<rect x="56.17" y="225.40" width="3.39" height="5.04" fill="#d7ddf0"/>
<rect x="59.56" y="225.40" width="3.39" height="5.04" fill="#b0c2e6"/>
<rect x="62.95" y="225.40" width="3.39" height="5.04" fill="#d7ddf0"/>
<rect x="66.33" y="225.40" width="6.77" height="5.04" fill="#f6f3f5"/>
<rect x="73.11" y="225.40" width="10.16" height="5.04" fill="#d7ddf0"/>
<rect x="83.27" y="225.40" width="3.39" height="5.04" fill="#b0c2e6"/>
<rect x="86.66" y="225.40" width="6.77" height="5.04" fill="#d7ddf0"/>
<rect x="93.43" y="225.40" width="3.39" height="5.04" fill="#f6f3f5"/>
<rect x="96.82" y="225.40" width="3.39" height="5.04" fill="#d7ddf0"/>
<rect x="100.21" y="225.40" width="3.39" height="5.04" fill="#f6f3f5"/>
<rect x="103.59" y="225.40" width="3.39" height="5.04" fill="#5c80cc"/>
<rect x="106.98" y="225.40" width="3.39" height="5.04" fill="#d7ddf0"/>
<rect x="110.37" y="225.40" width="3.39" height="5.04" fill="#f6f3f5"/>
<rect x="113.76" y="225.40" width="3.39" height="5.04" fill="#d7ddf0"/>
<rect x="117.14" y="225.40" width="10.16" height="5.04" fill="#f4c8cd"/>
<rect x="127.30" y="225.40" width="6.77" height="5.04" fill="#f6f3f5"/>
<rect x="134.08" y="225.40" width="3.39" height="5.04" fill="#d7ddf0"/>
<rect x="137.47" y="225.40" width="3.39" height="5.04" fill="#f6f3f5"/>
<rect x="140.85" y="225.40" width="3.39" height="5.04" fill="#d7ddf0"/>
<rect x="144.24" y="225.40" width="13.55" height="5.04" fill="#eda0a9"/>
<rect x="157.79" y="225.40" width="3.39" height="5.04" fill="#d7ddf0"/>
<rect x="161.18" y="225.40" width="3.39" height="5.04" fill="#f6f3f5"/>
<rect x="164.56" y="225.40" width="3.39" height="5.04" fill="#f4c8cd"/>
<rect x="167.95" y="225.40" width="3.39" height="5.04" fill="#d7ddf0"/>
<rect x="171.34" y="225.40" width="6.77" height="5.04" fill="#eda0a9"/>
<rect x="178.11" y="225.40" width="3.39" height="5.04" fill="#e36c77"/>
<text x="20.80" y="234.54" font-size="4.8" text-anchor="end" fill="#3a3a3a" stroke="#3a3a3a" stroke-width="0.15" textLength="11.57" lengthAdjust="spacingAndGlyphs">PSIP1</text>
<rect x="22.30" y="230.44" width="3.39" height="5.04" fill="#f6f3f5"/>
<rect x="25.69" y="230.44" width="3.39" height="5.04" fill="#5c80cc"/>
<rect x="29.07" y="230.44" width="3.39" height="5.04" fill="#b0c2e6"/>
<rect x="32.46" y="230.44" width="3.39" height="5.04" fill="#f6f3f5"/>
<rect x="35.85" y="230.44" width="3.39" height="5.04" fill="#f4c8cd"/>
<rect x="39.24" y="230.44" width="3.39" height="5.04" fill="#d7ddf0"/>
<rect x="42.62" y="230.44" width="3.39" height="5.04" fill="#f4c8cd"/>
<rect x="46.01" y="230.44" width="3.39" height="5.04" fill="#f6f3f5"/>
<rect x="49.40" y="230.44" width="3.39" height="5.04" fill="#d7ddf0"/>
<rect x="52.79" y="230.44" width="3.39" height="5.04" fill="#f6f3f5"/>
<rect x="56.17" y="230.44" width="10.16" height="5.04" fill="#d7ddf0"/>
<rect x="66.33" y="230.44" width="3.39" height="5.04" fill="#f6f3f5"/>
<rect x="69.72" y="230.44" width="3.39" height="5.04" fill="#d7ddf0"/>
<rect x="73.11" y="230.44" width="6.77" height="5.04" fill="#f6f3f5"/>
<rect x="79.88" y="230.44" width="3.39" height="5.04" fill="#d7ddf0"/>
<rect x="83.27" y="230.44" width="3.39" height="5.04" fill="#f6f3f5"/>
<rect x="86.66" y="230.44" width="3.39" height="5.04" fill="#d7ddf0"/>
<rect x="90.04" y="230.44" width="3.39" height="5.04" fill="#f6f3f5"/>
<rect x="93.43" y="230.44" width="3.39" height="5.04" fill="#d7ddf0"/>
<rect x="96.82" y="230.44" width="6.77" height="5.04" fill="#f6f3f5"/>
<rect x="103.59" y="230.44" width="3.39" height="5.04" fill="#d7ddf0"/>
<rect x="106.98" y="230.44" width="3.39" height="5.04" fill="#3858a4"/>
<rect x="110.37" y="230.44" width="3.39" height="5.04" fill="#f6f3f5"/>
<rect x="113.76" y="230.44" width="3.39" height="5.04" fill="#d7ddf0"/>
<rect x="117.14" y="230.44" width="3.39" height="5.04" fill="#f6f3f5"/>
<rect x="120.53" y="230.44" width="3.39" height="5.04" fill="#d7ddf0"/>
<rect x="123.92" y="230.44" width="3.39" height="5.04" fill="#f6f3f5"/>
<rect x="127.30" y="230.44" width="6.77" height="5.04" fill="#d7ddf0"/>
<rect x="134.08" y="230.44" width="3.39" height="5.04" fill="#f6f3f5"/>
<rect x="137.47" y="230.44" width="3.39" height="5.04" fill="#d7ddf0"/>
<rect x="140.85" y="230.44" width="3.39" height="5.04" fill="#f6f3f5"/>
<rect x="144.24" y="230.44" width="3.39" height="5.04" fill="#d7ddf0"/>
<rect x="147.63" y="230.44" width="3.39" height="5.04" fill="#f6f3f5"/>
<rect x="151.01" y="230.44" width="3.39" height="5.04" fill="#d7ddf0"/>
<rect x="154.40" y="230.44" width="3.39" height="5.04" fill="#f6f3f5"/>
<rect x="157.79" y="230.44" width="3.39" height="5.04" fill="#d7ddf0"/>
<rect x="161.18" y="230.44" width="3.39" height="5.04" fill="#f6f3f5"/>
<rect x="164.56" y="230.44" width="3.39" height="5.04" fill="#d7ddf0"/>
<rect x="167.95" y="230.44" width="3.39" height="5.04" fill="#f6f3f5"/>
<rect x="171.34" y="230.44" width="3.39" height="5.04" fill="#d7ddf0"/>
<rect x="174.73" y="230.44" width="3.39" height="5.04" fill="#f6f3f5"/>
<rect x="178.11" y="230.44" width="3.39" height="5.04" fill="#d7ddf0"/>
<path d="M22.30 175.00v60.48M25.69 175.00v60.48M29.07 175.00v60.48M32.46 175.00v60.48M35.85 175.00v60.48M39.24 175.00v60.48M42.62 175.00v60.48M46.01 175.00v60.48M49.40 175.00v60.48M52.79 175.00v60.48M56.17 175.00v60.48M59.56 175.00v60.48M62.95 175.00v60.48M66.33 175.00v60.48M69.72 175.00v60.48M73.11 175.00v60.48M76.50 175.00v60.48M79.88 175.00v60.48M83.27 175.00v60.48M86.66 175.00v60.48M90.04 175.00v60.48M93.43 175.00v60.48M96.82 175.00v60.48M100.21 175.00v60.48M103.59 175.00v60.48M106.98 175.00v60.48M110.37 175.00v60.48M113.76 175.00v60.48M117.14 175.00v60.48M120.53 175.00v60.48M123.92 175.00v60.48M127.30 175.00v60.48M130.69 175.00v60.48M134.08 175.00v60.48M137.47 175.00v60.48M140.85 175.00v60.48M144.24 175.00v60.48M147.63 175.00v60.48M151.01 175.00v60.48M154.40 175.00v60.48M157.79 175.00v60.48M161.18 175.00v60.48M164.56 175.00v60.48M167.95 175.00v60.48M171.34 175.00v60.48M174.73 175.00v60.48M178.11 175.00v60.48M181.50 175.00v60.48M22.30 175.00h159.20M22.30 180.04h159.20M22.30 185.08h159.20M22.30 190.12h159.20M22.30 195.16h159.20M22.30 200.20h159.20M22.30 205.24h159.20M22.30 210.28h159.20M22.30 215.32h159.20M22.30 220.36h159.20M22.30 225.40h159.20M22.30 230.44h159.20M22.30 235.48h159.20" stroke="#babecc" stroke-width="0.5" fill="none"/>
<rect x="184.30" y="175.00" width="36.10" height="60.48" fill="#fff" stroke="#444" stroke-width="0.5"/>
<line x1="202.60" y1="175.00" x2="202.60" y2="235.48" stroke="#444" stroke-width="0.5" />
<text x="185.40" y="178.70" font-size="3.2" text-anchor="start" fill="#333" stroke="#333" stroke-width="0.1" >NS</text>
<text x="203.70" y="178.70" font-size="3.2" text-anchor="start" fill="#333" stroke="#333" stroke-width="0.1" >NS</text>
<line x1="184.30" y1="180.04" x2="220.40" y2="180.04" stroke="#444" stroke-width="0.5" />
<text x="185.40" y="183.74" font-size="3.2" text-anchor="start" fill="#333" stroke="#333" stroke-width="0.1" >NS</text>
<text x="203.70" y="183.74" font-size="3.2" text-anchor="start" fill="#333" stroke="#333" stroke-width="0.1" >NS</text>
<line x1="184.30" y1="185.08" x2="220.40" y2="185.08" stroke="#444" stroke-width="0.5" />
<text x="185.40" y="188.78" font-size="3.2" text-anchor="start" fill="#333" stroke="#333" stroke-width="0.1" >1.69E-04</text>
<text x="203.70" y="188.78" font-size="3.2" text-anchor="start" fill="#333" stroke="#333" stroke-width="0.1" >8.41E-04</text>
<rect x="227.66" y="186.68" width="4.74" height="1.90" fill="#3a58a8" />
<line x1="184.30" y1="190.12" x2="220.40" y2="190.12" stroke="#444" stroke-width="0.5" />
<text x="185.40" y="193.82" font-size="3.2" text-anchor="start" fill="#333" stroke="#333" stroke-width="0.1" >1.68E-05</text>
<text x="203.70" y="193.82" font-size="3.2" text-anchor="start" fill="#333" stroke="#333" stroke-width="0.1" >8.41E-05</text>
<rect x="232.40" y="191.72" width="6.70" height="1.90" fill="#d01828" />
<line x1="184.30" y1="195.16" x2="220.40" y2="195.16" stroke="#444" stroke-width="0.5" />
<text x="185.40" y="198.86" font-size="3.2" text-anchor="start" fill="#333" stroke="#333" stroke-width="0.1" >NS</text>
<text x="203.70" y="198.86" font-size="3.2" text-anchor="start" fill="#333" stroke="#333" stroke-width="0.1" >NS</text>
<line x1="184.30" y1="200.20" x2="220.40" y2="200.20" stroke="#444" stroke-width="0.5" />
<text x="185.40" y="203.90" font-size="3.2" text-anchor="start" fill="#333" stroke="#333" stroke-width="0.1" >NS</text>
<text x="203.70" y="203.90" font-size="3.2" text-anchor="start" fill="#333" stroke="#333" stroke-width="0.1" >NS</text>
<line x1="184.30" y1="205.24" x2="220.40" y2="205.24" stroke="#444" stroke-width="0.5" />
<text x="185.40" y="208.94" font-size="3.2" text-anchor="start" fill="#333" stroke="#333" stroke-width="0.1" >NS</text>
<text x="203.70" y="208.94" font-size="3.2" text-anchor="start" fill="#333" stroke="#333" stroke-width="0.1" >NS</text>
<line x1="184.30" y1="210.28" x2="220.40" y2="210.28" stroke="#444" stroke-width="0.5" />
<text x="185.40" y="213.98" font-size="3.2" text-anchor="start" fill="#333" stroke="#333" stroke-width="0.1" >NS</text>
<text x="203.70" y="213.98" font-size="3.2" text-anchor="start" fill="#333" stroke="#333" stroke-width="0.1" >NS</text>
<line x1="184.30" y1="215.32" x2="220.40" y2="215.32" stroke="#444" stroke-width="0.5" />
<text x="185.40" y="219.02" font-size="3.2" text-anchor="start" fill="#333" stroke="#333" stroke-width="0.1" >NS</text>
<text x="203.70" y="219.02" font-size="3.2" text-anchor="start" fill="#333" stroke="#333" stroke-width="0.1" >NS</text>
<line x1="184.30" y1="220.36" x2="220.40" y2="220.36" stroke="#444" stroke-width="0.5" />
<text x="185.40" y="224.06" font-size="3.2" text-anchor="start" fill="#333" stroke="#333" stroke-width="0.1" >NS</text>
<text x="203.70" y="224.06" font-size="3.2" text-anchor="start" fill="#333" stroke="#333" stroke-width="0.1" >NS</text>
<line x1="184.30" y1="225.40" x2="220.40" y2="225.40" stroke="#444" stroke-width="0.5" />
<text x="185.40" y="229.10" font-size="3.2" text-anchor="start" fill="#333" stroke="#333" stroke-width="0.1" >1.56E-07</text>
<text x="203.70" y="229.10" font-size="3.2" text-anchor="start" fill="#333" stroke="#333" stroke-width="0.1" >1.56E-06</text>
<rect x="226.12" y="227.00" width="6.28" height="1.90" fill="#3a58a8" />
<line x1="184.30" y1="230.44" x2="220.40" y2="230.44" stroke="#444" stroke-width="0.5" />
<text x="185.40" y="234.14" font-size="3.2" text-anchor="start" fill="#333" stroke="#333" stroke-width="0.1" >NS</text>
<text x="203.70" y="234.14" font-size="3.2" text-anchor="start" fill="#333" stroke="#333" stroke-width="0.1" >NS</text>
<text x="22.10" y="244.70" font-size="6.3" text-anchor="start" fill="#111" stroke="#111" stroke-width="0.32" >SWI/SNF</text>
<text x="20.80" y="250.10" font-size="4.8" text-anchor="end" fill="#3a3a3a" stroke="#3a3a3a" stroke-width="0.15" textLength="19.72" lengthAdjust="spacingAndGlyphs">SMARCA4</text>
<rect x="22.30" y="246.00" width="3.39" height="5.04" fill="#eda0a9"/>
<rect x="25.69" y="246.00" width="3.39" height="5.04" fill="#f4c8cd"/>
<rect x="29.07" y="246.00" width="3.39" height="5.04" fill="#f6f3f5"/>
<rect x="32.46" y="246.00" width="3.39" height="5.04" fill="#c81a2c"/>
<rect x="35.85" y="246.00" width="3.39" height="5.04" fill="#f6f3f5"/>
<rect x="39.24" y="246.00" width="3.39" height="5.04" fill="#f4c8cd"/>
<rect x="42.62" y="246.00" width="3.39" height="5.04" fill="#d7ddf0"/>
<rect x="46.01" y="246.00" width="3.39" height="5.04" fill="#f6f3f5"/>
<rect x="49.40" y="246.00" width="3.39" height="5.04" fill="#eda0a9"/>
<rect x="52.79" y="246.00" width="3.39" height="5.04" fill="#f4c8cd"/>
<rect x="56.17" y="246.00" width="3.39" height="5.04" fill="#f6f3f5"/>
<rect x="59.56" y="246.00" width="3.39" height="5.04" fill="#d7ddf0"/>
<rect x="62.95" y="246.00" width="3.39" height="5.04" fill="#f4c8cd"/>
<rect x="66.33" y="246.00" width="6.77" height="5.04" fill="#d7ddf0"/>
<rect x="73.11" y="246.00" width="6.77" height="5.04" fill="#f6f3f5"/>
<rect x="79.88" y="246.00" width="3.39" height="5.04" fill="#f4c8cd"/>
<rect x="83.27" y="246.00" width="3.39" height="5.04" fill="#d7ddf0"/>
<rect x="86.66" y="246.00" width="3.39" height="5.04" fill="#f6f3f5"/>
<rect x="90.04" y="246.00" width="3.39" height="5.04" fill="#d7ddf0"/>
<rect x="93.43" y="246.00" width="3.39" height="5.04" fill="#f6f3f5"/>
<rect x="96.82" y="246.00" width="3.39" height="5.04" fill="#f4c8cd"/>
<rect x="100.21" y="246.00" width="3.39" height="5.04" fill="#eda0a9"/>
<rect x="103.59" y="246.00" width="3.39" height="5.04" fill="#f6f3f5"/>
<rect x="106.98" y="246.00" width="6.77" height="5.04" fill="#d7ddf0"/>
<rect x="113.76" y="246.00" width="3.39" height="5.04" fill="#f6f3f5"/>
<rect x="117.14" y="246.00" width="6.77" height="5.04" fill="#d7ddf0"/>
<rect x="123.92" y="246.00" width="3.39" height="5.04" fill="#f4c8cd"/>
<rect x="127.30" y="246.00" width="10.16" height="5.04" fill="#d7ddf0"/>
<rect x="137.47" y="246.00" width="3.39" height="5.04" fill="#f6f3f5"/>
<rect x="140.85" y="246.00" width="3.39" height="5.04" fill="#d7ddf0"/>
<rect x="144.24" y="246.00" width="3.39" height="5.04" fill="#f6f3f5"/>
<rect x="147.63" y="246.00" width="3.39" height="5.04" fill="#d7ddf0"/>
<rect x="151.01" y="246.00" width="3.39" height="5.04" fill="#f6f3f5"/>
<rect x="154.40" y="246.00" width="6.77" height="5.04" fill="#d7ddf0"/>
<rect x="161.18" y="246.00" width="3.39" height="5.04" fill="#f6f3f5"/>
<rect x="164.56" y="246.00" width="10.16" height="5.04" fill="#d7ddf0"/>
<rect x="174.73" y="246.00" width="6.77" height="5.04" fill="#f4c8cd"/>
<text x="20.80" y="255.14" font-size="4.8" text-anchor="end" fill="#3a3a3a" stroke="#3a3a3a" stroke-width="0.15" textLength="19.72" lengthAdjust="spacingAndGlyphs">SMARCB1</text>
<rect x="22.30" y="251.04" width="3.39" height="5.04" fill="#e36c77"/>
<rect x="25.69" y="251.04" width="3.39" height="5.04" fill="#f6f3f5"/>
<rect x="29.07" y="251.04" width="3.39" height="5.04" fill="#f4c8cd"/>
<rect x="32.46" y="251.04" width="3.39" height="5.04" fill="#eda0a9"/>
<rect x="35.85" y="251.04" width="16.94" height="5.04" fill="#d7ddf0"/>
<rect x="52.79" y="251.04" width="6.77" height="5.04" fill="#b0c2e6"/>
<rect x="59.56" y="251.04" width="3.39" height="5.04" fill="#d7ddf0"/>
<rect x="62.95" y="251.04" width="3.39" height="5.04" fill="#f6f3f5"/>
<rect x="66.33" y="251.04" width="3.39" height="5.04" fill="#d7ddf0"/>
<rect x="69.72" y="251.04" width="3.39" height="5.04" fill="#b0c2e6"/>
<rect x="73.11" y="251.04" width="3.39" height="5.04" fill="#d7ddf0"/>
<rect x="76.50" y="251.04" width="3.39" height="5.04" fill="#f4c8cd"/>
<rect x="79.88" y="251.04" width="6.77" height="5.04" fill="#d7ddf0"/>
<rect x="86.66" y="251.04" width="3.39" height="5.04" fill="#f4c8cd"/>
<rect x="90.04" y="251.04" width="3.39" height="5.04" fill="#d7ddf0"/>
<rect x="93.43" y="251.04" width="3.39" height="5.04" fill="#f6f3f5"/>
<rect x="96.82" y="251.04" width="3.39" height="5.04" fill="#d7ddf0"/>
<rect x="100.21" y="251.04" width="3.39" height="5.04" fill="#f6f3f5"/>
<rect x="103.59" y="251.04" width="3.39" height="5.04" fill="#b0c2e6"/>
<rect x="106.98" y="251.04" width="3.39" height="5.04" fill="#d7ddf0"/>
<rect x="110.37" y="251.04" width="3.39" height="5.04" fill="#f6f3f5"/>
<rect x="113.76" y="251.04" width="3.39" height="5.04" fill="#d7ddf0"/>
<rect x="117.14" y="251.04" width="3.39" height="5.04" fill="#f4c8cd"/>
<rect x="120.53" y="251.04" width="3.39" height="5.04" fill="#d7ddf0"/>
<rect x="123.92" y="251.04" width="3.39" height="5.04" fill="#f4c8cd"/>
<rect x="127.30" y="251.04" width="3.39" height="5.04" fill="#d7ddf0"/>
<rect x="130.69" y="251.04" width="3.39" height="5.04" fill="#f4c8cd"/>
<rect x="134.08" y="251.04" width="3.39" height="5.04" fill="#f6f3f5"/>
<rect x="137.47" y="251.04" width="3.39" height="5.04" fill="#f4c8cd"/>
<rect x="140.85" y="251.04" width="3.39" height="5.04" fill="#f6f3f5"/>
<rect x="144.24" y="251.04" width="3.39" height="5.04" fill="#f4c8cd"/>
<rect x="147.63" y="251.04" width="3.39" height="5.04" fill="#eda0a9"/>
<rect x="151.01" y="251.04" width="3.39" height="5.04" fill="#f4c8cd"/>
<rect x="154.40" y="251.04" width="3.39" height="5.04" fill="#eda0a9"/>
<rect x="157.79" y="251.04" width="3.39" height="5.04" fill="#f4c8cd"/>
<rect x="161.18" y="251.04" width="3.39" height="5.04" fill="#eda0a9"/>
<rect x="164.56" y="251.04" width="3.39" height="5.04" fill="#d7ddf0"/>
<rect x="167.95" y="251.04" width="6.77" height="5.04" fill="#f6f3f5"/>
<rect x="174.73" y="251.04" width="3.39" height="5.04" fill="#eda0a9"/>
<rect x="178.11" y="251.04" width="3.39" height="5.04" fill="#f4c8cd"/>
<text x="20.80" y="260.18" font-size="4.8" text-anchor="end" fill="#3a3a3a" stroke="#3a3a3a" stroke-width="0.15" textLength="19.95" lengthAdjust="spacingAndGlyphs">SMARCC1</text>
<rect x="22.30" y="256.08" width="3.39" height="5.04" fill="#f4c8cd"/>
<rect x="25.69" y="256.08" width="3.39" height="5.04" fill="#f6f3f5"/>
<rect x="29.07" y="256.08" width="3.39" height="5.04" fill="#d7ddf0"/>
<rect x="32.46" y="256.08" width="3.39" height="5.04" fill="#eda0a9"/>
<rect x="35.85" y="256.08" width="3.39" height="5.04" fill="#e36c77"/>
<rect x="39.24" y="256.08" width="3.39" height="5.04" fill="#c81a2c"/>
<rect x="42.62" y="256.08" width="6.77" height="5.04" fill="#eda0a9"/>
<rect x="49.40" y="256.08" width="3.39" height="5.04" fill="#f4c8cd"/>
<rect x="52.79" y="256.08" width="3.39" height="5.04" fill="#e36c77"/>
<rect x="56.17" y="256.08" width="3.39" height="5.04" fill="#eda0a9"/>
<rect x="59.56" y="256.08" width="3.39" height="5.04" fill="#f4c8cd"/>
<rect x="62.95" y="256.08" width="13.55" height="5.04" fill="#eda0a9"/>
<rect x="76.50" y="256.08" width="6.77" height="5.04" fill="#f6f3f5"/>
<rect x="83.27" y="256.08" width="3.39" height="5.04" fill="#eda0a9"/>
<rect x="86.66" y="256.08" width="3.39" height="5.04" fill="#f4c8cd"/>
<rect x="90.04" y="256.08" width="3.39" height="5.04" fill="#f6f3f5"/>
<rect x="93.43" y="256.08" width="3.39" height="5.04" fill="#c81a2c"/>
<rect x="96.82" y="256.08" width="3.39" height="5.04" fill="#f4c8cd"/>
<rect x="100.21" y="256.08" width="3.39" height="5.04" fill="#f6f3f5"/>
<rect x="103.59" y="256.08" width="6.77" height="5.04" fill="#f4c8cd"/>
<rect x="110.37" y="256.08" width="44.03" height="5.04" fill="#b0c2e6"/>
<rect x="154.40" y="256.08" width="3.39" height="5.04" fill="#d7ddf0"/>
<rect x="157.79" y="256.08" width="13.55" height="5.04" fill="#b0c2e6"/>
<rect x="171.34" y="256.08" width="3.39" height="5.04" fill="#5c80cc"/>
<rect x="174.73" y="256.08" width="3.39" height="5.04" fill="#b0c2e6"/>
<rect x="178.11" y="256.08" width="3.39" height="5.04" fill="#d7ddf0"/>
<text x="20.80" y="265.22" font-size="4.8" text-anchor="end" fill="#3a3a3a" stroke="#3a3a3a" stroke-width="0.15" textLength="19.95" lengthAdjust="spacingAndGlyphs">SMARCC2</text>
<rect x="22.30" y="261.12" width="3.39" height="5.04" fill="#eda0a9"/>
<rect x="25.69" y="261.12" width="3.39" height="5.04" fill="#d7ddf0"/>
<rect x="29.07" y="261.12" width="3.39" height="5.04" fill="#f6f3f5"/>
<rect x="32.46" y="261.12" width="3.39" height="5.04" fill="#d7ddf0"/>
<rect x="35.85" y="261.12" width="3.39" height="5.04" fill="#f6f3f5"/>
<rect x="39.24" y="261.12" width="3.39" height="5.04" fill="#f4c8cd"/>
<rect x="42.62" y="261.12" width="3.39" height="5.04" fill="#d7ddf0"/>
<rect x="46.01" y="261.12" width="3.39" height="5.04" fill="#f6f3f5"/>
<rect x="49.40" y="261.12" width="6.77" height="5.04" fill="#d7ddf0"/>
<rect x="56.17" y="261.12" width="3.39" height="5.04" fill="#f6f3f5"/>
<rect x="59.56" y="261.12" width="3.39" height="5.04" fill="#d7ddf0"/>
<rect x="62.95" y="261.12" width="3.39" height="5.04" fill="#f4c8cd"/>
<rect x="66.33" y="261.12" width="3.39" height="5.04" fill="#f6f3f5"/>
<rect x="69.72" y="261.12" width="6.77" height="5.04" fill="#d7ddf0"/>
<rect x="76.50" y="261.12" width="3.39" height="5.04" fill="#f4c8cd"/>
<rect x="79.88" y="261.12" width="3.39" height="5.04" fill="#f6f3f5"/>
<rect x="83.27" y="261.12" width="3.39" height="5.04" fill="#d7ddf0"/>
<rect x="86.66" y="261.12" width="3.39" height="5.04" fill="#f6f3f5"/>
<rect x="90.04" y="261.12" width="3.39" height="5.04" fill="#d7ddf0"/>
<rect x="93.43" y="261.12" width="3.39" height="5.04" fill="#f6f3f5"/>
<rect x="96.82" y="261.12" width="3.39" height="5.04" fill="#f4c8cd"/>
<rect x="100.21" y="261.12" width="3.39" height="5.04" fill="#f6f3f5"/>
<rect x="103.59" y="261.12" width="3.39" height="5.04" fill="#f4c8cd"/>
<rect x="106.98" y="261.12" width="3.39" height="5.04" fill="#d7ddf0"/>
<rect x="110.37" y="261.12" width="3.39" height="5.04" fill="#f4c8cd"/>
<rect x="113.76" y="261.12" width="3.39" height="5.04" fill="#f6f3f5"/>
<rect x="117.14" y="261.12" width="3.39" height="5.04" fill="#d7ddf0"/>
<rect x="120.53" y="261.12" width="3.39" height="5.04" fill="#f6f3f5"/>
<rect x="123.92" y="261.12" width="3.39" height="5.04" fill="#f4c8cd"/>
<rect x="127.30" y="261.12" width="3.39" height="5.04" fill="#f6f3f5"/>
<rect x="130.69" y="261.12" width="3.39" height="5.04" fill="#d7ddf0"/>
<rect x="134.08" y="261.12" width="3.39" height="5.04" fill="#f6f3f5"/>
<rect x="137.47" y="261.12" width="3.39" height="5.04" fill="#d7ddf0"/>
<rect x="140.85" y="261.12" width="3.39" height="5.04" fill="#f6f3f5"/>
<rect x="144.24" y="261.12" width="3.39" height="5.04" fill="#d7ddf0"/>
<rect x="147.63" y="261.12" width="3.39" height="5.04" fill="#f6f3f5"/>
<rect x="151.01" y="261.12" width="3.39" height="5.04" fill="#d7ddf0"/>
<rect x="154.40" y="261.12" width="3.39" height="5.04" fill="#f6f3f5"/>
<rect x="157.79" y="261.12" width="3.39" height="5.04" fill="#d7ddf0"/>
<rect x="161.18" y="261.12" width="3.39" height="5.04" fill="#f6f3f5"/>
<rect x="164.56" y="261.12" width="3.39" height="5.04" fill="#d7ddf0"/>
<rect x="167.95" y="261.12" width="3.39" height="5.04" fill="#f6f3f5"/>
<rect x="171.34" y="261.12" width="3.39" height="5.04" fill="#d7ddf0"/>
<rect x="174.73" y="261.12" width="3.39" height="5.04" fill="#f6f3f5"/>
<rect x="178.11" y="261.12" width="3.39" height="5.04" fill="#d7ddf0"/>
<text x="20.80" y="270.26" font-size="4.8" text-anchor="end" fill="#3a3a3a" stroke="#3a3a3a" stroke-width="0.15" textLength="19.95" lengthAdjust="spacingAndGlyphs">SMARCD1</text>
<rect x="22.30" y="266.16" width="3.39" height="5.04" fill="#e36c77"/>
<rect x="25.69" y="266.16" width="3.39" height="5.04" fill="#f6f3f5"/>
<rect x="29.07" y="266.16" width="3.39" height="5.04" fill="#d7ddf0"/>
<rect x="32.46" y="266.16" width="3.39" height="5.04" fill="#f6f3f5"/>
<rect x="35.85" y="266.16" width="6.77" height="5.04" fill="#eda0a9"/>
<rect x="42.62" y="266.16" width="3.39" height="5.04" fill="#d7ddf0"/>
<rect x="46.01" y="266.16" width="3.39" height="5.04" fill="#f6f3f5"/>
<rect x="49.40" y="266.16" width="10.16" height="5.04" fill="#d7ddf0"/>
<rect x="59.56" y="266.16" width="3.39" height="5.04" fill="#f6f3f5"/>
<rect x="62.95" y="266.16" width="3.39" height="5.04" fill="#eda0a9"/>
<rect x="66.33" y="266.16" width="3.39" height="5.04" fill="#f4c8cd"/>
<rect x="69.72" y="266.16" width="3.39" height="5.04" fill="#f6f3f5"/>
<rect x="73.11" y="266.16" width="3.39" height="5.04" fill="#eda0a9"/>
<rect x="76.50" y="266.16" width="3.39" height="5.04" fill="#f4c8cd"/>
<rect x="79.88" y="266.16" width="3.39" height="5.04" fill="#d7ddf0"/>
<rect x="83.27" y="266.16" width="3.39" height="5.04" fill="#f6f3f5"/>
<rect x="86.66" y="266.16" width="3.39" height="5.04" fill="#d7ddf0"/>
<rect x="90.04" y="266.16" width="3.39" height="5.04" fill="#f4c8cd"/>
<rect x="93.43" y="266.16" width="3.39" height="5.04" fill="#f6f3f5"/>
<rect x="96.82" y="266.16" width="3.39" height="5.04" fill="#d7ddf0"/>
<rect x="100.21" y="266.16" width="3.39" height="5.04" fill="#f6f3f5"/>
<rect x="103.59" y="266.16" width="3.39" height="5.04" fill="#d7ddf0"/>
<rect x="106.98" y="266.16" width="3.39" height="5.04" fill="#f4c8cd"/>
<rect x="110.37" y="266.16" width="3.39" height="5.04" fill="#f6f3f5"/>
<rect x="113.76" y="266.16" width="3.39" height="5.04" fill="#d7ddf0"/>
<rect x="117.14" y="266.16" width="3.39" height="5.04" fill="#f6f3f5"/>
<rect x="120.53" y="266.16" width="3.39" height="5.04" fill="#d7ddf0"/>
<rect x="123.92" y="266.16" width="3.39" height="5.04" fill="#f6f3f5"/>
<rect x="127.30" y="266.16" width="6.77" height="5.04" fill="#d7ddf0"/>
<rect x="134.08" y="266.16" width="3.39" height="5.04" fill="#f6f3f5"/>
<rect x="137.47" y="266.16" width="3.39" height="5.04" fill="#d7ddf0"/>
<rect x="140.85" y="266.16" width="3.39" height="5.04" fill="#f6f3f5"/>
<rect x="144.24" y="266.16" width="6.77" height="5.04" fill="#f4c8cd"/>
<rect x="151.01" y="266.16" width="3.39" height="5.04" fill="#f6f3f5"/>
<rect x="154.40" y="266.16" width="3.39" height="5.04" fill="#f4c8cd"/>
<rect x="157.79" y="266.16" width="3.39" height="5.04" fill="#d7ddf0"/>
<rect x="161.18" y="266.16" width="3.39" height="5.04" fill="#f6f3f5"/>
<rect x="164.56" y="266.16" width="3.39" height="5.04" fill="#f4c8cd"/>
<rect x="167.95" y="266.16" width="3.39" height="5.04" fill="#f6f3f5"/>
<rect x="171.34" y="266.16" width="3.39" height="5.04" fill="#d7ddf0"/>
<rect x="174.73" y="266.16" width="3.39" height="5.04" fill="#f6f3f5"/>
<rect x="178.11" y="266.16" width="3.39" height="5.04" fill="#d7ddf0"/>
<text x="20.80" y="275.30" font-size="4.8" text-anchor="end" fill="#3a3a3a" stroke="#3a3a3a" stroke-width="0.15" textLength="19.95" lengthAdjust="spacingAndGlyphs">SMARCD2</text>
<rect x="22.30" y="271.20" width="6.77" height="5.04" fill="#d7ddf0"/>
<rect x="29.07" y="271.20" width="3.39" height="5.04" fill="#f6f3f5"/>
<rect x="32.46" y="271.20" width="3.39" height="5.04" fill="#b0c2e6"/>
<rect x="35.85" y="271.20" width="3.39" height="5.04" fill="#d7ddf0"/>
<rect x="39.24" y="271.20" width="3.39" height="5.04" fill="#f4c8cd"/>
<rect x="42.62" y="271.20" width="3.39" height="5.04" fill="#e36c77"/>
<rect x="46.01" y="271.20" width="3.39" height="5.04" fill="#f6f3f5"/>
<rect x="49.40" y="271.20" width="3.39" height="5.04" fill="#d7ddf0"/>
<rect x="52.79" y="271.20" width="3.39" height="5.04" fill="#b0c2e6"/>
<rect x="56.17" y="271.20" width="3.39" height="5.04" fill="#d7ddf0"/>
<rect x="59.56" y="271.20" width="3.39" height="5.04" fill="#f4c8cd"/>
<rect x="62.95" y="271.20" width="6.77" height="5.04" fill="#d7ddf0"/>
<rect x="69.72" y="271.20" width="3.39" height="5.04" fill="#f6f3f5"/>
<rect x="73.11" y="271.20" width="6.77" height="5.04" fill="#d7ddf0"/>
<rect x="79.88" y="271.20" width="3.39" height="5.04" fill="#f6f3f5"/>
<rect x="83.27" y="271.20" width="3.39" height="5.04" fill="#eda0a9"/>
<rect x="86.66" y="271.20" width="3.39" height="5.04" fill="#f4c8cd"/>
<rect x="90.04" y="271.20" width="3.39" height="5.04" fill="#f6f3f5"/>
<rect x="93.43" y="271.20" width="3.39" height="5.04" fill="#f4c8cd"/>
<rect x="96.82" y="271.20" width="3.39" height="5.04" fill="#e36c77"/>
<rect x="100.21" y="271.20" width="3.39" height="5.04" fill="#eda0a9"/>
<rect x="103.59" y="271.20" width="3.39" height="5.04" fill="#d7ddf0"/>
<rect x="106.98" y="271.20" width="3.39" height="5.04" fill="#f6f3f5"/>
<rect x="110.37" y="271.20" width="3.39" height="5.04" fill="#d7ddf0"/>
<rect x="113.76" y="271.20" width="3.39" height="5.04" fill="#f4c8cd"/>
<rect x="117.14" y="271.20" width="3.39" height="5.04" fill="#eda0a9"/>
<rect x="120.53" y="271.20" width="6.77" height="5.04" fill="#f4c8cd"/>
<rect x="127.30" y="271.20" width="3.39" height="5.04" fill="#e36c77"/>
<rect x="130.69" y="271.20" width="3.39" height="5.04" fill="#eda0a9"/>
<rect x="134.08" y="271.20" width="3.39" height="5.04" fill="#f6f3f5"/>
<rect x="137.47" y="271.20" width="3.39" height="5.04" fill="#eda0a9"/>
<rect x="140.85" y="271.20" width="3.39" height="5.04" fill="#f4c8cd"/>
<rect x="144.24" y="271.20" width="3.39" height="5.04" fill="#e36c77"/>
<rect x="147.63" y="271.20" width="3.39" height="5.04" fill="#eda0a9"/>
<rect x="151.01" y="271.20" width="3.39" height="5.04" fill="#f4c8cd"/>
<rect x="154.40" y="271.20" width="3.39" height="5.04" fill="#eda0a9"/>
<rect x="157.79" y="271.20" width="6.77" height="5.04" fill="#f4c8cd"/>
<rect x="164.56" y="271.20" width="3.39" height="5.04" fill="#f6f3f5"/>
<rect x="167.95" y="271.20" width="6.77" height="5.04" fill="#f4c8cd"/>
<rect x="174.73" y="271.20" width="3.39" height="5.04" fill="#e36c77"/>
<rect x="178.11" y="271.20" width="3.39" height="5.04" fill="#eda0a9"/>
<text x="20.80" y="280.34" font-size="4.8" text-anchor="end" fill="#3a3a3a" stroke="#3a3a3a" stroke-width="0.15" textLength="19.95" lengthAdjust="spacingAndGlyphs">SMARCD3</text>
<rect x="22.30" y="276.24" width="3.39" height="5.04" fill="#d7ddf0"/>
<rect x="25.69" y="276.24" width="3.39" height="5.04" fill="#f6f3f5"/>
<rect x="29.07" y="276.24" width="3.39" height="5.04" fill="#f4c8cd"/>
<rect x="32.46" y="276.24" width="3.39" height="5.04" fill="#e36c77"/>
<rect x="35.85" y="276.24" width="3.39" height="5.04" fill="#f6f3f5"/>
<rect x="39.24" y="276.24" width="3.39" height="5.04" fill="#d7ddf0"/>
<rect x="42.62" y="276.24" width="6.77" height="5.04" fill="#eda0a9"/>
<rect x="49.40" y="276.24" width="10.16" height="5.04" fill="#e36c77"/>
<rect x="59.56" y="276.24" width="6.77" height="5.04" fill="#c81a2c"/>
<rect x="66.33" y="276.24" width="3.39" height="5.04" fill="#e36c77"/>
<rect x="69.72" y="276.24" width="3.39" height="5.04" fill="#eda0a9"/>
<rect x="73.11" y="276.24" width="3.39" height="5.04" fill="#f6f3f5"/>
<rect x="76.50" y="276.24" width="3.39" height="5.04" fill="#eda0a9"/>
<rect x="79.88" y="276.24" width="3.39" height="5.04" fill="#f6f3f5"/>
<rect x="83.27" y="276.24" width="3.39" height="5.04" fill="#c81a2c"/>
<rect x="86.66" y="276.24" width="3.39" height="5.04" fill="#f6f3f5"/>
<rect x="90.04" y="276.24" width="6.77" height="5.04" fill="#f4c8cd"/>
<rect x="96.82" y="276.24" width="3.39" height="5.04" fill="#e36c77"/>
<rect x="100.21" y="276.24" width="10.16" height="5.04" fill="#c81a2c"/>
<rect x="110.37" y="276.24" width="3.39" height="5.04" fill="#f4c8cd"/>
<rect x="113.76" y="276.24" width="3.39" height="5.04" fill="#d7ddf0"/>
<rect x="117.14" y="276.24" width="3.39" height="5.04" fill="#3858a4"/>
<rect x="120.53" y="276.24" width="3.39" height="5.04" fill="#b0c2e6"/>
<rect x="123.92" y="276.24" width="3.39" height="5.04" fill="#d7ddf0"/>
<rect x="127.30" y="276.24" width="16.94" height="5.04" fill="#b0c2e6"/>
<rect x="144.24" y="276.24" width="3.39" height="5.04" fill="#d7ddf0"/>
<rect x="147.63" y="276.24" width="3.39" height="5.04" fill="#3858a4"/>
<rect x="151.01" y="276.24" width="6.77" height="5.04" fill="#b0c2e6"/>
<rect x="157.79" y="276.24" width="3.39" height="5.04" fill="#5c80cc"/>
<rect x="161.18" y="276.24" width="3.39" height="5.04" fill="#d7ddf0"/>
<rect x="164.56" y="276.24" width="3.39" height="5.04" fill="#f6f3f5"/>
<rect x="167.95" y="276.24" width="3.39" height="5.04" fill="#b0c2e6"/>
<rect x="171.34" y="276.24" width="3.39" height="5.04" fill="#5c80cc"/>
<rect x="174.73" y="276.24" width="6.77" height="5.04" fill="#b0c2e6"/>
<text x="20.80" y="285.38" font-size="4.8" text-anchor="end" fill="#3a3a3a" stroke="#3a3a3a" stroke-width="0.15" textLength="19.72" lengthAdjust="spacingAndGlyphs">SMARCE1</text>
<rect x="22.30" y="281.28" width="3.39" height="5.04" fill="#eda0a9"/>
<rect x="25.69" y="281.28" width="3.39" height="5.04" fill="#d7ddf0"/>
<rect x="29.07" y="281.28" width="3.39" height="5.04" fill="#e36c77"/>
<rect x="32.46" y="281.28" width="3.39" height="5.04" fill="#f6f3f5"/>
<rect x="35.85" y="281.28" width="3.39" height="5.04" fill="#d7ddf0"/>
<rect x="39.24" y="281.28" width="3.39" height="5.04" fill="#f6f3f5"/>
<rect x="42.62" y="281.28" width="3.39" height="5.04" fill="#d7ddf0"/>
<rect x="46.01" y="281.28" width="3.39" height="5.04" fill="#f6f3f5"/>
<rect x="49.40" y="281.28" width="3.39" height="5.04" fill="#d7ddf0"/>
<rect x="52.79" y="281.28" width="3.39" height="5.04" fill="#f6f3f5"/>
<rect x="56.17" y="281.28" width="3.39" height="5.04" fill="#d7ddf0"/>
<rect x="59.56" y="281.28" width="3.39" height="5.04" fill="#f6f3f5"/>
<rect x="62.95" y="281.28" width="6.77" height="5.04" fill="#b0c2e6"/>
<rect x="69.72" y="281.28" width="3.39" height="5.04" fill="#f6f3f5"/>
<rect x="73.11" y="281.28" width="3.39" height="5.04" fill="#eda0a9"/>
<rect x="76.50" y="281.28" width="3.39" height="5.04" fill="#f4c8cd"/>
<rect x="79.88" y="281.28" width="6.77" height="5.04" fill="#d7ddf0"/>
<rect x="86.66" y="281.28" width="3.39" height="5.04" fill="#f6f3f5"/>
<rect x="90.04" y="281.28" width="3.39" height="5.04" fill="#d7ddf0"/>
<rect x="93.43" y="281.28" width="3.39" height="5.04" fill="#f6f3f5"/>
<rect x="96.82" y="281.28" width="3.39" height="5.04" fill="#f4c8cd"/>
<rect x="100.21" y="281.28" width="3.39" height="5.04" fill="#d7ddf0"/>
<rect x="103.59" y="281.28" width="3.39" height="5.04" fill="#b0c2e6"/>
<rect x="106.98" y="281.28" width="3.39" height="5.04" fill="#f6f3f5"/>
<rect x="110.37" y="281.28" width="3.39" height="5.04" fill="#f4c8cd"/>
<rect x="113.76" y="281.28" width="3.39" height="5.04" fill="#f6f3f5"/>
<rect x="117.14" y="281.28" width="3.39" height="5.04" fill="#f4c8cd"/>
<rect x="120.53" y="281.28" width="3.39" height="5.04" fill="#f6f3f5"/>
<rect x="123.92" y="281.28" width="3.39" height="5.04" fill="#f4c8cd"/>
<rect x="127.30" y="281.28" width="6.77" height="5.04" fill="#eda0a9"/>
<rect x="134.08" y="281.28" width="3.39" height="5.04" fill="#f4c8cd"/>
<rect x="137.47" y="281.28" width="3.39" height="5.04" fill="#eda0a9"/>
<rect x="140.85" y="281.28" width="3.39" height="5.04" fill="#f4c8cd"/>
<rect x="144.24" y="281.28" width="3.39" height="5.04" fill="#eda0a9"/>
<rect x="147.63" y="281.28" width="3.39" height="5.04" fill="#f4c8cd"/>
<rect x="151.01" y="281.28" width="3.39" height="5.04" fill="#eda0a9"/>
<rect x="154.40" y="281.28" width="6.77" height="5.04" fill="#f4c8cd"/>
<rect x="161.18" y="281.28" width="3.39" height="5.04" fill="#f6f3f5"/>
<rect x="164.56" y="281.28" width="3.39" height="5.04" fill="#f4c8cd"/>
<rect x="167.95" y="281.28" width="3.39" height="5.04" fill="#eda0a9"/>
<rect x="171.34" y="281.28" width="3.39" height="5.04" fill="#f4c8cd"/>
<rect x="174.73" y="281.28" width="3.39" height="5.04" fill="#eda0a9"/>
<rect x="178.11" y="281.28" width="3.39" height="5.04" fill="#f4c8cd"/>
<text x="20.80" y="290.42" font-size="4.8" text-anchor="end" fill="#3a3a3a" stroke="#3a3a3a" stroke-width="0.15" textLength="12.70" lengthAdjust="spacingAndGlyphs">PHF10</text>
<rect x="22.30" y="286.32" width="3.39" height="5.04" fill="#f4c8cd"/>
<rect x="25.69" y="286.32" width="3.39" height="5.04" fill="#5c80cc"/>
<rect x="29.07" y="286.32" width="6.77" height="5.04" fill="#d7ddf0"/>
<rect x="35.85" y="286.32" width="3.39" height="5.04" fill="#f6f3f5"/>
<rect x="39.24" y="286.32" width="3.39" height="5.04" fill="#f4c8cd"/>
<rect x="42.62" y="286.32" width="3.39" height="5.04" fill="#eda0a9"/>
<rect x="46.01" y="286.32" width="3.39" height="5.04" fill="#d7ddf0"/>
<rect x="49.40" y="286.32" width="3.39" height="5.04" fill="#f6f3f5"/>
<rect x="52.79" y="286.32" width="6.77" height="5.04" fill="#d7ddf0"/>
<rect x="59.56" y="286.32" width="3.39" height="5.04" fill="#f6f3f5"/>
<rect x="62.95" y="286.32" width="3.39" height="5.04" fill="#d7ddf0"/>
<rect x="66.33" y="286.32" width="3.39" height="5.04" fill="#f4c8cd"/>
<rect x="69.72" y="286.32" width="3.39" height="5.04" fill="#f6f3f5"/>
<rect x="73.11" y="286.32" width="10.16" height="5.04" fill="#d7ddf0"/>
<rect x="83.27" y="286.32" width="3.39" height="5.04" fill="#5c80cc"/>
<rect x="86.66" y="286.32" width="3.39" height="5.04" fill="#d7ddf0"/>
<rect x="90.04" y="286.32" width="3.39" height="5.04" fill="#f6f3f5"/>
<rect x="93.43" y="286.32" width="6.77" height="5.04" fill="#d7ddf0"/>
<rect x="100.21" y="286.32" width="3.39" height="5.04" fill="#f6f3f5"/>
<rect x="103.59" y="286.32" width="3.39" height="5.04" fill="#d7ddf0"/>
<rect x="106.98" y="286.32" width="3.39" height="5.04" fill="#f6f3f5"/>
<rect x="110.37" y="286.32" width="3.39" height="5.04" fill="#eda0a9"/>
<rect x="113.76" y="286.32" width="3.39" height="5.04" fill="#f6f3f5"/>
<rect x="117.14" y="286.32" width="3.39" height="5.04" fill="#d7ddf0"/>
<rect x="120.53" y="286.32" width="3.39" height="5.04" fill="#f6f3f5"/>
<rect x="123.92" y="286.32" width="3.39" height="5.04" fill="#f4c8cd"/>
<rect x="127.30" y="286.32" width="3.39" height="5.04" fill="#d7ddf0"/>
<rect x="130.69" y="286.32" width="3.39" height="5.04" fill="#e36c77"/>
<rect x="134.08" y="286.32" width="3.39" height="5.04" fill="#f6f3f5"/>
<rect x="137.47" y="286.32" width="3.39" height="5.04" fill="#eda0a9"/>
<rect x="140.85" y="286.32" width="3.39" height="5.04" fill="#d7ddf0"/>
<rect x="144.24" y="286.32" width="3.39" height="5.04" fill="#eda0a9"/>
<rect x="147.63" y="286.32" width="3.39" height="5.04" fill="#f4c8cd"/>
<rect x="151.01" y="286.32" width="3.39" height="5.04" fill="#eda0a9"/>
<rect x="154.40" y="286.32" width="6.77" height="5.04" fill="#f4c8cd"/>
<rect x="161.18" y="286.32" width="3.39" height="5.04" fill="#f6f3f5"/>
<rect x="164.56" y="286.32" width="3.39" height="5.04" fill="#e36c77"/>
<rect x="167.95" y="286.32" width="3.39" height="5.04" fill="#f4c8cd"/>
<rect x="171.34" y="286.32" width="3.39" height="5.04" fill="#f6f3f5"/>
<rect x="174.73" y="286.32" width="3.39" height="5.04" fill="#f4c8cd"/>
<rect x="178.11" y="286.32" width="3.39" height="5.04" fill="#eda0a9"/>
<text x="20.80" y="295.46" font-size="4.8" text-anchor="end" fill="#3a3a3a" stroke="#3a3a3a" stroke-width="0.15" textLength="15.42" lengthAdjust="spacingAndGlyphs">ACTL6A</text>
<rect x="22.30" y="291.36" width="3.39" height="5.04" fill="#e36c77"/>
<rect x="25.69" y="291.36" width="3.39" height="5.04" fill="#f6f3f5"/>
<rect x="29.07" y="291.36" width="3.39" height="5.04" fill="#d7ddf0"/>
<rect x="32.46" y="291.36" width="3.39" height="5.04" fill="#f6f3f5"/>
<rect x="35.85" y="291.36" width="3.39" height="5.04" fill="#d7ddf0"/>
<rect x="39.24" y="291.36" width="3.39" height="5.04" fill="#f6f3f5"/>
<rect x="42.62" y="291.36" width="6.77" height="5.04" fill="#d7ddf0"/>
<rect x="49.40" y="291.36" width="3.39" height="5.04" fill="#f6f3f5"/>
<rect x="52.79" y="291.36" width="3.39" height="5.04" fill="#e36c77"/>
<rect x="56.17" y="291.36" width="3.39" height="5.04" fill="#f6f3f5"/>
<rect x="59.56" y="291.36" width="3.39" height="5.04" fill="#d7ddf0"/>
<rect x="62.95" y="291.36" width="3.39" height="5.04" fill="#5c80cc"/>
<rect x="66.33" y="291.36" width="3.39" height="5.04" fill="#d7ddf0"/>
<rect x="69.72" y="291.36" width="3.39" height="5.04" fill="#c81a2c"/>
<rect x="73.11" y="291.36" width="6.77" height="5.04" fill="#d7ddf0"/>
<rect x="79.88" y="291.36" width="3.39" height="5.04" fill="#b0c2e6"/>
<rect x="83.27" y="291.36" width="3.39" height="5.04" fill="#f6f3f5"/>
<rect x="86.66" y="291.36" width="3.39" height="5.04" fill="#f4c8cd"/>
<rect x="90.04" y="291.36" width="3.39" height="5.04" fill="#d7ddf0"/>
<rect x="93.43" y="291.36" width="3.39" height="5.04" fill="#f6f3f5"/>
<rect x="96.82" y="291.36" width="3.39" height="5.04" fill="#f4c8cd"/>
<rect x="100.21" y="291.36" width="3.39" height="5.04" fill="#f6f3f5"/>
<rect x="103.59" y="291.36" width="3.39" height="5.04" fill="#f4c8cd"/>
<rect x="106.98" y="291.36" width="3.39" height="5.04" fill="#d7ddf0"/>
<rect x="110.37" y="291.36" width="3.39" height="5.04" fill="#f6f3f5"/>
<rect x="113.76" y="291.36" width="3.39" height="5.04" fill="#d7ddf0"/>
<rect x="117.14" y="291.36" width="3.39" height="5.04" fill="#f6f3f5"/>
<rect x="120.53" y="291.36" width="3.39" height="5.04" fill="#d7ddf0"/>
<rect x="123.92" y="291.36" width="3.39" height="5.04" fill="#f6f3f5"/>
<rect x="127.30" y="291.36" width="6.77" height="5.04" fill="#d7ddf0"/>
<rect x="134.08" y="291.36" width="3.39" height="5.04" fill="#f6f3f5"/>
<rect x="137.47" y="291.36" width="3.39" height="5.04" fill="#f4c8cd"/>
<rect x="140.85" y="291.36" width="3.39" height="5.04" fill="#f6f3f5"/>
<rect x="144.24" y="291.36" width="3.39" height="5.04" fill="#f4c8cd"/>
<rect x="147.63" y="291.36" width="3.39" height="5.04" fill="#f6f3f5"/>
<rect x="151.01" y="291.36" width="3.39" height="5.04" fill="#f4c8cd"/>
<rect x="154.40" y="291.36" width="3.39" height="5.04" fill="#f6f3f5"/>
<rect x="157.79" y="291.36" width="3.39" height="5.04" fill="#eda0a9"/>
<rect x="161.18" y="291.36" width="3.39" height="5.04" fill="#f6f3f5"/>
<rect x="164.56" y="291.36" width="3.39" height="5.04" fill="#f4c8cd"/>
<rect x="167.95" y="291.36" width="3.39" height="5.04" fill="#f6f3f5"/>
<rect x="171.34" y="291.36" width="3.39" height="5.04" fill="#eda0a9"/>
<rect x="174.73" y="291.36" width="3.39" height="5.04" fill="#f4c8cd"/>
<rect x="178.11" y="291.36" width="3.39" height="5.04" fill="#d7ddf0"/>
<text x="20.80" y="300.50" font-size="4.8" text-anchor="end" fill="#3a3a3a" stroke="#3a3a3a" stroke-width="0.15" textLength="15.42" lengthAdjust="spacingAndGlyphs">ACTL6B</text>
<rect x="22.30" y="296.40" width="3.39" height="5.04" fill="#d7ddf0"/>
<rect x="25.69" y="296.40" width="3.39" height="5.04" fill="#f6f3f5"/>
<rect x="29.07" y="296.40" width="3.39" height="5.04" fill="#d7ddf0"/>
<rect x="32.46" y="296.40" width="3.39" height="5.04" fill="#b0c2e6"/>
<rect x="35.85" y="296.40" width="3.39" height="5.04" fill="#f6f3f5"/>
<rect x="39.24" y="296.40" width="6.77" height="5.04" fill="#d7ddf0"/>
<rect x="46.01" y="296.40" width="3.39" height="5.04" fill="#eda0a9"/>
<rect x="49.40" y="296.40" width="3.39" height="5.04" fill="#f6f3f5"/>
<rect x="52.79" y="296.40" width="3.39" height="5.04" fill="#d7ddf0"/>
<rect x="56.17" y="296.40" width="3.39" height="5.04" fill="#f6f3f5"/>
<rect x="59.56" y="296.40" width="6.77" height="5.04" fill="#d7ddf0"/>
<rect x="66.33" y="296.40" width="3.39" height="5.04" fill="#c81a2c"/>
<rect x="69.72" y="296.40" width="3.39" height="5.04" fill="#d7ddf0"/>
<rect x="73.11" y="296.40" width="3.39" height="5.04" fill="#b0c2e6"/>
<rect x="76.50" y="296.40" width="6.77" height="5.04" fill="#eda0a9"/>
<rect x="83.27" y="296.40" width="3.39" height="5.04" fill="#f4c8cd"/>
<rect x="86.66" y="296.40" width="3.39" height="5.04" fill="#eda0a9"/>
<rect x="90.04" y="296.40" width="3.39" height="5.04" fill="#d7ddf0"/>
<rect x="93.43" y="296.40" width="3.39" height="5.04" fill="#f6f3f5"/>
<rect x="96.82" y="296.40" width="3.39" height="5.04" fill="#d7ddf0"/>
<rect x="100.21" y="296.40" width="3.39" height="5.04" fill="#f6f3f5"/>
<rect x="103.59" y="296.40" width="6.77" height="5.04" fill="#c81a2c"/>
<rect x="110.37" y="296.40" width="6.77" height="5.04" fill="#d7ddf0"/>
<rect x="117.14" y="296.40" width="3.39" height="5.04" fill="#f6f3f5"/>
<rect x="120.53" y="296.40" width="3.39" height="5.04" fill="#d7ddf0"/>
<rect x="123.92" y="296.40" width="3.39" height="5.04" fill="#f6f3f5"/>
<rect x="127.30" y="296.40" width="3.39" height="5.04" fill="#d7ddf0"/>
<rect x="130.69" y="296.40" width="3.39" height="5.04" fill="#3858a4"/>
<rect x="134.08" y="296.40" width="3.39" height="5.04" fill="#f6f3f5"/>
<rect x="137.47" y="296.40" width="3.39" height="5.04" fill="#f4c8cd"/>
<rect x="140.85" y="296.40" width="3.39" height="5.04" fill="#d7ddf0"/>
<rect x="144.24" y="296.40" width="3.39" height="5.04" fill="#f4c8cd"/>
<rect x="147.63" y="296.40" width="3.39" height="5.04" fill="#d7ddf0"/>
<rect x="151.01" y="296.40" width="3.39" height="5.04" fill="#f4c8cd"/>
<rect x="154.40" y="296.40" width="3.39" height="5.04" fill="#d7ddf0"/>
<rect x="157.79" y="296.40" width="3.39" height="5.04" fill="#b0c2e6"/>
<rect x="161.18" y="296.40" width="3.39" height="5.04" fill="#d7ddf0"/>
<rect x="164.56" y="296.40" width="3.39" height="5.04" fill="#f4c8cd"/>
<rect x="167.95" y="296.40" width="3.39" height="5.04" fill="#f6f3f5"/>
<rect x="171.34" y="296.40" width="3.39" height="5.04" fill="#f4c8cd"/>
<rect x="174.73" y="296.40" width="3.39" height="5.04" fill="#f6f3f5"/>
<rect x="178.11" y="296.40" width="3.39" height="5.04" fill="#f4c8cd"/>
<text x="20.80" y="305.54" font-size="4.8" text-anchor="end" fill="#3a3a3a" stroke="#3a3a3a" stroke-width="0.15" textLength="14.74" lengthAdjust="spacingAndGlyphs">ARID1A</text>
<rect x="22.30" y="301.44" width="3.39" height="5.04" fill="#d7ddf0"/>
<rect x="25.69" y="301.44" width="3.39" height="5.04" fill="#f6f3f5"/>
<rect x="29.07" y="301.44" width="3.39" height="5.04" fill="#d7ddf0"/>
<rect x="32.46" y="301.44" width="3.39" height="5.04" fill="#b0c2e6"/>
<rect x="35.85" y="301.44" width="3.39" height="5.04" fill="#d7ddf0"/>
<rect x="39.24" y="301.44" width="3.39" height="5.04" fill="#f6f3f5"/>
<rect x="42.62" y="301.44" width="3.39" height="5.04" fill="#d7ddf0"/>
<rect x="46.01" y="301.44" width="3.39" height="5.04" fill="#f6f3f5"/>
<rect x="49.40" y="301.44" width="3.39" height="5.04" fill="#d7ddf0"/>
<rect x="52.79" y="301.44" width="3.39" height="5.04" fill="#b0c2e6"/>
<rect x="56.17" y="301.44" width="3.39" height="5.04" fill="#d7ddf0"/>
<rect x="59.56" y="301.44" width="3.39" height="5.04" fill="#f6f3f5"/>
<rect x="62.95" y="301.44" width="3.39" height="5.04" fill="#d7ddf0"/>
<rect x="66.33" y="301.44" width="3.39" height="5.04" fill="#f6f3f5"/>
<rect x="69.72" y="301.44" width="3.39" height="5.04" fill="#d7ddf0"/>
<rect x="73.11" y="301.44" width="3.39" height="5.04" fill="#f6f3f5"/>
<rect x="76.50" y="301.44" width="3.39" height="5.04" fill="#d7ddf0"/>
<rect x="79.88" y="301.44" width="3.39" height="5.04" fill="#5c80cc"/>
<rect x="83.27" y="301.44" width="3.39" height="5.04" fill="#d7ddf0"/>
<rect x="86.66" y="301.44" width="3.39" height="5.04" fill="#f6f3f5"/>
<rect x="90.04" y="301.44" width="3.39" height="5.04" fill="#d7ddf0"/>
<rect x="93.43" y="301.44" width="3.39" height="5.04" fill="#f6f3f5"/>
<rect x="96.82" y="301.44" width="3.39" height="5.04" fill="#d7ddf0"/>
<rect x="100.21" y="301.44" width="3.39" height="5.04" fill="#f6f3f5"/>
<rect x="103.59" y="301.44" width="3.39" height="5.04" fill="#d7ddf0"/>
<rect x="106.98" y="301.44" width="3.39" height="5.04" fill="#f6f3f5"/>
<rect x="110.37" y="301.44" width="3.39" height="5.04" fill="#d7ddf0"/>
<rect x="113.76" y="301.44" width="3.39" height="5.04" fill="#f6f3f5"/>
<rect x="117.14" y="301.44" width="3.39" height="5.04" fill="#f4c8cd"/>
<rect x="120.53" y="301.44" width="3.39" height="5.04" fill="#f6f3f5"/>
<rect x="123.92" y="301.44" width="3.39" height="5.04" fill="#d7ddf0"/>
<rect x="127.30" y="301.44" width="3.39" height="5.04" fill="#f6f3f5"/>
<rect x="130.69" y="301.44" width="3.39" height="5.04" fill="#f4c8cd"/>
<rect x="134.08" y="301.44" width="3.39" height="5.04" fill="#d7ddf0"/>
<rect x="137.47" y="301.44" width="3.39" height="5.04" fill="#f6f3f5"/>
<rect x="140.85" y="301.44" width="3.39" height="5.04" fill="#f4c8cd"/>
<rect x="144.24" y="301.44" width="3.39" height="5.04" fill="#d7ddf0"/>
<rect x="147.63" y="301.44" width="3.39" height="5.04" fill="#f4c8cd"/>
<rect x="151.01" y="301.44" width="3.39" height="5.04" fill="#e36c77"/>
<rect x="154.40" y="301.44" width="3.39" height="5.04" fill="#f4c8cd"/>
<rect x="157.79" y="301.44" width="3.39" height="5.04" fill="#f6f3f5"/>
<rect x="161.18" y="301.44" width="3.39" height="5.04" fill="#f4c8cd"/>
<rect x="164.56" y="301.44" width="3.39" height="5.04" fill="#d7ddf0"/>
<rect x="167.95" y="301.44" width="3.39" height="5.04" fill="#f4c8cd"/>
<rect x="171.34" y="301.44" width="3.39" height="5.04" fill="#f6f3f5"/>
<rect x="174.73" y="301.44" width="3.39" height="5.04" fill="#f4c8cd"/>
<rect x="178.11" y="301.44" width="3.39" height="5.04" fill="#d7ddf0"/>
<text x="20.80" y="310.58" font-size="4.8" text-anchor="end" fill="#3a3a3a" stroke="#3a3a3a" stroke-width="0.15" textLength="14.74" lengthAdjust="spacingAndGlyphs">ARID1B</text>
<rect x="22.30" y="306.48" width="3.39" height="5.04" fill="#b0c2e6"/>
<rect x="25.69" y="306.48" width="3.39" height="5.04" fill="#f6f3f5"/>
<rect x="29.07" y="306.48" width="3.39" height="5.04" fill="#d7ddf0"/>
<rect x="32.46" y="306.48" width="3.39" height="5.04" fill="#f6f3f5"/>
<rect x="35.85" y="306.48" width="3.39" height="5.04" fill="#d7ddf0"/>
<rect x="39.24" y="306.48" width="3.39" height="5.04" fill="#f6f3f5"/>
<rect x="42.62" y="306.48" width="3.39" height="5.04" fill="#d7ddf0"/>
<rect x="46.01" y="306.48" width="3.39" height="5.04" fill="#f6f3f5"/>
<rect x="49.40" y="306.48" width="3.39" height="5.04" fill="#d7ddf0"/>
<rect x="52.79" y="306.48" width="3.39" height="5.04" fill="#f6f3f5"/>
<rect x="56.17" y="306.48" width="3.39" height="5.04" fill="#d7ddf0"/>
<rect x="59.56" y="306.48" width="3.39" height="5.04" fill="#f6f3f5"/>
<rect x="62.95" y="306.48" width="3.39" height="5.04" fill="#d7ddf0"/>
<rect x="66.33" y="306.48" width="3.39" height="5.04" fill="#f6f3f5"/>
<rect x="69.72" y="306.48" width="3.39" height="5.04" fill="#d7ddf0"/>
<rect x="73.11" y="306.48" width="6.77" height="5.04" fill="#f6f3f5"/>
<rect x="79.88" y="306.48" width="3.39" height="5.04" fill="#d7ddf0"/>
<rect x="83.27" y="306.48" width="3.39" height="5.04" fill="#f6f3f5"/>
<rect x="86.66" y="306.48" width="3.39" height="5.04" fill="#d7ddf0"/>
<rect x="90.04" y="306.48" width="3.39" height="5.04" fill="#f6f3f5"/>
<rect x="93.43" y="306.48" width="3.39" height="5.04" fill="#d7ddf0"/>
<rect x="96.82" y="306.48" width="3.39" height="5.04" fill="#f6f3f5"/>
<rect x="100.21" y="306.48" width="3.39" height="5.04" fill="#d7ddf0"/>
<rect x="103.59" y="306.48" width="3.39" height="5.04" fill="#f6f3f5"/>
<rect x="106.98" y="306.48" width="3.39" height="5.04" fill="#d7ddf0"/>
<rect x="110.37" y="306.48" width="3.39" height="5.04" fill="#f6f3f5"/>
<rect x="113.76" y="306.48" width="3.39" height="5.04" fill="#d7ddf0"/>
<rect x="117.14" y="306.48" width="3.39" height="5.04" fill="#f6f3f5"/>
<rect x="120.53" y="306.48" width="3.39" height="5.04" fill="#d7ddf0"/>
<rect x="123.92" y="306.48" width="3.39" height="5.04" fill="#f6f3f5"/>
<rect x="127.30" y="306.48" width="6.77" height="5.04" fill="#d7ddf0"/>
<rect x="134.08" y="306.48" width="3.39" height="5.04" fill="#f6f3f5"/>
<rect x="137.47" y="306.48" width="3.39" height="5.04" fill="#d7ddf0"/>
<rect x="140.85" y="306.48" width="3.39" height="5.04" fill="#f6f3f5"/>
<rect x="144.24" y="306.48" width="3.39" height="5.04" fill="#d7ddf0"/>
<rect x="147.63" y="306.48" width="3.39" height="5.04" fill="#f6f3f5"/>
<rect x="151.01" y="306.48" width="3.39" height="5.04" fill="#d7ddf0"/>
<rect x="154.40" y="306.48" width="3.39" height="5.04" fill="#f6f3f5"/>
<rect x="157.79" y="306.48" width="3.39" height="5.04" fill="#d7ddf0"/>
<rect x="161.18" y="306.48" width="3.39" height="5.04" fill="#f6f3f5"/>
<rect x="164.56" y="306.48" width="3.39" height="5.04" fill="#d7ddf0"/>
<rect x="167.95" y="306.48" width="3.39" height="5.04" fill="#f6f3f5"/>
<rect x="171.34" y="306.48" width="3.39" height="5.04" fill="#d7ddf0"/>
<rect x="174.73" y="306.48" width="3.39" height="5.04" fill="#f6f3f5"/>
<rect x="178.11" y="306.48" width="3.39" height="5.04" fill="#d7ddf0"/>
<path d="M22.30 246.00v65.52M25.69 246.00v65.52M29.07 246.00v65.52M32.46 246.00v65.52M35.85 246.00v65.52M39.24 246.00v65.52M42.62 246.00v65.52M46.01 246.00v65.52M49.40 246.00v65.52M52.79 246.00v65.52M56.17 246.00v65.52M59.56 246.00v65.52M62.95 246.00v65.52M66.33 246.00v65.52M69.72 246.00v65.52M73.11 246.00v65.52M76.50 246.00v65.52M79.88 246.00v65.52M83.27 246.00v65.52M86.66 246.00v65.52M90.04 246.00v65.52M93.43 246.00v65.52M96.82 246.00v65.52M100.21 246.00v65.52M103.59 246.00v65.52M106.98 246.00v65.52M110.37 246.00v65.52M113.76 246.00v65.52M117.14 246.00v65.52M120.53 246.00v65.52M123.92 246.00v65.52M127.30 246.00v65.52M130.69 246.00v65.52M134.08 246.00v65.52M137.47 246.00v65.52M140.85 246.00v65.52M144.24 246.00v65.52M147.63 246.00v65.52M151.01 246.00v65.52M154.40 246.00v65.52M157.79 246.00v65.52M161.18 246.00v65.52M164.56 246.00v65.52M167.95 246.00v65.52M171.34 246.00v65.52M174.73 246.00v65.52M178.11 246.00v65.52M181.50 246.00v65.52M22.30 246.00h159.20M22.30 251.04h159.20M22.30 256.08h159.20M22.30 261.12h159.20M22.30 266.16h159.20M22.30 271.20h159.20M22.30 276.24h159.20M22.30 281.28h159.20M22.30 286.32h159.20M22.30 291.36h159.20M22.30 296.40h159.20M22.30 301.44h159.20M22.30 306.48h159.20M22.30 311.52h159.20" stroke="#babecc" stroke-width="0.5" fill="none"/>
<rect x="184.30" y="246.00" width="36.10" height="65.52" fill="#fff" stroke="#444" stroke-width="0.5"/>
<line x1="202.60" y1="246.00" x2="202.60" y2="311.52" stroke="#444" stroke-width="0.5" />
<text x="185.40" y="249.70" font-size="3.2" text-anchor="start" fill="#333" stroke="#333" stroke-width="0.1" >4.60E-05</text>
<text x="203.70" y="249.70" font-size="3.2" text-anchor="start" fill="#333" stroke="#333" stroke-width="0.1" >2.87E-04</text>
<rect x="232.40" y="247.60" width="5.36" height="1.90" fill="#d01828" />
<line x1="184.30" y1="251.04" x2="220.40" y2="251.04" stroke="#444" stroke-width="0.5" />
<text x="185.40" y="254.74" font-size="3.2" text-anchor="start" fill="#333" stroke="#333" stroke-width="0.1" >NS</text>
<text x="203.70" y="254.74" font-size="3.2" text-anchor="start" fill="#333" stroke="#333" stroke-width="0.1" >NS</text>
<line x1="184.30" y1="256.08" x2="220.40" y2="256.08" stroke="#444" stroke-width="0.5" />
<text x="185.40" y="259.78" font-size="3.2" text-anchor="start" fill="#333" stroke="#333" stroke-width="0.1" >7.63E-11</text>
<text x="203.70" y="259.78" font-size="3.2" text-anchor="start" fill="#333" stroke="#333" stroke-width="0.1" >2.75E-10</text>
<rect x="232.40" y="257.68" width="11.64" height="1.90" fill="#d01828" />
<line x1="184.30" y1="261.12" x2="220.40" y2="261.12" stroke="#444" stroke-width="0.5" />
<text x="185.40" y="264.82" font-size="3.2" text-anchor="start" fill="#333" stroke="#333" stroke-width="0.1" >NS</text>
<text x="203.70" y="264.82" font-size="3.2" text-anchor="start" fill="#333" stroke="#333" stroke-width="0.1" >NS</text>
<line x1="184.30" y1="266.16" x2="220.40" y2="266.16" stroke="#444" stroke-width="0.5" />
<text x="185.40" y="269.86" font-size="3.2" text-anchor="start" fill="#333" stroke="#333" stroke-width="0.1" >NS</text>
<text x="203.70" y="269.86" font-size="3.2" text-anchor="start" fill="#333" stroke="#333" stroke-width="0.1" >NS</text>
<line x1="184.30" y1="271.20" x2="220.40" y2="271.20" stroke="#444" stroke-width="0.5" />
<text x="185.40" y="274.90" font-size="3.2" text-anchor="start" fill="#333" stroke="#333" stroke-width="0.1" >NS</text>
<text x="203.70" y="274.90" font-size="3.2" text-anchor="start" fill="#333" stroke="#333" stroke-width="0.1" >NS</text>
<line x1="184.30" y1="276.24" x2="220.40" y2="276.24" stroke="#444" stroke-width="0.5" />
<text x="185.40" y="279.94" font-size="3.2" text-anchor="start" fill="#333" stroke="#333" stroke-width="0.1" >8.18E-10</text>
<text x="203.70" y="279.94" font-size="3.2" text-anchor="start" fill="#333" stroke="#333" stroke-width="0.1" >1.02E-08</text>
<rect x="232.40" y="277.84" width="18.03" height="1.90" fill="#d01828" />
<line x1="184.30" y1="281.28" x2="220.40" y2="281.28" stroke="#444" stroke-width="0.5" />
<text x="185.40" y="284.98" font-size="3.2" text-anchor="start" fill="#333" stroke="#333" stroke-width="0.1" >6.11E-04</text>
<text x="203.70" y="284.98" font-size="3.2" text-anchor="start" fill="#333" stroke="#333" stroke-width="0.1" >2.69E-03</text>
<rect x="228.90" y="282.88" width="3.50" height="1.90" fill="#3a58a8" />
<line x1="184.30" y1="286.32" x2="220.40" y2="286.32" stroke="#444" stroke-width="0.5" />
<text x="185.40" y="290.02" font-size="3.2" text-anchor="start" fill="#333" stroke="#333" stroke-width="0.1" >1.21E-03</text>
<text x="203.70" y="290.02" font-size="3.2" text-anchor="start" fill="#333" stroke="#333" stroke-width="0.1" >5.04E-03</text>
<rect x="226.12" y="287.92" width="6.28" height="1.90" fill="#3a58a8" />
<line x1="184.30" y1="291.36" x2="220.40" y2="291.36" stroke="#444" stroke-width="0.5" />
<text x="185.40" y="295.06" font-size="3.2" text-anchor="start" fill="#333" stroke="#333" stroke-width="0.1" >NS</text>
<text x="203.70" y="295.06" font-size="3.2" text-anchor="start" fill="#333" stroke="#333" stroke-width="0.1" >NS</text>
<line x1="184.30" y1="296.40" x2="220.40" y2="296.40" stroke="#444" stroke-width="0.5" />
<text x="185.40" y="300.10" font-size="3.2" text-anchor="start" fill="#333" stroke="#333" stroke-width="0.1" >NS</text>
<text x="203.70" y="300.10" font-size="3.2" text-anchor="start" fill="#333" stroke="#333" stroke-width="0.1" >NS</text>
<line x1="184.30" y1="301.44" x2="220.40" y2="301.44" stroke="#444" stroke-width="0.5" />
<text x="185.40" y="305.14" font-size="3.2" text-anchor="start" fill="#333" stroke="#333" stroke-width="0.1" >1.79E-04</text>
<text x="203.70" y="305.14" font-size="3.2" text-anchor="start" fill="#333" stroke="#333" stroke-width="0.1" >8.41E-04</text>
<rect x="227.66" y="303.04" width="4.74" height="1.90" fill="#3a58a8" />
<line x1="184.30" y1="306.48" x2="220.40" y2="306.48" stroke="#444" stroke-width="0.5" />
<text x="185.40" y="310.18" font-size="3.2" text-anchor="start" fill="#333" stroke="#333" stroke-width="0.1" >NS</text>
<text x="203.70" y="310.18" font-size="3.2" text-anchor="start" fill="#333" stroke="#333" stroke-width="0.1" >NS</text>
<line x1="232.40" y1="17.30" x2="232.40" y2="312.60" stroke="#3c4660" stroke-width="0.75" />
<line x1="221.20" y1="312.50" x2="253.90" y2="312.50" stroke="#555" stroke-width="0.6" />
<line x1="222.10" y1="312.60" x2="222.10" y2="314.00" stroke="#555" stroke-width="0.6" />
<line x1="232.40" y1="312.60" x2="232.40" y2="314.00" stroke="#555" stroke-width="0.6" />
<line x1="242.70" y1="312.60" x2="242.70" y2="314.00" stroke="#555" stroke-width="0.6" />
<line x1="253.00" y1="312.60" x2="253.00" y2="314.00" stroke="#555" stroke-width="0.6" />
<text x="222.10" y="322.20" font-size="5.8" text-anchor="middle" fill="#222" stroke="#222" stroke-width="0.15" >-1</text>
<text x="232.40" y="322.20" font-size="5.8" text-anchor="middle" fill="#222" stroke="#222" stroke-width="0.15" >0</text>
<text x="242.70" y="322.20" font-size="5.8" text-anchor="middle" fill="#222" stroke="#222" stroke-width="0.15" >1</text>
<text x="253.00" y="322.20" font-size="5.8" text-anchor="middle" fill="#222" stroke="#222" stroke-width="0.15" >2</text>
<text x="238.90" y="330.80" font-size="6.35" text-anchor="middle" fill="#222" stroke="#222" stroke-width="0.15" >Expression change</text>
<text x="238.90" y="337.70" font-size="6.35" text-anchor="middle" fill="#222" stroke="#222" stroke-width="0.15" >(log2)</text>
<text x="238.90" y="345.00" font-size="6.35" text-anchor="middle" fill="#222" stroke="#222" stroke-width="0.15" >ATL vs Normal</text>
<text x="18.50" y="326.20" font-size="6.38" text-anchor="start" fill="#222" stroke="#222" stroke-width="0.15" >Expression level (log2)</text>
<defs><linearGradient id="cb" x1="0" x2="1" y1="0" y2="0"><stop offset="0" stop-color="#3458b0"/><stop offset="0.5" stop-color="#f6f6f6"/><stop offset="1" stop-color="#d8141e"/></linearGradient></defs>
<rect x="30.80" y="328.80" width="34.90" height="4.20" fill="url(#cb)" />
<line x1="30.80" y1="334.30" x2="65.70" y2="334.30" stroke="#666" stroke-width="0.5" />
<line x1="30.90" y1="334.00" x2="30.90" y2="336.80" stroke="#666" stroke-width="0.5" />
<line x1="65.60" y1="334.00" x2="65.60" y2="336.80" stroke="#666" stroke-width="0.5" />
<text x="31.20" y="345.00" font-size="6.0" text-anchor="middle" fill="#222" stroke="#222" stroke-width="0.15" >-1.8</text>
<text x="48.60" y="345.00" font-size="6.0" text-anchor="middle" fill="#222" stroke="#222" stroke-width="0.15" >0</text>
<text x="65.00" y="345.00" font-size="6.0" text-anchor="middle" fill="#222" stroke="#222" stroke-width="0.15" >1.8</text>
<text x="0.70" y="363.00" font-size="7.9" text-anchor="start" fill="#111" stroke="#111" stroke-width="0.15" font-weight="bold" >B</text>
<line x1="10.00" y1="357.30" x2="246.60" y2="357.30" stroke="#444" stroke-width="0.6" />
<line x1="10.00" y1="372.20" x2="246.60" y2="372.20" stroke="#444" stroke-width="0.5" />
<line x1="10.00" y1="374.60" x2="246.60" y2="374.60" stroke="#444" stroke-width="0.5" />
<line x1="10.00" y1="413.00" x2="246.60" y2="413.00" stroke="#444" stroke-width="0.6" />
<line x1="10.00" y1="452.50" x2="246.60" y2="452.50" stroke="#444" stroke-width="0.6" />
<line x1="10.00" y1="468.80" x2="246.60" y2="468.80" stroke="#444" stroke-width="0.6" />
<text x="37.60" y="367.60" font-size="6.4" text-anchor="middle" fill="#222" stroke="#222" stroke-width="0.15" >ATL subtype</text>
<text x="87.60" y="364.00" font-size="6.4" text-anchor="middle" fill="#222" stroke="#222" stroke-width="0.15" >Tyr641</text>
<text x="87.60" y="370.80" font-size="6.4" text-anchor="middle" fill="#222" stroke="#222" stroke-width="0.15" >mutation</text>
<text x="133.60" y="364.00" font-size="6.4" text-anchor="middle" fill="#222" stroke="#222" stroke-width="0.15" >Ala677</text>
<text x="133.60" y="370.80" font-size="6.4" text-anchor="middle" fill="#222" stroke="#222" stroke-width="0.15" >mutation</text>
<text x="178.80" y="364.00" font-size="6.4" text-anchor="middle" fill="#222" stroke="#222" stroke-width="0.15" >Ala687</text>
<text x="178.80" y="370.80" font-size="6.4" text-anchor="middle" fill="#222" stroke="#222" stroke-width="0.15" >mutation</text>
<text x="223.40" y="367.60" font-size="6.4" text-anchor="middle" fill="#222" stroke="#222" stroke-width="0.15" >Cell type</text>
<text x="37.60" y="381.00" font-size="6.4" text-anchor="middle" fill="#222" stroke="#222" stroke-width="0.15" >Acute</text>
<text x="87.60" y="381.00" font-size="6.4" text-anchor="middle" fill="#222" stroke="#222" stroke-width="0.15" >0/28</text>
<text x="133.60" y="381.00" font-size="6.4" text-anchor="middle" fill="#222" stroke="#222" stroke-width="0.15" >0/37</text>
<text x="178.80" y="381.00" font-size="6.4" text-anchor="middle" fill="#222" stroke="#222" stroke-width="0.15" >0/37</text>
<text x="37.60" y="388.50" font-size="6.4" text-anchor="middle" fill="#222" stroke="#222" stroke-width="0.15" >Chronic</text>
<text x="87.60" y="388.50" font-size="6.4" text-anchor="middle" fill="#222" stroke="#222" stroke-width="0.15" >0/16</text>
<text x="133.60" y="388.50" font-size="6.4" text-anchor="middle" fill="#222" stroke="#222" stroke-width="0.15" >0/11</text>
<text x="178.80" y="388.50" font-size="6.4" text-anchor="middle" fill="#222" stroke="#222" stroke-width="0.15" >0/11</text>
<text x="37.60" y="396.00" font-size="6.4" text-anchor="middle" fill="#222" stroke="#222" stroke-width="0.15" >Smoldering</text>
<text x="87.60" y="396.00" font-size="6.4" text-anchor="middle" fill="#222" stroke="#222" stroke-width="0.15" >0/4</text>
<text x="133.60" y="396.00" font-size="6.4" text-anchor="middle" fill="#222" stroke="#222" stroke-width="0.15" >0/1</text>
<text x="178.80" y="396.00" font-size="6.4" text-anchor="middle" fill="#222" stroke="#222" stroke-width="0.15" >0/1</text>
<text x="37.60" y="403.50" font-size="6.4" text-anchor="middle" fill="#222" stroke="#222" stroke-width="0.15" >Unknown</text>
<text x="87.60" y="403.50" font-size="6.4" text-anchor="middle" fill="#222" stroke="#222" stroke-width="0.15" >0/2</text>
<text x="133.60" y="403.50" font-size="6.4" text-anchor="middle" fill="#222" stroke="#222" stroke-width="0.15" >0/1</text>
<text x="178.80" y="403.50" font-size="6.4" text-anchor="middle" fill="#222" stroke="#222" stroke-width="0.15" >0/1</text>
<text x="37.60" y="411.00" font-size="6.4" text-anchor="middle" fill="#222" stroke="#222" stroke-width="0.15" >Total</text>
<text x="87.60" y="411.00" font-size="6.4" text-anchor="middle" fill="#222" stroke="#222" stroke-width="0.15" >0/50</text>
<text x="133.60" y="411.00" font-size="6.4" text-anchor="middle" fill="#222" stroke="#222" stroke-width="0.15" >0/50</text>
<text x="178.80" y="411.00" font-size="6.4" text-anchor="middle" fill="#222" stroke="#222" stroke-width="0.15" >0/50</text>
<text x="223.40" y="392.40" font-size="6.4" text-anchor="middle" fill="#222" stroke="#222" stroke-width="0.15" >Primary</text>
<text x="37.60" y="419.80" font-size="6.4" text-anchor="middle" fill="#222" stroke="#222" stroke-width="0.15" >TL-Om1 (ATL)</text>
<text x="87.60" y="419.80" font-size="6.4" text-anchor="middle" fill="#222" stroke="#222" stroke-width="0.15" >WT</text>
<text x="133.60" y="419.80" font-size="6.4" text-anchor="middle" fill="#222" stroke="#222" stroke-width="0.15" >WT</text>
<text x="178.80" y="419.80" font-size="6.4" text-anchor="middle" fill="#222" stroke="#222" stroke-width="0.15" >WT</text>
<text x="223.40" y="419.80" font-size="6.4" text-anchor="middle" fill="#222" stroke="#222" stroke-width="0.15" >Cell line</text>
<text x="37.60" y="427.30" font-size="6.4" text-anchor="middle" fill="#222" stroke="#222" stroke-width="0.15" >MT-1 (ATL)</text>
<text x="87.60" y="427.30" font-size="6.4" text-anchor="middle" fill="#222" stroke="#222" stroke-width="0.15" >WT</text>
<text x="133.60" y="427.30" font-size="6.4" text-anchor="middle" fill="#222" stroke="#222" stroke-width="0.15" >WT</text>
<text x="178.80" y="427.30" font-size="6.4" text-anchor="middle" fill="#222" stroke="#222" stroke-width="0.15" >WT</text>
<text x="223.40" y="427.30" font-size="6.4" text-anchor="middle" fill="#222" stroke="#222" stroke-width="0.15" >Cell line</text>
<text x="37.60" y="434.80" font-size="6.4" text-anchor="middle" fill="#222" stroke="#222" stroke-width="0.15" >KOB (ATL)</text>
<text x="87.60" y="434.80" font-size="6.4" text-anchor="middle" fill="#222" stroke="#222" stroke-width="0.15" >WT</text>
<text x="133.60" y="434.80" font-size="6.4" text-anchor="middle" fill="#222" stroke="#222" stroke-width="0.15" >WT</text>
<text x="178.80" y="434.80" font-size="6.4" text-anchor="middle" fill="#222" stroke="#222" stroke-width="0.15" >WT</text>
<text x="223.40" y="434.80" font-size="6.4" text-anchor="middle" fill="#222" stroke="#222" stroke-width="0.15" >Cell line</text>
<text x="37.60" y="442.30" font-size="6.4" text-anchor="middle" fill="#222" stroke="#222" stroke-width="0.15" >KK1 (ATL)</text>
<text x="87.60" y="442.30" font-size="6.4" text-anchor="middle" fill="#222" stroke="#222" stroke-width="0.15" >WT</text>
<text x="133.60" y="442.30" font-size="6.4" text-anchor="middle" fill="#222" stroke="#222" stroke-width="0.15" >WT</text>
<text x="178.80" y="442.30" font-size="6.4" text-anchor="middle" fill="#222" stroke="#222" stroke-width="0.15" >WT</text>
<text x="223.40" y="442.30" font-size="6.4" text-anchor="middle" fill="#222" stroke="#222" stroke-width="0.15" >Cell line</text>
<text x="37.60" y="449.80" font-size="6.4" text-anchor="middle" fill="#222" stroke="#222" stroke-width="0.15" >ST1 (ATL)</text>
<text x="87.60" y="449.80" font-size="6.4" text-anchor="middle" fill="#222" stroke="#222" stroke-width="0.15" >WT</text>
<text x="133.60" y="449.80" font-size="6.4" text-anchor="middle" fill="#222" stroke="#222" stroke-width="0.15" >WT</text>
<text x="178.80" y="449.80" font-size="6.4" text-anchor="middle" fill="#222" stroke="#222" stroke-width="0.15" >WT</text>
<text x="223.40" y="449.80" font-size="6.4" text-anchor="middle" fill="#222" stroke="#222" stroke-width="0.15" >Cell line</text>
<text x="37.60" y="459.00" font-size="6.4" text-anchor="middle" fill="#222" stroke="#222" stroke-width="0.15" >Pfeiffer (DLBCL)</text>
<text x="87.60" y="459.00" font-size="6.4" text-anchor="middle" fill="#222" stroke="#222" stroke-width="0.15" >ND</text>
<text x="133.60" y="459.00" font-size="6.4" text-anchor="middle" fill="#222" stroke="#222" stroke-width="0.15" >A677G</text>
<text x="178.80" y="459.00" font-size="6.4" text-anchor="middle" fill="#222" stroke="#222" stroke-width="0.15" >WT</text>
<text x="223.40" y="459.00" font-size="6.4" text-anchor="middle" fill="#222" stroke="#222" stroke-width="0.15" >Cell line</text>
<text x="37.60" y="466.70" font-size="6.4" text-anchor="middle" fill="#222" stroke="#222" stroke-width="0.15" >SUDHL4 (DLBCL)</text>
<text x="87.60" y="466.70" font-size="6.4" text-anchor="middle" fill="#222" stroke="#222" stroke-width="0.15" >Y641S</text>
<text x="133.60" y="466.70" font-size="6.4" text-anchor="middle" fill="#222" stroke="#222" stroke-width="0.15" >ND</text>
<text x="178.80" y="466.70" font-size="6.4" text-anchor="middle" fill="#222" stroke="#222" stroke-width="0.15" >ND</text>
<text x="223.40" y="466.70" font-size="6.4" text-anchor="middle" fill="#222" stroke="#222" stroke-width="0.15" >Cell line</text>
<text x="280.40" y="7.30" font-size="8.1" text-anchor="start" fill="#111" stroke="#111" stroke-width="0.15" font-weight="bold" >C</text>
<line x1="303.60" y1="6.00" x2="303.60" y2="88.20" stroke="#333" stroke-width="0.6" />
<line x1="303.60" y1="88.20" x2="389.20" y2="88.20" stroke="#333" stroke-width="0.6" />
<line x1="302.10" y1="88.20" x2="303.60" y2="88.20" stroke="#333" stroke-width="0.6" />
<text x="300.30" y="90.20" font-size="5.7" text-anchor="end" fill="#222" stroke="#222" stroke-width="0.15" >0</text>
<line x1="302.10" y1="74.50" x2="303.60" y2="74.50" stroke="#333" stroke-width="0.6" />
<text x="300.30" y="76.50" font-size="5.7" text-anchor="end" fill="#222" stroke="#222" stroke-width="0.15" >20</text>
<line x1="302.10" y1="60.80" x2="303.60" y2="60.80" stroke="#333" stroke-width="0.6" />
<text x="300.30" y="62.80" font-size="5.7" text-anchor="end" fill="#222" stroke="#222" stroke-width="0.15" >40</text>
<line x1="302.10" y1="47.10" x2="303.60" y2="47.10" stroke="#333" stroke-width="0.6" />
<text x="300.30" y="49.10" font-size="5.7" text-anchor="end" fill="#222" stroke="#222" stroke-width="0.15" >60</text>
<line x1="302.10" y1="33.40" x2="303.60" y2="33.40" stroke="#333" stroke-width="0.6" />
<text x="300.30" y="35.40" font-size="5.7" text-anchor="end" fill="#222" stroke="#222" stroke-width="0.15" >80</text>
<line x1="302.10" y1="19.70" x2="303.60" y2="19.70" stroke="#333" stroke-width="0.6" />
<text x="300.30" y="21.70" font-size="5.7" text-anchor="end" fill="#222" stroke="#222" stroke-width="0.15" >100</text>
<line x1="302.10" y1="6.00" x2="303.60" y2="6.00" stroke="#333" stroke-width="0.6" />
<text x="300.30" y="8.00" font-size="5.7" text-anchor="end" fill="#222" stroke="#222" stroke-width="0.15" >120</text>
<line x1="303.60" y1="88.20" x2="303.60" y2="89.70" stroke="#333" stroke-width="0.6" />
<text x="303.60" y="96.90" font-size="5.7" text-anchor="middle" fill="#222" stroke="#222" stroke-width="0.15" >8</text>
<line x1="324.75" y1="88.20" x2="324.75" y2="89.70" stroke="#333" stroke-width="0.6" />
<text x="324.75" y="96.90" font-size="5.7" text-anchor="middle" fill="#222" stroke="#222" stroke-width="0.15" >12</text>
<line x1="345.90" y1="88.20" x2="345.90" y2="89.70" stroke="#333" stroke-width="0.6" />
<text x="345.90" y="96.90" font-size="5.7" text-anchor="middle" fill="#222" stroke="#222" stroke-width="0.15" >16</text>
<line x1="367.05" y1="88.20" x2="367.05" y2="89.70" stroke="#333" stroke-width="0.6" />
<text x="367.05" y="96.90" font-size="5.7" text-anchor="middle" fill="#222" stroke="#222" stroke-width="0.15" >20</text>
<line x1="388.20" y1="88.20" x2="388.20" y2="89.70" stroke="#333" stroke-width="0.6" />
<text x="388.20" y="96.90" font-size="5.7" text-anchor="middle" fill="#222" stroke="#222" stroke-width="0.15" >24</text>
<line x1="314.18" y1="88.20" x2="314.18" y2="89.20" stroke="#333" stroke-width="0.5" />
<line x1="335.32" y1="88.20" x2="335.32" y2="89.20" stroke="#333" stroke-width="0.5" />
<line x1="356.48" y1="88.20" x2="356.48" y2="89.20" stroke="#333" stroke-width="0.5" />
<line x1="377.62" y1="88.20" x2="377.62" y2="89.20" stroke="#333" stroke-width="0.5" />
<text x="373.50" y="10.40" font-size="5.6" text-anchor="middle" fill="#222" stroke="#222" stroke-width="0.15" >MT-1</text>
<polyline points="303.60,19.70 314.18,17.64 324.75,19.02 335.32,19.02 345.90,22.44 356.48,21.07 367.05,19.70 377.62,22.44 388.20,21.07" fill="none" stroke="#1e1e24" stroke-width="1.3" stroke-linejoin="round" />
<polyline points="303.60,19.70 314.18,21.75 324.75,40.94 335.32,42.99 345.90,60.12 356.48,62.86 367.05,64.91 377.62,71.08 388.20,71.76" fill="none" stroke="#d0262e" stroke-width="1.5" stroke-linejoin="round" />
<polyline points="303.60,19.70 314.18,19.70 324.75,29.98 335.32,38.88 345.90,47.10 356.48,49.16 367.05,53.95 377.62,58.75 388.20,61.48" fill="none" stroke="#e48a40" stroke-width="1.15" stroke-linejoin="round" />
<line x1="312.98" y1="17.64" x2="315.38" y2="17.64" stroke="#1e1e24" stroke-width="1.0" />
<line x1="323.55" y1="19.02" x2="325.95" y2="19.02" stroke="#1e1e24" stroke-width="1.0" />
<line x1="334.12" y1="19.02" x2="336.52" y2="19.02" stroke="#1e1e24" stroke-width="1.0" />
<line x1="344.70" y1="22.44" x2="347.10" y2="22.44" stroke="#1e1e24" stroke-width="1.0" />
<line x1="355.28" y1="21.07" x2="357.68" y2="21.07" stroke="#1e1e24" stroke-width="1.0" />
<line x1="365.85" y1="19.70" x2="368.25" y2="19.70" stroke="#1e1e24" stroke-width="1.0" />
<line x1="376.43" y1="22.44" x2="378.82" y2="22.44" stroke="#1e1e24" stroke-width="1.0" />
<line x1="387.00" y1="21.07" x2="389.40" y2="21.07" stroke="#1e1e24" stroke-width="1.0" />
<line x1="312.98" y1="21.75" x2="315.38" y2="21.75" stroke="#d0262e" stroke-width="1.0" />
<line x1="323.55" y1="40.94" x2="325.95" y2="40.94" stroke="#d0262e" stroke-width="1.0" />
<line x1="334.12" y1="42.99" x2="336.52" y2="42.99" stroke="#d0262e" stroke-width="1.0" />
<line x1="344.70" y1="60.12" x2="347.10" y2="60.12" stroke="#d0262e" stroke-width="1.0" />
<line x1="355.28" y1="62.86" x2="357.68" y2="62.86" stroke="#d0262e" stroke-width="1.0" />
<line x1="365.85" y1="64.91" x2="368.25" y2="64.91" stroke="#d0262e" stroke-width="1.0" />
<line x1="376.43" y1="71.08" x2="378.82" y2="71.08" stroke="#d0262e" stroke-width="1.0" />
<line x1="387.00" y1="71.76" x2="389.40" y2="71.76" stroke="#d0262e" stroke-width="1.0" />
<line x1="312.98" y1="19.70" x2="315.38" y2="19.70" stroke="#e48a40" stroke-width="1.0" />
<line x1="323.55" y1="29.98" x2="325.95" y2="29.98" stroke="#e48a40" stroke-width="1.0" />
<line x1="334.12" y1="38.88" x2="336.52" y2="38.88" stroke="#e48a40" stroke-width="1.0" />
<line x1="344.70" y1="47.10" x2="347.10" y2="47.10" stroke="#e48a40" stroke-width="1.0" />
<line x1="355.28" y1="49.16" x2="357.68" y2="49.16" stroke="#e48a40" stroke-width="1.0" />
<line x1="365.85" y1="53.95" x2="368.25" y2="53.95" stroke="#e48a40" stroke-width="1.0" />
<line x1="376.43" y1="58.75" x2="378.82" y2="58.75" stroke="#e48a40" stroke-width="1.0" />
<line x1="387.00" y1="61.48" x2="389.40" y2="61.48" stroke="#e48a40" stroke-width="1.0" />
<line x1="314.18" y1="19.70" x2="314.18" y2="15.59" stroke="#1e1e24" stroke-width="0.5" />
<line x1="312.98" y1="19.70" x2="315.38" y2="19.70" stroke="#1e1e24" stroke-width="0.5" />
<line x1="312.98" y1="15.59" x2="315.38" y2="15.59" stroke="#1e1e24" stroke-width="0.5" />
<line x1="324.75" y1="20.38" x2="324.75" y2="17.64" stroke="#1e1e24" stroke-width="0.5" />
<line x1="323.55" y1="20.38" x2="325.95" y2="20.38" stroke="#1e1e24" stroke-width="0.5" />
<line x1="323.55" y1="17.64" x2="325.95" y2="17.64" stroke="#1e1e24" stroke-width="0.5" />
<line x1="377.62" y1="24.49" x2="377.62" y2="20.38" stroke="#1e1e24" stroke-width="0.5" />
<line x1="376.43" y1="24.49" x2="378.82" y2="24.49" stroke="#1e1e24" stroke-width="0.5" />
<line x1="376.43" y1="20.38" x2="378.82" y2="20.38" stroke="#1e1e24" stroke-width="0.5" />
<line x1="388.20" y1="22.44" x2="388.20" y2="19.70" stroke="#1e1e24" stroke-width="0.5" />
<line x1="387.00" y1="22.44" x2="389.40" y2="22.44" stroke="#1e1e24" stroke-width="0.5" />
<line x1="387.00" y1="19.70" x2="389.40" y2="19.70" stroke="#1e1e24" stroke-width="0.5" />
<line x1="324.75" y1="31.34" x2="324.75" y2="28.60" stroke="#e48a40" stroke-width="0.5" />
<line x1="323.55" y1="31.34" x2="325.95" y2="31.34" stroke="#e48a40" stroke-width="0.5" />
<line x1="323.55" y1="28.60" x2="325.95" y2="28.60" stroke="#e48a40" stroke-width="0.5" />
<line x1="335.32" y1="40.25" x2="335.32" y2="37.51" stroke="#e48a40" stroke-width="0.5" />
<line x1="334.12" y1="40.25" x2="336.52" y2="40.25" stroke="#e48a40" stroke-width="0.5" />
<line x1="334.12" y1="37.51" x2="336.52" y2="37.51" stroke="#e48a40" stroke-width="0.5" />
<line x1="356.48" y1="50.52" x2="356.48" y2="47.78" stroke="#e48a40" stroke-width="0.5" />
<line x1="355.28" y1="50.52" x2="357.68" y2="50.52" stroke="#e48a40" stroke-width="0.5" />
<line x1="355.28" y1="47.78" x2="357.68" y2="47.78" stroke="#e48a40" stroke-width="0.5" />
<line x1="377.62" y1="60.12" x2="377.62" y2="56.69" stroke="#e48a40" stroke-width="0.5" />
<line x1="376.43" y1="60.12" x2="378.82" y2="60.12" stroke="#e48a40" stroke-width="0.5" />
<line x1="376.43" y1="56.69" x2="378.82" y2="56.69" stroke="#e48a40" stroke-width="0.5" />
<line x1="367.05" y1="55.32" x2="367.05" y2="52.58" stroke="#e48a40" stroke-width="0.5" />
<line x1="365.85" y1="55.32" x2="368.25" y2="55.32" stroke="#e48a40" stroke-width="0.5" />
<line x1="365.85" y1="52.58" x2="368.25" y2="52.58" stroke="#e48a40" stroke-width="0.5" />
<line x1="335.32" y1="44.36" x2="335.32" y2="41.62" stroke="#d0262e" stroke-width="0.5" />
<line x1="334.12" y1="44.36" x2="336.52" y2="44.36" stroke="#d0262e" stroke-width="0.5" />
<line x1="334.12" y1="41.62" x2="336.52" y2="41.62" stroke="#d0262e" stroke-width="0.5" />
<line x1="309.80" y1="68.20" x2="327.70" y2="68.20" stroke="#1e1e24" stroke-width="1.5" />
<text x="329.60" y="70.20" font-size="5.6" text-anchor="start" fill="#222" stroke="#222" stroke-width="0.15" >shControl</text>
<line x1="309.80" y1="74.50" x2="327.70" y2="74.50" stroke="#d0262e" stroke-width="1.7" />
<text x="329.60" y="76.50" font-size="5.6" text-anchor="start" fill="#222" stroke="#222" stroke-width="0.15" >shEZH2</text>
<line x1="309.80" y1="80.80" x2="327.70" y2="80.80" stroke="#e48a40" stroke-width="1.3499999999999999" />
<text x="329.60" y="82.80" font-size="5.6" text-anchor="start" fill="#222" stroke="#222" stroke-width="0.15" >shSUZ12</text>
<text x="345.90" y="105.60" font-size="5.5" text-anchor="middle" fill="#222" stroke="#222" stroke-width="0.15" >Days post infection</text>
<text x="287.20" y="48.90" font-size="5.5" text-anchor="middle" fill="#222" stroke="#222" stroke-width="0.15" transform="rotate(-90 287.2 48.9)">Relative Venus+ cell (%)</text>
<line x1="427.30" y1="6.00" x2="427.30" y2="88.20" stroke="#333" stroke-width="0.6" />
<line x1="427.30" y1="88.20" x2="512.80" y2="88.20" stroke="#333" stroke-width="0.6" />
<line x1="425.80" y1="88.20" x2="427.30" y2="88.20" stroke="#333" stroke-width="0.6" />
<text x="424.00" y="90.20" font-size="5.7" text-anchor="end" fill="#222" stroke="#222" stroke-width="0.15" >0</text>
<line x1="425.80" y1="74.50" x2="427.30" y2="74.50" stroke="#333" stroke-width="0.6" />
<text x="424.00" y="76.50" font-size="5.7" text-anchor="end" fill="#222" stroke="#222" stroke-width="0.15" >20</text>
<line x1="425.80" y1="60.80" x2="427.30" y2="60.80" stroke="#333" stroke-width="0.6" />
<text x="424.00" y="62.80" font-size="5.7" text-anchor="end" fill="#222" stroke="#222" stroke-width="0.15" >40</text>
<line x1="425.80" y1="47.10" x2="427.30" y2="47.10" stroke="#333" stroke-width="0.6" />
<text x="424.00" y="49.10" font-size="5.7" text-anchor="end" fill="#222" stroke="#222" stroke-width="0.15" >60</text>
<line x1="425.80" y1="33.40" x2="427.30" y2="33.40" stroke="#333" stroke-width="0.6" />
<text x="424.00" y="35.40" font-size="5.7" text-anchor="end" fill="#222" stroke="#222" stroke-width="0.15" >80</text>
<line x1="425.80" y1="19.70" x2="427.30" y2="19.70" stroke="#333" stroke-width="0.6" />
<text x="424.00" y="21.70" font-size="5.7" text-anchor="end" fill="#222" stroke="#222" stroke-width="0.15" >100</text>
<line x1="425.80" y1="6.00" x2="427.30" y2="6.00" stroke="#333" stroke-width="0.6" />
<text x="424.00" y="8.00" font-size="5.7" text-anchor="end" fill="#222" stroke="#222" stroke-width="0.15" >120</text>
<line x1="427.30" y1="88.20" x2="427.30" y2="89.70" stroke="#333" stroke-width="0.6" />
<text x="427.30" y="96.90" font-size="5.7" text-anchor="middle" fill="#222" stroke="#222" stroke-width="0.15" >8</text>
<line x1="448.43" y1="88.20" x2="448.43" y2="89.70" stroke="#333" stroke-width="0.6" />
<text x="448.43" y="96.90" font-size="5.7" text-anchor="middle" fill="#222" stroke="#222" stroke-width="0.15" >12</text>
<line x1="469.55" y1="88.20" x2="469.55" y2="89.70" stroke="#333" stroke-width="0.6" />
<text x="469.55" y="96.90" font-size="5.7" text-anchor="middle" fill="#222" stroke="#222" stroke-width="0.15" >16</text>
<line x1="490.68" y1="88.20" x2="490.68" y2="89.70" stroke="#333" stroke-width="0.6" />
<text x="490.68" y="96.90" font-size="5.7" text-anchor="middle" fill="#222" stroke="#222" stroke-width="0.15" >20</text>
<line x1="511.80" y1="88.20" x2="511.80" y2="89.70" stroke="#333" stroke-width="0.6" />
<text x="511.80" y="96.90" font-size="5.7" text-anchor="middle" fill="#222" stroke="#222" stroke-width="0.15" >24</text>
<line x1="437.86" y1="88.20" x2="437.86" y2="89.20" stroke="#333" stroke-width="0.5" />
<line x1="458.99" y1="88.20" x2="458.99" y2="89.20" stroke="#333" stroke-width="0.5" />
<line x1="480.11" y1="88.20" x2="480.11" y2="89.20" stroke="#333" stroke-width="0.5" />
<line x1="501.24" y1="88.20" x2="501.24" y2="89.20" stroke="#333" stroke-width="0.5" />
<text x="497.50" y="10.40" font-size="5.6" text-anchor="middle" fill="#222" stroke="#222" stroke-width="0.15" >TL-Om1</text>
<polyline points="427.30,19.70 437.86,18.33 448.43,20.38 458.99,21.07 469.55,27.23 480.11,27.92 490.68,26.55 501.24,27.92 511.80,28.60" fill="none" stroke="#1e1e24" stroke-width="1.3" stroke-linejoin="round" />
<polyline points="427.30,19.70 437.86,25.86 448.43,35.45 458.99,47.10 469.55,58.06 480.11,65.59 490.68,67.65 501.24,71.08 511.80,74.50" fill="none" stroke="#d0262e" stroke-width="1.5" stroke-linejoin="round" />
<polyline points="427.30,19.70 437.86,19.70 448.43,25.18 458.99,31.34 469.55,45.05 480.11,54.63 490.68,56.69 501.24,64.22 511.80,71.76" fill="none" stroke="#e48a40" stroke-width="1.15" stroke-linejoin="round" />
<line x1="436.66" y1="18.33" x2="439.06" y2="18.33" stroke="#1e1e24" stroke-width="1.0" />
<line x1="447.23" y1="20.38" x2="449.62" y2="20.38" stroke="#1e1e24" stroke-width="1.0" />
<line x1="457.79" y1="21.07" x2="460.19" y2="21.07" stroke="#1e1e24" stroke-width="1.0" />
<line x1="468.35" y1="27.23" x2="470.75" y2="27.23" stroke="#1e1e24" stroke-width="1.0" />
<line x1="478.91" y1="27.92" x2="481.31" y2="27.92" stroke="#1e1e24" stroke-width="1.0" />
<line x1="489.48" y1="26.55" x2="491.88" y2="26.55" stroke="#1e1e24" stroke-width="1.0" />
<line x1="500.04" y1="27.92" x2="502.44" y2="27.92" stroke="#1e1e24" stroke-width="1.0" />
<line x1="510.60" y1="28.60" x2="513.00" y2="28.60" stroke="#1e1e24" stroke-width="1.0" />
<line x1="436.66" y1="25.86" x2="439.06" y2="25.86" stroke="#d0262e" stroke-width="1.0" />
<line x1="447.23" y1="35.45" x2="449.62" y2="35.45" stroke="#d0262e" stroke-width="1.0" />
<line x1="457.79" y1="47.10" x2="460.19" y2="47.10" stroke="#d0262e" stroke-width="1.0" />
<line x1="468.35" y1="58.06" x2="470.75" y2="58.06" stroke="#d0262e" stroke-width="1.0" />
<line x1="478.91" y1="65.59" x2="481.31" y2="65.59" stroke="#d0262e" stroke-width="1.0" />
<line x1="489.48" y1="67.65" x2="491.88" y2="67.65" stroke="#d0262e" stroke-width="1.0" />
<line x1="500.04" y1="71.08" x2="502.44" y2="71.08" stroke="#d0262e" stroke-width="1.0" />
<line x1="510.60" y1="74.50" x2="513.00" y2="74.50" stroke="#d0262e" stroke-width="1.0" />
<line x1="436.66" y1="19.70" x2="439.06" y2="19.70" stroke="#e48a40" stroke-width="1.0" />
<line x1="447.23" y1="25.18" x2="449.62" y2="25.18" stroke="#e48a40" stroke-width="1.0" />
<line x1="457.79" y1="31.34" x2="460.19" y2="31.34" stroke="#e48a40" stroke-width="1.0" />
<line x1="468.35" y1="45.05" x2="470.75" y2="45.05" stroke="#e48a40" stroke-width="1.0" />
<line x1="478.91" y1="54.63" x2="481.31" y2="54.63" stroke="#e48a40" stroke-width="1.0" />
<line x1="489.48" y1="56.69" x2="491.88" y2="56.69" stroke="#e48a40" stroke-width="1.0" />
<line x1="500.04" y1="64.22" x2="502.44" y2="64.22" stroke="#e48a40" stroke-width="1.0" />
<line x1="510.60" y1="71.76" x2="513.00" y2="71.76" stroke="#e48a40" stroke-width="1.0" />
<line x1="437.86" y1="20.38" x2="437.86" y2="16.27" stroke="#1e1e24" stroke-width="0.5" />
<line x1="436.66" y1="20.38" x2="439.06" y2="20.38" stroke="#1e1e24" stroke-width="0.5" />
<line x1="436.66" y1="16.27" x2="439.06" y2="16.27" stroke="#1e1e24" stroke-width="0.5" />
<line x1="437.86" y1="28.60" x2="437.86" y2="23.12" stroke="#d0262e" stroke-width="0.5" />
<line x1="436.66" y1="28.60" x2="439.06" y2="28.60" stroke="#d0262e" stroke-width="0.5" />
<line x1="436.66" y1="23.12" x2="439.06" y2="23.12" stroke="#d0262e" stroke-width="0.5" />
<line x1="458.99" y1="51.21" x2="458.99" y2="42.99" stroke="#d0262e" stroke-width="0.5" />
<line x1="457.79" y1="51.21" x2="460.19" y2="51.21" stroke="#d0262e" stroke-width="0.5" />
<line x1="457.79" y1="42.99" x2="460.19" y2="42.99" stroke="#d0262e" stroke-width="0.5" />
<line x1="458.99" y1="23.12" x2="458.99" y2="19.02" stroke="#1e1e24" stroke-width="0.5" />
<line x1="457.79" y1="23.12" x2="460.19" y2="23.12" stroke="#1e1e24" stroke-width="0.5" />
<line x1="457.79" y1="19.02" x2="460.19" y2="19.02" stroke="#1e1e24" stroke-width="0.5" />
<line x1="469.55" y1="29.29" x2="469.55" y2="25.18" stroke="#1e1e24" stroke-width="0.5" />
<line x1="468.35" y1="29.29" x2="470.75" y2="29.29" stroke="#1e1e24" stroke-width="0.5" />
<line x1="468.35" y1="25.18" x2="470.75" y2="25.18" stroke="#1e1e24" stroke-width="0.5" />
<line x1="469.55" y1="47.10" x2="469.55" y2="42.99" stroke="#e48a40" stroke-width="0.5" />
<line x1="468.35" y1="47.10" x2="470.75" y2="47.10" stroke="#e48a40" stroke-width="0.5" />
<line x1="468.35" y1="42.99" x2="470.75" y2="42.99" stroke="#e48a40" stroke-width="0.5" />
<line x1="458.99" y1="32.71" x2="458.99" y2="29.98" stroke="#e48a40" stroke-width="0.5" />
<line x1="457.79" y1="32.71" x2="460.19" y2="32.71" stroke="#e48a40" stroke-width="0.5" />
<line x1="457.79" y1="29.98" x2="460.19" y2="29.98" stroke="#e48a40" stroke-width="0.5" />
<line x1="448.43" y1="26.55" x2="448.43" y2="23.81" stroke="#e48a40" stroke-width="0.5" />
<line x1="447.23" y1="26.55" x2="449.62" y2="26.55" stroke="#e48a40" stroke-width="0.5" />
<line x1="447.23" y1="23.81" x2="449.62" y2="23.81" stroke="#e48a40" stroke-width="0.5" />
<line x1="490.68" y1="27.92" x2="490.68" y2="25.18" stroke="#1e1e24" stroke-width="0.5" />
<line x1="489.48" y1="27.92" x2="491.88" y2="27.92" stroke="#1e1e24" stroke-width="0.5" />
<line x1="489.48" y1="25.18" x2="491.88" y2="25.18" stroke="#1e1e24" stroke-width="0.5" />
<line x1="501.24" y1="29.98" x2="501.24" y2="25.86" stroke="#1e1e24" stroke-width="0.5" />
<line x1="500.04" y1="29.98" x2="502.44" y2="29.98" stroke="#1e1e24" stroke-width="0.5" />
<line x1="500.04" y1="25.86" x2="502.44" y2="25.86" stroke="#1e1e24" stroke-width="0.5" />
<line x1="511.80" y1="29.98" x2="511.80" y2="27.23" stroke="#1e1e24" stroke-width="0.5" />
<line x1="510.60" y1="29.98" x2="513.00" y2="29.98" stroke="#1e1e24" stroke-width="0.5" />
<line x1="510.60" y1="27.23" x2="513.00" y2="27.23" stroke="#1e1e24" stroke-width="0.5" />
<line x1="501.24" y1="65.59" x2="501.24" y2="62.86" stroke="#e48a40" stroke-width="0.5" />
<line x1="500.04" y1="65.59" x2="502.44" y2="65.59" stroke="#e48a40" stroke-width="0.5" />
<line x1="500.04" y1="62.86" x2="502.44" y2="62.86" stroke="#e48a40" stroke-width="0.5" />
<line x1="431.30" y1="68.20" x2="449.20" y2="68.20" stroke="#1e1e24" stroke-width="1.5" />
<text x="451.10" y="70.20" font-size="5.6" text-anchor="start" fill="#222" stroke="#222" stroke-width="0.15" >shControl</text>
<line x1="431.30" y1="74.50" x2="449.20" y2="74.50" stroke="#d0262e" stroke-width="1.7" />
<text x="451.10" y="76.50" font-size="5.6" text-anchor="start" fill="#222" stroke="#222" stroke-width="0.15" >shEZH2</text>
<line x1="431.30" y1="80.80" x2="449.20" y2="80.80" stroke="#e48a40" stroke-width="1.3499999999999999" />
<text x="451.10" y="82.80" font-size="5.6" text-anchor="start" fill="#222" stroke="#222" stroke-width="0.15" >shSUZ12</text>
<text x="469.55" y="105.60" font-size="5.5" text-anchor="middle" fill="#222" stroke="#222" stroke-width="0.15" >Days post infection</text>
<text x="410.90" y="48.90" font-size="5.5" text-anchor="middle" fill="#222" stroke="#222" stroke-width="0.15" transform="rotate(-90 410.9 48.9)">Relative Venus+ cell (%)</text>
<text x="280.40" y="115.20" font-size="8.1" text-anchor="start" fill="#111" stroke="#111" stroke-width="0.15" font-weight="bold" >D</text>
<line x1="300.80" y1="117.60" x2="300.80" y2="188.40" stroke="#333" stroke-width="0.6" />
<line x1="300.80" y1="188.40" x2="382.50" y2="188.40" stroke="#333" stroke-width="0.6" />
<line x1="299.30" y1="188.40" x2="300.80" y2="188.40" stroke="#333" stroke-width="0.6" />
<text x="298.20" y="190.40" font-size="5.6" text-anchor="end" fill="#222" stroke="#222" stroke-width="0.15" >0</text>
<line x1="299.30" y1="174.24" x2="300.80" y2="174.24" stroke="#333" stroke-width="0.6" />
<text x="298.20" y="176.24" font-size="5.6" text-anchor="end" fill="#222" stroke="#222" stroke-width="0.15" >20</text>
<line x1="299.30" y1="160.08" x2="300.80" y2="160.08" stroke="#333" stroke-width="0.6" />
<text x="298.20" y="162.08" font-size="5.6" text-anchor="end" fill="#222" stroke="#222" stroke-width="0.15" >40</text>
<line x1="299.30" y1="145.92" x2="300.80" y2="145.92" stroke="#333" stroke-width="0.6" />
<text x="298.20" y="147.92" font-size="5.6" text-anchor="end" fill="#222" stroke="#222" stroke-width="0.15" >60</text>
<line x1="299.30" y1="131.76" x2="300.80" y2="131.76" stroke="#333" stroke-width="0.6" />
<text x="298.20" y="133.76" font-size="5.6" text-anchor="end" fill="#222" stroke="#222" stroke-width="0.15" >80</text>
<line x1="299.30" y1="117.60" x2="300.80" y2="117.60" stroke="#333" stroke-width="0.6" />
<text x="298.20" y="119.60" font-size="5.6" text-anchor="end" fill="#222" stroke="#222" stroke-width="0.15" >100</text>
<line x1="300.80" y1="188.40" x2="300.80" y2="189.80" stroke="#333" stroke-width="0.6" />
<text x="300.80" y="196.30" font-size="5.6" text-anchor="middle" fill="#222" stroke="#222" stroke-width="0.15" >0</text>
<line x1="317.00" y1="188.40" x2="317.00" y2="189.80" stroke="#333" stroke-width="0.6" />
<text x="317.00" y="196.30" font-size="5.6" text-anchor="middle" fill="#222" stroke="#222" stroke-width="0.15" >1</text>
<line x1="333.20" y1="188.40" x2="333.20" y2="189.80" stroke="#333" stroke-width="0.6" />
<text x="333.20" y="196.30" font-size="5.6" text-anchor="middle" fill="#222" stroke="#222" stroke-width="0.15" >10</text>
<line x1="349.40" y1="188.40" x2="349.40" y2="189.80" stroke="#333" stroke-width="0.6" />
<text x="349.40" y="196.30" font-size="5.6" text-anchor="middle" fill="#222" stroke="#222" stroke-width="0.15" >100</text>
<line x1="365.60" y1="188.40" x2="365.60" y2="189.80" stroke="#333" stroke-width="0.6" />
<text x="365.60" y="196.30" font-size="5.6" text-anchor="middle" fill="#222" stroke="#222" stroke-width="0.15" >1000</text>
<line x1="381.80" y1="188.40" x2="381.80" y2="189.80" stroke="#333" stroke-width="0.6" />
<text x="381.80" y="196.30" font-size="5.6" text-anchor="middle" fill="#222" stroke="#222" stroke-width="0.15" >10000</text>
<line x1="300.80" y1="153.00" x2="382.50" y2="153.00" stroke="#333" stroke-width="0.55" />
<path d="M301.80 152.20h1v1.6h-1zM306.00 152.20h1v1.6h-1zM307.75 152.20h1v1.6h-1zM309.50 152.20h1v1.6h-1zM311.25 152.20h1v1.6h-1zM313.00 152.20h1v1.6h-1zM314.75 152.20h1v1.6h-1zM316.50 152.20h1v1.6h-1zM320.70 152.20h1v1.6h-1zM322.45 152.20h1v1.6h-1zM324.20 152.20h1v1.6h-1zM325.95 152.20h1v1.6h-1zM327.70 152.20h1v1.6h-1zM329.45 152.20h1v1.6h-1zM331.20 152.20h1v1.6h-1zM334.50 152.20h1v1.6h-1zM336.25 152.20h1v1.6h-1zM338.00 152.20h1v1.6h-1zM339.75 152.20h1v1.6h-1zM341.50 152.20h1v1.6h-1zM343.25 152.20h1v1.6h-1zM345.00 152.20h1v1.6h-1zM348.50 152.20h1v1.6h-1zM350.25 152.20h1v1.6h-1zM352.00 152.20h1v1.6h-1zM358.30 152.20h1v1.6h-1zM360.05 152.20h1v1.6h-1zM361.80 152.20h1v1.6h-1zM363.55 152.20h1v1.6h-1zM365.30 152.20h1v1.6h-1zM371.50 152.20h1v1.6h-1zM373.25 152.20h1v1.6h-1zM375.00 152.20h1v1.6h-1zM376.75 152.20h1v1.6h-1zM378.50 152.20h1v1.6h-1zM380.25 152.20h1v1.6h-1zM382.00 152.20h1v1.6h-1z" fill="#1a1a1a"/>
<text x="312.00" y="175.20" font-size="5.6" text-anchor="start" fill="#222" stroke="#222" stroke-width="0.15" >TL-Om1</text>
<line x1="352.25" y1="155.83" x2="352.25" y2="148.75" stroke="#3a7fc6" stroke-width="0.45" />
<line x1="351.15" y1="148.75" x2="353.35" y2="148.75" stroke="#3a7fc6" stroke-width="0.45" />
<line x1="351.15" y1="155.83" x2="353.35" y2="155.83" stroke="#3a7fc6" stroke-width="0.45" />
<line x1="362.01" y1="167.16" x2="362.01" y2="161.50" stroke="#d2783a" stroke-width="0.45" />
<line x1="360.91" y1="161.50" x2="363.11" y2="161.50" stroke="#d2783a" stroke-width="0.45" />
<line x1="360.91" y1="167.16" x2="363.11" y2="167.16" stroke="#d2783a" stroke-width="0.45" />
<polyline points="300.80,121.14 303.65,128.93 313.41,136.36 323.45,137.42 333.20,146.63 342.95,147.69 352.25,152.29 362.01,163.62 372.05,165.74" fill="none" stroke="#4282c6" stroke-width="0.9" stroke-linejoin="round" />
<circle cx="300.80" cy="121.14" r="0.9" fill="#4282c6"/>
<circle cx="303.65" cy="128.93" r="0.9" fill="#4282c6"/>
<circle cx="313.41" cy="136.36" r="0.9" fill="#4282c6"/>
<circle cx="323.45" cy="137.42" r="0.9" fill="#4282c6"/>
<circle cx="333.20" cy="146.63" r="0.9" fill="#4282c6"/>
<circle cx="342.95" cy="147.69" r="0.9" fill="#4282c6"/>
<circle cx="352.25" cy="152.29" r="0.9" fill="#4282c6"/>
<circle cx="362.01" cy="163.62" r="0.9" fill="#4282c6"/>
<circle cx="372.05" cy="165.74" r="0.9" fill="#4282c6"/>
<polyline points="300.80,119.72 303.65,126.10 313.41,131.05 323.45,132.47 333.20,138.84 342.95,139.69 352.25,142.03 362.01,164.47 372.05,179.20" fill="none" stroke="#cc7c48" stroke-width="0.9" stroke-linejoin="round" />
<circle cx="300.80" cy="119.72" r="0.9" fill="#cc7c48"/>
<circle cx="303.65" cy="126.10" r="0.9" fill="#cc7c48"/>
<circle cx="313.41" cy="131.05" r="0.9" fill="#cc7c48"/>
<circle cx="323.45" cy="132.47" r="0.9" fill="#cc7c48"/>
<circle cx="333.20" cy="138.84" r="0.9" fill="#cc7c48"/>
<circle cx="342.95" cy="139.69" r="0.9" fill="#cc7c48"/>
<circle cx="352.25" cy="142.03" r="0.9" fill="#cc7c48"/>
<circle cx="362.01" cy="164.47" r="0.9" fill="#cc7c48"/>
<circle cx="372.05" cy="179.20" r="0.9" fill="#cc7c48"/>
<polyline points="300.80,119.72 303.65,123.26 313.41,127.87 323.45,132.47 333.20,144.50 342.95,145.92 352.25,153.28 362.01,181.46 372.05,188.40" fill="none" stroke="#9898c8" stroke-width="0.9" stroke-linejoin="round" />
<circle cx="300.80" cy="119.72" r="0.9" fill="#9898c8"/>
<circle cx="303.65" cy="123.26" r="0.9" fill="#9898c8"/>
<circle cx="313.41" cy="127.87" r="0.9" fill="#9898c8"/>
<circle cx="323.45" cy="132.47" r="0.9" fill="#9898c8"/>
<circle cx="333.20" cy="144.50" r="0.9" fill="#9898c8"/>
<circle cx="342.95" cy="145.92" r="0.9" fill="#9898c8"/>
<circle cx="352.25" cy="153.28" r="0.9" fill="#9898c8"/>
<circle cx="362.01" cy="181.46" r="0.9" fill="#9898c8"/>
<circle cx="372.05" cy="188.40" r="0.9" fill="#9898c8"/>
<polyline points="300.80,117.60 303.65,118.31 313.41,123.26 323.45,132.47 333.20,150.17 342.95,150.17 352.25,157.96 362.01,188.40" fill="none" stroke="#ecc828" stroke-width="0.9" stroke-linejoin="round" />
<circle cx="300.80" cy="117.60" r="0.9" fill="#ecc828"/>
<circle cx="303.65" cy="118.31" r="0.9" fill="#ecc828"/>
<circle cx="313.41" cy="123.26" r="0.9" fill="#ecc828"/>
<circle cx="323.45" cy="132.47" r="0.9" fill="#ecc828"/>
<circle cx="333.20" cy="150.17" r="0.9" fill="#ecc828"/>
<circle cx="342.95" cy="150.17" r="0.9" fill="#ecc828"/>
<circle cx="352.25" cy="157.96" r="0.9" fill="#ecc828"/>
<circle cx="362.01" cy="188.40" r="0.9" fill="#ecc828"/>
<line x1="356.70" y1="113.50" x2="375.20" y2="113.50" stroke="#4282c6" stroke-width="0.85" />
<circle cx="366.10" cy="113.50" r="0.95" fill="#4282c6"/>
<text x="377.00" y="115.50" font-size="5.6" text-anchor="start" fill="#222" stroke="#222" stroke-width="0.15" >day7</text>
<line x1="356.70" y1="121.93" x2="375.20" y2="121.93" stroke="#cc7c48" stroke-width="0.85" />
<circle cx="366.10" cy="121.93" r="0.95" fill="#cc7c48"/>
<text x="377.00" y="123.93" font-size="5.6" text-anchor="start" fill="#222" stroke="#222" stroke-width="0.15" >day10</text>
<line x1="356.70" y1="130.36" x2="375.20" y2="130.36" stroke="#9898c8" stroke-width="0.85" />
<circle cx="366.10" cy="130.36" r="0.95" fill="#9898c8"/>
<text x="377.00" y="132.36" font-size="5.6" text-anchor="start" fill="#222" stroke="#222" stroke-width="0.15" >day12</text>
<line x1="356.70" y1="138.79" x2="375.20" y2="138.79" stroke="#ecc828" stroke-width="0.85" />
<circle cx="366.10" cy="138.79" r="0.95" fill="#ecc828"/>
<text x="377.00" y="140.79" font-size="5.6" text-anchor="start" fill="#222" stroke="#222" stroke-width="0.15" >day14</text>
<text x="342.11" y="206.60" font-size="5.4" text-anchor="middle" fill="#222" stroke="#222" stroke-width="0.15" >GSK126 (nM)</text>
<text x="288.60" y="152.80" font-size="5.6" text-anchor="middle" fill="#222" stroke="#222" stroke-width="0.15" transform="rotate(-90 288.6 152.8)">Relative viability (%)</text>
<line x1="425.20" y1="118.54" x2="425.20" y2="186.70" stroke="#333" stroke-width="0.6" />
<line x1="425.20" y1="186.70" x2="505.50" y2="186.70" stroke="#333" stroke-width="0.6" />
<line x1="423.70" y1="186.70" x2="425.20" y2="186.70" stroke="#333" stroke-width="0.6" />
<text x="422.60" y="188.70" font-size="5.6" text-anchor="end" fill="#222" stroke="#222" stroke-width="0.15" >0</text>
<line x1="423.70" y1="175.34" x2="425.20" y2="175.34" stroke="#333" stroke-width="0.6" />
<text x="422.60" y="177.34" font-size="5.6" text-anchor="end" fill="#222" stroke="#222" stroke-width="0.15" >20</text>
<line x1="423.70" y1="163.98" x2="425.20" y2="163.98" stroke="#333" stroke-width="0.6" />
<text x="422.60" y="165.98" font-size="5.6" text-anchor="end" fill="#222" stroke="#222" stroke-width="0.15" >40</text>
<line x1="423.70" y1="152.62" x2="425.20" y2="152.62" stroke="#333" stroke-width="0.6" />
<text x="422.60" y="154.62" font-size="5.6" text-anchor="end" fill="#222" stroke="#222" stroke-width="0.15" >60</text>
<line x1="423.70" y1="141.26" x2="425.20" y2="141.26" stroke="#333" stroke-width="0.6" />
<text x="422.60" y="143.26" font-size="5.6" text-anchor="end" fill="#222" stroke="#222" stroke-width="0.15" >80</text>
<line x1="423.70" y1="129.90" x2="425.20" y2="129.90" stroke="#333" stroke-width="0.6" />
<text x="422.60" y="131.90" font-size="5.6" text-anchor="end" fill="#222" stroke="#222" stroke-width="0.15" >100</text>
<line x1="423.70" y1="118.54" x2="425.20" y2="118.54" stroke="#333" stroke-width="0.6" />
<text x="422.60" y="120.54" font-size="5.6" text-anchor="end" fill="#222" stroke="#222" stroke-width="0.15" >120</text>
<line x1="425.20" y1="186.70" x2="425.20" y2="188.10" stroke="#333" stroke-width="0.6" />
<text x="425.20" y="196.30" font-size="5.6" text-anchor="middle" fill="#222" stroke="#222" stroke-width="0.15" >0</text>
<line x1="441.30" y1="186.70" x2="441.30" y2="188.10" stroke="#333" stroke-width="0.6" />
<text x="441.30" y="196.30" font-size="5.6" text-anchor="middle" fill="#222" stroke="#222" stroke-width="0.15" >1</text>
<line x1="457.40" y1="186.70" x2="457.40" y2="188.10" stroke="#333" stroke-width="0.6" />
<text x="457.40" y="196.30" font-size="5.6" text-anchor="middle" fill="#222" stroke="#222" stroke-width="0.15" >10</text>
<line x1="473.50" y1="186.70" x2="473.50" y2="188.10" stroke="#333" stroke-width="0.6" />
<text x="473.50" y="196.30" font-size="5.6" text-anchor="middle" fill="#222" stroke="#222" stroke-width="0.15" >100</text>
<line x1="489.60" y1="186.70" x2="489.60" y2="188.10" stroke="#333" stroke-width="0.6" />
<text x="489.60" y="196.30" font-size="5.6" text-anchor="middle" fill="#222" stroke="#222" stroke-width="0.15" >1000</text>
<line x1="505.70" y1="186.70" x2="505.70" y2="188.10" stroke="#333" stroke-width="0.6" />
<text x="505.70" y="196.30" font-size="5.6" text-anchor="middle" fill="#222" stroke="#222" stroke-width="0.15" >10000</text>
<line x1="425.20" y1="158.30" x2="505.50" y2="158.30" stroke="#333" stroke-width="0.55" />
<path d="M426.00 157.50h1v1.6h-1zM429.20 157.50h1v1.6h-1zM430.95 157.50h1v1.6h-1zM432.70 157.50h1v1.6h-1zM434.45 157.50h1v1.6h-1zM436.20 157.50h1v1.6h-1zM437.95 157.50h1v1.6h-1zM439.70 157.50h1v1.6h-1zM444.70 157.50h1v1.6h-1zM446.45 157.50h1v1.6h-1zM448.20 157.50h1v1.6h-1zM449.95 157.50h1v1.6h-1zM451.70 157.50h1v1.6h-1zM453.45 157.50h1v1.6h-1zM455.20 157.50h1v1.6h-1zM460.30 157.50h1v1.6h-1zM462.05 157.50h1v1.6h-1zM463.80 157.50h1v1.6h-1zM465.55 157.50h1v1.6h-1zM467.30 157.50h1v1.6h-1zM469.05 157.50h1v1.6h-1zM470.80 157.50h1v1.6h-1zM477.50 157.50h1v1.6h-1zM479.25 157.50h1v1.6h-1zM481.00 157.50h1v1.6h-1zM482.75 157.50h1v1.6h-1zM484.50 157.50h1v1.6h-1zM486.25 157.50h1v1.6h-1zM488.00 157.50h1v1.6h-1zM492.10 157.50h1v1.6h-1zM493.85 157.50h1v1.6h-1zM495.60 157.50h1v1.6h-1zM497.35 157.50h1v1.6h-1zM499.10 157.50h1v1.6h-1zM500.85 157.50h1v1.6h-1zM502.60 157.50h1v1.6h-1zM504.35 157.50h1v1.6h-1z" fill="#1a1a1a"/>
<text x="437.40" y="174.40" font-size="5.6" text-anchor="start" fill="#222" stroke="#222" stroke-width="0.15" >DLCL2</text>
<line x1="437.73" y1="131.04" x2="437.73" y2="124.22" stroke="#c8a0d0" stroke-width="0.45" />
<line x1="436.63" y1="124.22" x2="438.83" y2="124.22" stroke="#c8a0d0" stroke-width="0.45" />
<line x1="436.63" y1="131.04" x2="438.83" y2="131.04" stroke="#c8a0d0" stroke-width="0.45" />
<line x1="447.71" y1="132.17" x2="447.71" y2="124.79" stroke="#c8a0d0" stroke-width="0.45" />
<line x1="446.61" y1="124.79" x2="448.81" y2="124.79" stroke="#c8a0d0" stroke-width="0.45" />
<line x1="446.61" y1="132.17" x2="448.81" y2="132.17" stroke="#c8a0d0" stroke-width="0.45" />
<line x1="457.40" y1="130.47" x2="457.40" y2="125.36" stroke="#c8a0d0" stroke-width="0.45" />
<line x1="456.30" y1="125.36" x2="458.50" y2="125.36" stroke="#c8a0d0" stroke-width="0.45" />
<line x1="456.30" y1="130.47" x2="458.50" y2="130.47" stroke="#c8a0d0" stroke-width="0.45" />
<line x1="476.34" y1="135.58" x2="476.34" y2="127.63" stroke="#e06a30" stroke-width="0.45" />
<line x1="475.24" y1="127.63" x2="477.44" y2="127.63" stroke="#e06a30" stroke-width="0.45" />
<line x1="475.24" y1="135.58" x2="477.44" y2="135.58" stroke="#e06a30" stroke-width="0.45" />
<line x1="486.03" y1="166.25" x2="486.03" y2="159.44" stroke="#3a6fc0" stroke-width="0.45" />
<line x1="484.93" y1="159.44" x2="487.13" y2="159.44" stroke="#3a6fc0" stroke-width="0.45" />
<line x1="484.93" y1="166.25" x2="487.13" y2="166.25" stroke="#3a6fc0" stroke-width="0.45" />
<line x1="496.01" y1="174.20" x2="496.01" y2="165.68" stroke="#3a6fc0" stroke-width="0.45" />
<line x1="494.91" y1="165.68" x2="497.11" y2="165.68" stroke="#3a6fc0" stroke-width="0.45" />
<line x1="494.91" y1="174.20" x2="497.11" y2="174.20" stroke="#3a6fc0" stroke-width="0.45" />
<line x1="496.01" y1="179.88" x2="496.01" y2="173.07" stroke="#c8a0d0" stroke-width="0.45" />
<line x1="494.91" y1="173.07" x2="497.11" y2="173.07" stroke="#c8a0d0" stroke-width="0.45" />
<line x1="494.91" y1="179.88" x2="497.11" y2="179.88" stroke="#c8a0d0" stroke-width="0.45" />
<line x1="447.71" y1="136.72" x2="447.71" y2="132.17" stroke="#e06a30" stroke-width="0.45" />
<line x1="446.61" y1="132.17" x2="448.81" y2="132.17" stroke="#e06a30" stroke-width="0.45" />
<line x1="446.61" y1="136.72" x2="448.81" y2="136.72" stroke="#e06a30" stroke-width="0.45" />
<polyline points="425.20,129.90 437.73,129.90 447.71,129.33 457.40,128.76 467.09,129.33 476.34,138.42 486.03,162.84 496.01,169.66" fill="none" stroke="#4a5eae" stroke-width="0.9" stroke-linejoin="round" />
<circle cx="425.20" cy="129.90" r="0.9" fill="#4a5eae"/>
<circle cx="437.73" cy="129.90" r="0.9" fill="#4a5eae"/>
<circle cx="447.71" cy="129.33" r="0.9" fill="#4a5eae"/>
<circle cx="457.40" cy="128.76" r="0.9" fill="#4a5eae"/>
<circle cx="467.09" cy="129.33" r="0.9" fill="#4a5eae"/>
<circle cx="476.34" cy="138.42" r="0.9" fill="#4a5eae"/>
<circle cx="486.03" cy="162.84" r="0.9" fill="#4a5eae"/>
<circle cx="496.01" cy="169.66" r="0.9" fill="#4a5eae"/>
<polyline points="425.20,129.90 437.73,128.76 447.71,128.20 457.40,127.63 467.09,118.54 476.34,141.26 486.03,169.66 496.01,177.04" fill="none" stroke="#4e9a3c" stroke-width="0.9" stroke-linejoin="round" />
<circle cx="425.20" cy="129.90" r="0.9" fill="#4e9a3c"/>
<circle cx="437.73" cy="128.76" r="0.9" fill="#4e9a3c"/>
<circle cx="447.71" cy="128.20" r="0.9" fill="#4e9a3c"/>
<circle cx="457.40" cy="127.63" r="0.9" fill="#4e9a3c"/>
<circle cx="467.09" cy="118.54" r="0.9" fill="#4e9a3c"/>
<circle cx="476.34" cy="141.26" r="0.9" fill="#4e9a3c"/>
<circle cx="486.03" cy="169.66" r="0.9" fill="#4e9a3c"/>
<circle cx="496.01" cy="177.04" r="0.9" fill="#4e9a3c"/>
<polyline points="425.20,129.90 437.73,138.42 447.71,133.88 457.40,132.74 467.09,127.06 476.34,134.44 486.03,172.50 496.01,183.86" fill="none" stroke="#dc7458" stroke-width="0.9" stroke-linejoin="round" />
<circle cx="425.20" cy="129.90" r="0.9" fill="#dc7458"/>
<circle cx="437.73" cy="138.42" r="0.9" fill="#dc7458"/>
<circle cx="447.71" cy="133.88" r="0.9" fill="#dc7458"/>
<circle cx="457.40" cy="132.74" r="0.9" fill="#dc7458"/>
<circle cx="467.09" cy="127.06" r="0.9" fill="#dc7458"/>
<circle cx="476.34" cy="134.44" r="0.9" fill="#dc7458"/>
<circle cx="486.03" cy="172.50" r="0.9" fill="#dc7458"/>
<circle cx="496.01" cy="183.86" r="0.9" fill="#dc7458"/>
<polyline points="425.20,129.90 437.73,127.06 447.71,127.06 457.40,126.49 467.09,124.22 476.34,132.74 486.03,175.34 496.01,181.02" fill="none" stroke="#b898cc" stroke-width="0.9" stroke-linejoin="round" />
<circle cx="425.20" cy="129.90" r="0.9" fill="#b898cc"/>
<circle cx="437.73" cy="127.06" r="0.9" fill="#b898cc"/>
<circle cx="447.71" cy="127.06" r="0.9" fill="#b898cc"/>
<circle cx="457.40" cy="126.49" r="0.9" fill="#b898cc"/>
<circle cx="467.09" cy="124.22" r="0.9" fill="#b898cc"/>
<circle cx="476.34" cy="132.74" r="0.9" fill="#b898cc"/>
<circle cx="486.03" cy="175.34" r="0.9" fill="#b898cc"/>
<circle cx="496.01" cy="181.02" r="0.9" fill="#b898cc"/>
<polyline points="425.20,129.90 437.73,129.90 447.71,129.90 457.40,129.90 467.09,125.36 476.34,142.40 486.03,181.02 496.01,185.00" fill="none" stroke="#ecc838" stroke-width="0.9" stroke-linejoin="round" />
<circle cx="425.20" cy="129.90" r="0.9" fill="#ecc838"/>
<circle cx="437.73" cy="129.90" r="0.9" fill="#ecc838"/>
<circle cx="447.71" cy="129.90" r="0.9" fill="#ecc838"/>
<circle cx="457.40" cy="129.90" r="0.9" fill="#ecc838"/>
<circle cx="467.09" cy="125.36" r="0.9" fill="#ecc838"/>
<circle cx="476.34" cy="142.40" r="0.9" fill="#ecc838"/>
<circle cx="486.03" cy="181.02" r="0.9" fill="#ecc838"/>
<circle cx="496.01" cy="185.00" r="0.9" fill="#ecc838"/>
<line x1="484.20" y1="116.40" x2="502.70" y2="116.40" stroke="#4a5eae" stroke-width="0.85" />
<circle cx="493.60" cy="116.40" r="0.95" fill="#4a5eae"/>
<text x="504.50" y="118.40" font-size="5.6" text-anchor="start" fill="#222" stroke="#222" stroke-width="0.15" >day6</text>
<line x1="484.20" y1="123.75" x2="502.70" y2="123.75" stroke="#4e9a3c" stroke-width="0.85" />
<circle cx="493.60" cy="123.75" r="0.95" fill="#4e9a3c"/>
<text x="504.50" y="125.75" font-size="5.6" text-anchor="start" fill="#222" stroke="#222" stroke-width="0.15" >day8</text>
<line x1="484.20" y1="131.10" x2="502.70" y2="131.10" stroke="#dc7458" stroke-width="0.85" />
<circle cx="493.60" cy="131.10" r="0.95" fill="#dc7458"/>
<text x="504.50" y="133.10" font-size="5.6" text-anchor="start" fill="#222" stroke="#222" stroke-width="0.15" >day10</text>
<line x1="484.20" y1="138.45" x2="502.70" y2="138.45" stroke="#b898cc" stroke-width="0.85" />
<circle cx="493.60" cy="138.45" r="0.95" fill="#b898cc"/>
<text x="504.50" y="140.45" font-size="5.6" text-anchor="start" fill="#222" stroke="#222" stroke-width="0.15" >day12</text>
<line x1="484.20" y1="145.80" x2="502.70" y2="145.80" stroke="#ecc838" stroke-width="0.85" />
<circle cx="493.60" cy="145.80" r="0.95" fill="#ecc838"/>
<text x="504.50" y="147.80" font-size="5.6" text-anchor="start" fill="#222" stroke="#222" stroke-width="0.15" >day14</text>
<text x="466.25" y="206.60" font-size="5.4" text-anchor="middle" fill="#222" stroke="#222" stroke-width="0.15" >GSK126 (nM)</text>
<text x="405.60" y="152.80" font-size="5.6" text-anchor="middle" fill="#222" stroke="#222" stroke-width="0.15" transform="rotate(-90 405.6 152.8)">Relative viability (%)</text>
<text x="280.20" y="219.30" font-size="8.1" text-anchor="start" fill="#111" stroke="#111" stroke-width="0.15" font-weight="bold" >E</text>
<polygon points="318.60,292.80 322.00,291.80 325.80,290.00 328.00,287.50 330.20,283.00 331.40,278.00 332.60,272.20 333.60,267.50 334.70,263.30 335.80,260.00 336.90,256.10 337.60,253.20 338.30,250.80 339.20,248.50 340.00,246.30 341.00,246.80 341.90,244.50 342.80,242.50 343.70,240.00 344.60,243.00 345.50,247.20 346.40,253.50 347.20,259.70 348.10,266.50 349.00,272.20 350.30,277.50 351.70,282.00 353.00,283.30 354.40,283.00 355.80,282.60 356.80,284.80 357.60,287.50 359.80,292.00 361.60,292.80" fill="#8e8e8e" stroke="#111" stroke-width="0.6"/>
<polyline points="306.00,292.80 309.50,290.80 311.50,288.30 313.50,283.50 315.00,277.60 316.50,271.00 317.70,265.00 318.60,257.00 319.20,250.80 320.30,249.50 321.30,248.00 322.20,246.80 323.00,245.40 324.00,244.80 324.90,243.60 326.20,243.20 327.60,241.80 328.30,240.80 329.00,239.20 329.60,241.50 330.20,243.60 331.50,249.00 332.20,254.00 333.00,259.70 334.70,268.70 336.00,273.50 337.40,277.60 340.00,283.00 343.70,287.50 349.00,291.00 354.40,292.80" fill="none" stroke="#222" stroke-width="0.5"/>
<rect x="300.40" y="222.50" width="71.00" height="70.30" fill="none" stroke="#222" stroke-width="0.6"/>
<line x1="298.90" y1="292.80" x2="300.40" y2="292.80" stroke="#333" stroke-width="0.6" />
<text x="296.20" y="294.80" font-size="5.6" text-anchor="end" fill="#222" stroke="#222" stroke-width="0.15" >0</text>
<line x1="298.90" y1="279.20" x2="300.40" y2="279.20" stroke="#333" stroke-width="0.6" />
<text x="296.20" y="281.20" font-size="5.6" text-anchor="end" fill="#222" stroke="#222" stroke-width="0.15" >20</text>
<line x1="298.90" y1="265.60" x2="300.40" y2="265.60" stroke="#333" stroke-width="0.6" />
<text x="296.20" y="267.60" font-size="5.6" text-anchor="end" fill="#222" stroke="#222" stroke-width="0.15" >40</text>
<line x1="298.90" y1="252.00" x2="300.40" y2="252.00" stroke="#333" stroke-width="0.6" />
<text x="296.20" y="254.00" font-size="5.6" text-anchor="end" fill="#222" stroke="#222" stroke-width="0.15" >60</text>
<line x1="298.90" y1="238.40" x2="300.40" y2="238.40" stroke="#333" stroke-width="0.6" />
<text x="296.20" y="240.40" font-size="5.6" text-anchor="end" fill="#222" stroke="#222" stroke-width="0.15" >80</text>
<line x1="298.90" y1="224.80" x2="300.40" y2="224.80" stroke="#333" stroke-width="0.6" />
<text x="296.20" y="226.80" font-size="5.6" text-anchor="end" fill="#222" stroke="#222" stroke-width="0.15" >100</text>
<line x1="304.00" y1="292.80" x2="304.00" y2="294.30" stroke="#333" stroke-width="0.6" />
<text x="303.70" y="304.40" font-size="5.4" text-anchor="middle" fill="#222" stroke="#222" stroke-width="0.15" >10</text>
<text x="306.10" y="300.60" font-size="3.8" text-anchor="start" fill="#222" stroke="#222" stroke-width="0.15" >0</text>
<line x1="321.00" y1="292.80" x2="321.00" y2="294.30" stroke="#333" stroke-width="0.6" />
<text x="320.70" y="304.40" font-size="5.4" text-anchor="middle" fill="#222" stroke="#222" stroke-width="0.15" >10</text>
<text x="323.10" y="300.60" font-size="3.8" text-anchor="start" fill="#222" stroke="#222" stroke-width="0.15" >1</text>
<line x1="338.00" y1="292.80" x2="338.00" y2="294.30" stroke="#333" stroke-width="0.6" />
<text x="337.70" y="304.40" font-size="5.4" text-anchor="middle" fill="#222" stroke="#222" stroke-width="0.15" >10</text>
<text x="340.10" y="300.60" font-size="3.8" text-anchor="start" fill="#222" stroke="#222" stroke-width="0.15" >2</text>
<line x1="355.00" y1="292.80" x2="355.00" y2="294.30" stroke="#333" stroke-width="0.6" />
<text x="354.70" y="304.40" font-size="5.4" text-anchor="middle" fill="#222" stroke="#222" stroke-width="0.15" >10</text>
<text x="357.10" y="300.60" font-size="3.8" text-anchor="start" fill="#222" stroke="#222" stroke-width="0.15" >3</text>
<line x1="372.00" y1="292.80" x2="372.00" y2="294.30" stroke="#333" stroke-width="0.6" />
<text x="371.70" y="304.40" font-size="5.4" text-anchor="middle" fill="#222" stroke="#222" stroke-width="0.15" >10</text>
<text x="374.10" y="300.60" font-size="3.8" text-anchor="start" fill="#222" stroke="#222" stroke-width="0.15" >4</text>
<text x="336.40" y="310.50" font-size="5.6" text-anchor="middle" fill="#222" stroke="#222" stroke-width="0.15" >Annexin V</text>
<text x="286.00" y="257.00" font-size="5.3" text-anchor="middle" fill="#222" stroke="#222" stroke-width="0.15" transform="rotate(-90 286.0 257)">Relative cell number</text>
<rect x="303.20" y="225.20" width="2.70" height="2.80" fill="#fff" stroke="#222" stroke-width="0.6"/>
<text x="307.60" y="228.50" font-size="5.5" text-anchor="start" fill="#222" stroke="#222" stroke-width="0.15" >GSK126 (-)</text>
<rect x="303.20" y="230.60" width="2.70" height="2.80" fill="#222" />
<text x="307.60" y="233.90" font-size="5.5" text-anchor="start" fill="#222" stroke="#222" stroke-width="0.15" >GSK126 (+)</text>
<line x1="331.50" y1="237.70" x2="361.60" y2="237.70" stroke="#222" stroke-width="0.6" />
<line x1="331.50" y1="236.40" x2="331.50" y2="239.00" stroke="#222" stroke-width="0.6" />
<line x1="361.60" y1="236.40" x2="361.60" y2="239.00" stroke="#222" stroke-width="0.6" />
<text x="347.20" y="234.90" font-size="5.5" text-anchor="middle" fill="#222" stroke="#222" stroke-width="0.15" >90.7</text>
<text x="403.20" y="219.40" font-size="8.1" text-anchor="start" fill="#111" stroke="#111" stroke-width="0.15" font-weight="bold" >F</text>
<line x1="425.00" y1="226.80" x2="425.00" y2="292.60" stroke="#333" stroke-width="0.6" />
<line x1="425.00" y1="292.60" x2="487.20" y2="292.60" stroke="#333" stroke-width="0.6" />
<line x1="423.50" y1="292.60" x2="425.00" y2="292.60" stroke="#333" stroke-width="0.6" />
<text x="421.00" y="294.60" font-size="5.6" text-anchor="end" fill="#222" stroke="#222" stroke-width="0.15" >0</text>
<line x1="423.50" y1="276.28" x2="425.00" y2="276.28" stroke="#333" stroke-width="0.6" />
<text x="421.00" y="278.28" font-size="5.6" text-anchor="end" fill="#222" stroke="#222" stroke-width="0.15" >20</text>
<line x1="423.50" y1="259.95" x2="425.00" y2="259.95" stroke="#333" stroke-width="0.6" />
<text x="421.00" y="261.95" font-size="5.6" text-anchor="end" fill="#222" stroke="#222" stroke-width="0.15" >40</text>
<line x1="423.50" y1="243.62" x2="425.00" y2="243.62" stroke="#333" stroke-width="0.6" />
<text x="421.00" y="245.62" font-size="5.6" text-anchor="end" fill="#222" stroke="#222" stroke-width="0.15" >60</text>
<line x1="423.50" y1="227.30" x2="425.00" y2="227.30" stroke="#333" stroke-width="0.6" />
<text x="421.00" y="229.30" font-size="5.6" text-anchor="end" fill="#222" stroke="#222" stroke-width="0.15" >80</text>
<line x1="455.20" y1="292.60" x2="455.20" y2="294.10" stroke="#333" stroke-width="0.6" />
<line x1="487.20" y1="292.60" x2="487.20" y2="294.10" stroke="#333" stroke-width="0.6" />
<rect x="428.10" y="281.58" width="3.10" height="11.02" fill="#e2e2e2" stroke="#666" stroke-width="0.25"/>
<rect x="459.30" y="263.87" width="3.10" height="28.73" fill="#e2e2e2" stroke="#666" stroke-width="0.25"/>
<rect x="431.20" y="281.25" width="3.10" height="11.35" fill="#d2d2d2" stroke="#666" stroke-width="0.25"/>
<rect x="462.40" y="258.07" width="3.10" height="34.53" fill="#d2d2d2" stroke="#666" stroke-width="0.25"/>
<rect x="434.30" y="282.07" width="3.10" height="10.53" fill="#bebebe" stroke="#666" stroke-width="0.25"/>
<rect x="465.50" y="257.17" width="3.10" height="35.43" fill="#bebebe" stroke="#666" stroke-width="0.25"/>
<rect x="437.40" y="280.85" width="3.10" height="11.75" fill="#aaaaaa" stroke="#666" stroke-width="0.25"/>
<rect x="468.60" y="257.01" width="3.10" height="35.59" fill="#aaaaaa" stroke="#666" stroke-width="0.25"/>
<rect x="440.50" y="283.95" width="3.10" height="8.65" fill="#969696" stroke="#666" stroke-width="0.25"/>
<rect x="471.70" y="256.85" width="3.10" height="35.75" fill="#969696" stroke="#666" stroke-width="0.25"/>
<rect x="443.60" y="282.40" width="3.10" height="10.20" fill="#646464" stroke="#666" stroke-width="0.25"/>
<rect x="474.80" y="247.54" width="3.10" height="45.06" fill="#646464" stroke="#666" stroke-width="0.25"/>
<rect x="446.70" y="282.72" width="3.10" height="9.88" fill="#3a3a3a" stroke="#666" stroke-width="0.25"/>
<rect x="477.90" y="229.91" width="3.10" height="62.69" fill="#3a3a3a" stroke="#666" stroke-width="0.25"/>
<rect x="449.80" y="280.36" width="3.10" height="12.24" fill="#0c0c0c" stroke="#666" stroke-width="0.25"/>
<rect x="481.00" y="229.91" width="3.10" height="62.69" fill="#0c0c0c" stroke="#666" stroke-width="0.25"/>
<line x1="438.80" y1="224.40" x2="469.20" y2="224.40" stroke="#333" stroke-width="0.7" />
<circle cx="454.2" cy="221.1" r="1.5" fill="#111"/>
<text x="441.00" y="300.60" font-size="5.3" text-anchor="middle" fill="#222" stroke="#222" stroke-width="0.15" >(-)</text>
<text x="471.00" y="300.60" font-size="5.3" text-anchor="middle" fill="#222" stroke="#222" stroke-width="0.15" >(+)</text>
<text x="456.00" y="309.00" font-size="5.6" text-anchor="middle" fill="#222" stroke="#222" stroke-width="0.15" >GSK126</text>
<text x="409.50" y="259.40" font-size="5.5" text-anchor="middle" fill="#222" stroke="#222" stroke-width="0.15" transform="rotate(-90 409.5 259.4)">Apoptosis cell (%)</text>
<rect x="489.20" y="236.80" width="3.20" height="3.20" fill="#e2e2e2" />
<text x="494.20" y="240.70" font-size="5.4" text-anchor="start" fill="#222" stroke="#222" stroke-width="0.15" >ATL#1</text>
<rect x="489.20" y="243.30" width="3.20" height="3.20" fill="#d2d2d2" />
<text x="494.20" y="247.20" font-size="5.4" text-anchor="start" fill="#222" stroke="#222" stroke-width="0.15" >ATL#2</text>
<rect x="489.20" y="249.80" width="3.20" height="3.20" fill="#bebebe" />
<text x="494.20" y="253.70" font-size="5.4" text-anchor="start" fill="#222" stroke="#222" stroke-width="0.15" >ATL#3</text>
<rect x="489.20" y="256.30" width="3.20" height="3.20" fill="#aaaaaa" />
<text x="494.20" y="260.20" font-size="5.4" text-anchor="start" fill="#222" stroke="#222" stroke-width="0.15" >ATL#4</text>
<rect x="489.20" y="262.80" width="3.20" height="3.20" fill="#969696" />
<text x="494.20" y="266.70" font-size="5.4" text-anchor="start" fill="#222" stroke="#222" stroke-width="0.15" >ATL#5</text>
<rect x="489.20" y="269.30" width="3.20" height="3.20" fill="#646464" />
<text x="494.20" y="273.20" font-size="5.4" text-anchor="start" fill="#222" stroke="#222" stroke-width="0.15" >ATL#6</text>
<rect x="489.20" y="275.80" width="3.20" height="3.20" fill="#3a3a3a" />
<text x="494.20" y="279.70" font-size="5.4" text-anchor="start" fill="#222" stroke="#222" stroke-width="0.15" >ATL#7</text>
<rect x="489.20" y="282.30" width="3.20" height="3.20" fill="#0c0c0c" />
<text x="494.20" y="286.20" font-size="5.4" text-anchor="start" fill="#222" stroke="#222" stroke-width="0.15" >ATL#8</text>
<text x="280.50" y="333.20" font-size="8.1" text-anchor="start" fill="#111" stroke="#111" stroke-width="0.15" font-weight="bold" >G</text>
<text x="284.00" y="347.70" font-size="5.5" text-anchor="start" fill="#222" stroke="#222" stroke-width="0.15" >GSK126 (μM)</text>
<text x="328.80" y="347.70" font-size="5.5" text-anchor="middle" fill="#222" stroke="#222" stroke-width="0.15" >0</text>
<text x="349.20" y="347.70" font-size="5.5" text-anchor="middle" fill="#222" stroke="#222" stroke-width="0.15" >0.5</text>
<text x="370.80" y="347.70" font-size="5.5" text-anchor="middle" fill="#222" stroke="#222" stroke-width="0.15" >2</text>
<text x="390.80" y="347.70" font-size="5.5" text-anchor="middle" fill="#222" stroke="#222" stroke-width="0.15" >5</text>
<rect x="319.40" y="355.50" width="82.00" height="10.50" fill="#f4f4f4" stroke="#222" stroke-width="0.6"/>
<rect x="319.40" y="368.70" width="82.00" height="13.30" fill="#f4f4f4" stroke="#222" stroke-width="0.6"/>
<text x="317.00" y="362.00" font-size="5.5" text-anchor="end" fill="#222" stroke="#222" stroke-width="0.15" >H3K27me3</text>
<text x="317.00" y="376.60" font-size="5.5" text-anchor="end" fill="#222" stroke="#222" stroke-width="0.15" >Total H3</text>
<defs><filter id="bl" x="-20%" y="-80%" width="140%" height="260%"><feGaussianBlur stdDeviation="0.55"/></filter><filter id="bl2" x="-20%" y="-80%" width="140%" height="260%"><feGaussianBlur stdDeviation="1.0"/></filter></defs>
<rect x="322.6" y="359.0" width="13.4" height="3.2" rx="1.2" fill="#4a4a4a" filter="url(#bl)"/>
<rect x="340" y="359.5" width="60" height="3.6" fill="#d6d6d6" filter="url(#bl2)"/>
<rect x="346" y="360.2" width="10" height="2.0" fill="#c4c4c4" filter="url(#bl2)"/>
<rect x="362" y="360.2" width="12" height="2.0" fill="#bbbbbb" filter="url(#bl2)"/>
<rect x="384" y="360.2" width="8" height="2.0" fill="#c0c0c0" filter="url(#bl2)"/>
<rect x="322.6" y="374.5" width="15.8" height="2.7" rx="1.2" fill="#303030" filter="url(#bl)"/>
<rect x="343.3" y="374.9" width="14.2" height="2.8" rx="1.2" fill="#2a2a2a" filter="url(#bl)"/>
<polygon points="362.5,375.1 377.4,373.5 377.4,376.0 362.5,377.6" fill="#303030" filter="url(#bl)"/>
<rect x="383.0" y="371.7" width="17.0" height="5.4" rx="2.4" fill="#101010" filter="url(#bl)"/>
<text x="280.20" y="400.60" font-size="8.1" text-anchor="start" fill="#111" stroke="#111" stroke-width="0.15" font-weight="bold" >H</text>
<text x="279.80" y="419.50" font-size="5.5" text-anchor="start" fill="#222" stroke="#222" stroke-width="0.15" >GSK126 (μM)</text>
<text x="325.00" y="419.50" font-size="5.5" text-anchor="middle" fill="#222" stroke="#222" stroke-width="0.15" >0</text>
<text x="342.50" y="419.50" font-size="5.5" text-anchor="middle" fill="#222" stroke="#222" stroke-width="0.15" >5</text>
<rect x="315.20" y="423.60" width="37.80" height="11.00" fill="#f6f6f6" stroke="#222" stroke-width="0.6"/>
<rect x="315.20" y="441.40" width="37.80" height="10.20" fill="#f6f6f6" stroke="#222" stroke-width="0.6"/>
<text x="313.20" y="431.50" font-size="5.5" text-anchor="end" fill="#222" stroke="#222" stroke-width="0.15" >H3K27me3</text>
<text x="313.20" y="448.40" font-size="5.5" text-anchor="end" fill="#222" stroke="#222" stroke-width="0.15" >Total H3</text>
<text x="325.80" y="438.90" font-size="4.6" text-anchor="middle" fill="#222" stroke="#222" stroke-width="0.15" >1</text>
<text x="342.50" y="438.90" font-size="4.6" text-anchor="middle" fill="#222" stroke="#222" stroke-width="0.15" >0.22</text>
<ellipse cx="324.5" cy="428.8" rx="7.0" ry="0.9" fill="#555" filter="url(#bl)"/>
<ellipse cx="343.0" cy="429.0" rx="6.5" ry="0.8" fill="#b0b0b0" filter="url(#bl)"/>
<ellipse cx="324.5" cy="446.4" rx="7.5" ry="1.0" fill="#2a2a2a" filter="url(#bl)"/>
<ellipse cx="343.0" cy="446.4" rx="7.5" ry="1.0" fill="#2a2a2a" filter="url(#bl)"/>
<line x1="385.00" y1="408.50" x2="385.00" y2="460.30" stroke="#333" stroke-width="0.6" />
<line x1="385.00" y1="460.30" x2="410.00" y2="460.30" stroke="#333" stroke-width="0.6" />
<line x1="383.50" y1="460.30" x2="385.00" y2="460.30" stroke="#333" stroke-width="0.6" />
<text x="382.00" y="462.30" font-size="5.6" text-anchor="end" fill="#222" stroke="#222" stroke-width="0.15" >0</text>
<line x1="383.50" y1="435.15" x2="385.00" y2="435.15" stroke="#333" stroke-width="0.6" />
<text x="382.00" y="437.15" font-size="5.6" text-anchor="end" fill="#222" stroke="#222" stroke-width="0.15" >0.5</text>
<line x1="383.50" y1="410.00" x2="385.00" y2="410.00" stroke="#333" stroke-width="0.6" />
<text x="382.00" y="412.00" font-size="5.6" text-anchor="end" fill="#222" stroke="#222" stroke-width="0.15" >1</text>
<line x1="398.00" y1="460.30" x2="398.00" y2="461.80" stroke="#333" stroke-width="0.6" />
<rect x="389.50" y="410.30" width="5.00" height="50.00" fill="#0a0a0a" />
<rect x="401.50" y="441.90" width="5.00" height="18.40" fill="#0a0a0a" />
<line x1="404.00" y1="441.90" x2="404.00" y2="428.50" stroke="#333" stroke-width="0.5" />
<line x1="401.50" y1="428.50" x2="406.50" y2="428.50" stroke="#333" stroke-width="0.5" />
<text x="370.00" y="435.50" font-size="5.5" text-anchor="middle" fill="#222" stroke="#222" stroke-width="0.15" transform="rotate(-90 370.0 435.5)">Relative band intensity</text>
<text x="351.40" y="473.60" font-size="5.5" text-anchor="start" fill="#222" stroke="#222" stroke-width="0.15" >GSK126 (μM)</text>
<text x="391.60" y="473.60" font-size="5.5" text-anchor="middle" fill="#222" stroke="#222" stroke-width="0.15" >0</text>
<text x="404.40" y="473.60" font-size="5.5" text-anchor="middle" fill="#222" stroke="#222" stroke-width="0.15" >5</text>
</svg>
</body></html>
